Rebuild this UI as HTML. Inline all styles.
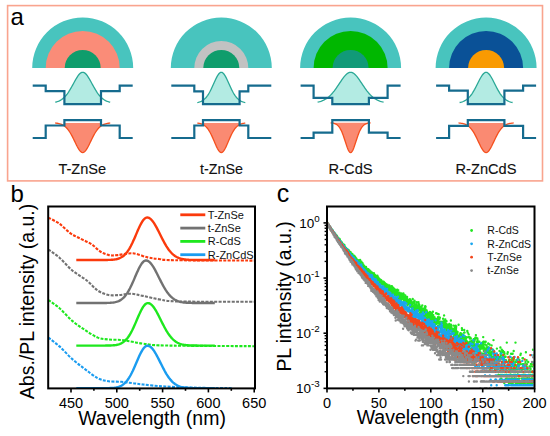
<!DOCTYPE html>
<html><head><meta charset="utf-8"><style>
html,body{margin:0;padding:0;background:#fff;}
svg{display:block;font-family:'Liberation Sans',sans-serif;}
text.s{stroke:#000;stroke-width:0.12px;}
</style></head><body>
<svg width="550" height="436" viewBox="0 0 550 436" style="font-family:'Liberation Sans',sans-serif">
<rect x="7.6" y="5.6" width="534.9" height="175.3" fill="none" stroke="#f9a48e" stroke-width="1.6"/>
<text x="10.5" y="25" font-size="24" fill="#000">a</text>
<path d="M32.20,68.0 A50.5,50.5 0 0 1 133.20,68.0 Z" fill="#48c4be"/>
<path d="M45.70,68.0 A37,37 0 0 1 119.70,68.0 Z" fill="#fa8c78"/>
<path d="M64.70,68.0 A18.0,18.0 0 0 1 100.70,68.0 Z" fill="#0f9d6c"/>
<clipPath id="cw82"><path d="M64.40,60 V104.2 H101.00 V60 Z"/></clipPath>
<path d="M55.20,102.23 L56.12,102.01 L57.03,101.74 L57.95,101.43 L58.87,101.06 L59.78,100.62 L60.70,100.12 L61.62,99.54 L62.53,98.87 L63.45,98.11 L64.37,97.26 L65.28,96.30 L66.20,95.23 L67.12,94.06 L68.03,92.78 L68.95,91.41 L69.87,89.94 L70.78,88.40 L71.70,86.79 L72.62,85.13 L73.53,83.45 L74.45,81.77 L75.37,80.12 L76.28,78.54 L77.20,77.06 L78.12,75.71 L79.03,74.55 L79.95,73.59 L80.87,72.88 L81.78,72.45 L82.70,72.30 L83.62,72.45 L84.53,72.88 L85.45,73.59 L86.37,74.55 L87.28,75.71 L88.20,77.06 L89.12,78.54 L90.03,80.12 L90.95,81.77 L91.87,83.45 L92.78,85.13 L93.70,86.79 L94.62,88.40 L95.53,89.94 L96.45,91.41 L97.37,92.78 L98.28,94.06 L99.20,95.23 L100.12,96.30 L101.03,97.26 L101.95,98.11 L102.87,98.87 L103.78,99.54 L104.70,100.12 L105.62,100.62 L106.53,101.06 L107.45,101.43 L108.37,101.74 L109.28,102.01 L110.20,102.23 L110.20,106.2 L55.20,106.2 Z" fill="#b3ebe3" clip-path="url(#cw82)"/>
<path d="M55.20,102.23 L56.12,102.01 L57.03,101.74 L57.95,101.43 L58.87,101.06 L59.78,100.62 L60.70,100.12 L61.62,99.54 L62.53,98.87 L63.45,98.11 L64.37,97.26 L65.28,96.30 L66.20,95.23 L67.12,94.06 L68.03,92.78 L68.95,91.41 L69.87,89.94 L70.78,88.40 L71.70,86.79 L72.62,85.13 L73.53,83.45 L74.45,81.77 L75.37,80.12 L76.28,78.54 L77.20,77.06 L78.12,75.71 L79.03,74.55 L79.95,73.59 L80.87,72.88 L81.78,72.45 L82.70,72.30 L83.62,72.45 L84.53,72.88 L85.45,73.59 L86.37,74.55 L87.28,75.71 L88.20,77.06 L89.12,78.54 L90.03,80.12 L90.95,81.77 L91.87,83.45 L92.78,85.13 L93.70,86.79 L94.62,88.40 L95.53,89.94 L96.45,91.41 L97.37,92.78 L98.28,94.06 L99.20,95.23 L100.12,96.30 L101.03,97.26 L101.95,98.11 L102.87,98.87 L103.78,99.54 L104.70,100.12 L105.62,100.62 L106.53,101.06 L107.45,101.43 L108.37,101.74 L109.28,102.01 L110.20,102.23" fill="none" stroke="#2aa896" stroke-width="1.3"/>
<path d="M32.70,85.7 H45.70 V91.2 H64.40 V104.2 H101.00 V91.2 H119.70 V85.7 H132.70" fill="none" stroke="#156b8e" stroke-width="2.2"/>
<clipPath id="cv82"><path d="M64.40,121.2 V170 H101.00 V121.2 Z"/></clipPath>
<path d="M55.20,123.02 L56.12,123.12 L57.03,123.25 L57.95,123.41 L58.87,123.60 L59.78,123.83 L60.70,124.12 L61.62,124.47 L62.53,124.89 L63.45,125.39 L64.37,126.00 L65.28,126.71 L66.20,127.55 L67.12,128.51 L68.03,129.61 L68.95,130.85 L69.87,132.23 L70.78,133.75 L71.70,135.40 L72.62,137.15 L73.53,138.99 L74.45,140.88 L75.37,142.80 L76.28,144.68 L77.20,146.49 L78.12,148.17 L79.03,149.66 L79.95,150.89 L80.87,151.82 L81.78,152.40 L82.70,152.60 L83.62,152.40 L84.53,151.82 L85.45,150.89 L86.37,149.66 L87.28,148.17 L88.20,146.49 L89.12,144.68 L90.03,142.80 L90.95,140.88 L91.87,138.99 L92.78,137.15 L93.70,135.40 L94.62,133.75 L95.53,132.23 L96.45,130.85 L97.37,129.61 L98.28,128.51 L99.20,127.55 L100.12,126.71 L101.03,126.00 L101.95,125.39 L102.87,124.89 L103.78,124.47 L104.70,124.12 L105.62,123.83 L106.53,123.60 L107.45,123.41 L108.37,123.25 L109.28,123.12 L110.20,123.02 Z" fill="#fa8a72" clip-path="url(#cv82)"/>
<path d="M55.20,123.02 L56.12,123.12 L57.03,123.25 L57.95,123.41 L58.87,123.60 L59.78,123.83 L60.70,124.12 L61.62,124.47 L62.53,124.89 L63.45,125.39 L64.37,126.00 L65.28,126.71 L66.20,127.55 L67.12,128.51 L68.03,129.61 L68.95,130.85 L69.87,132.23 L70.78,133.75 L71.70,135.40 L72.62,137.15 L73.53,138.99 L74.45,140.88 L75.37,142.80 L76.28,144.68 L77.20,146.49 L78.12,148.17 L79.03,149.66 L79.95,150.89 L80.87,151.82 L81.78,152.40 L82.70,152.60 L83.62,152.40 L84.53,151.82 L85.45,150.89 L86.37,149.66 L87.28,148.17 L88.20,146.49 L89.12,144.68 L90.03,142.80 L90.95,140.88 L91.87,138.99 L92.78,137.15 L93.70,135.40 L94.62,133.75 L95.53,132.23 L96.45,130.85 L97.37,129.61 L98.28,128.51 L99.20,127.55 L100.12,126.71 L101.03,126.00 L101.95,125.39 L102.87,124.89 L103.78,124.47 L104.70,124.12 L105.62,123.83 L106.53,123.60 L107.45,123.41 L108.37,123.25 L109.28,123.12 L110.20,123.02" fill="none" stroke="#f5501e" stroke-width="1.3"/>
<path d="M32.70,138.0 H45.70 V125.5 H64.40 V120.2 H101.00 V125.5 H119.70 V138.0 H132.70" fill="none" stroke="#156b8e" stroke-width="2.2"/>
<text class="s" x="82.30" y="174" font-size="14" text-anchor="middle" fill="#111" textLength="47.7" lengthAdjust="spacingAndGlyphs">T-ZnSe</text>
<path d="M170.80,68.0 A50.5,50.5 0 0 1 271.80,68.0 Z" fill="#48c4be"/>
<path d="M194.30,68.0 A27,27 0 0 1 248.30,68.0 Z" fill="#c2c2c2"/>
<path d="M203.30,68.0 A18.0,18.0 0 0 1 239.30,68.0 Z" fill="#0f9d6c"/>
<clipPath id="cw221"><path d="M203.00,60 V104.2 H239.60 V60 Z"/></clipPath>
<path d="M197.30,102.57 L198.10,102.40 L198.90,102.19 L199.70,101.94 L200.50,101.64 L201.30,101.29 L202.10,100.87 L202.90,100.37 L203.70,99.79 L204.50,99.12 L205.30,98.34 L206.10,97.46 L206.90,96.46 L207.70,95.34 L208.50,94.10 L209.30,92.74 L210.10,91.27 L210.90,89.69 L211.70,88.03 L212.50,86.30 L213.30,84.53 L214.10,82.74 L214.90,80.96 L215.70,79.24 L216.50,77.61 L217.30,76.13 L218.10,74.83 L218.90,73.76 L219.70,72.96 L220.50,72.47 L221.30,72.30 L222.10,72.47 L222.90,72.96 L223.70,73.76 L224.50,74.83 L225.30,76.13 L226.10,77.61 L226.90,79.24 L227.70,80.96 L228.50,82.74 L229.30,84.53 L230.10,86.30 L230.90,88.03 L231.70,89.69 L232.50,91.27 L233.30,92.74 L234.10,94.10 L234.90,95.34 L235.70,96.46 L236.50,97.46 L237.30,98.34 L238.10,99.12 L238.90,99.79 L239.70,100.37 L240.50,100.87 L241.30,101.29 L242.10,101.64 L242.90,101.94 L243.70,102.19 L244.50,102.40 L245.30,102.57 L245.30,106.2 L197.30,106.2 Z" fill="#b3ebe3" clip-path="url(#cw221)"/>
<path d="M197.30,102.57 L198.10,102.40 L198.90,102.19 L199.70,101.94 L200.50,101.64 L201.30,101.29 L202.10,100.87 L202.90,100.37 L203.70,99.79 L204.50,99.12 L205.30,98.34 L206.10,97.46 L206.90,96.46 L207.70,95.34 L208.50,94.10 L209.30,92.74 L210.10,91.27 L210.90,89.69 L211.70,88.03 L212.50,86.30 L213.30,84.53 L214.10,82.74 L214.90,80.96 L215.70,79.24 L216.50,77.61 L217.30,76.13 L218.10,74.83 L218.90,73.76 L219.70,72.96 L220.50,72.47 L221.30,72.30 L222.10,72.47 L222.90,72.96 L223.70,73.76 L224.50,74.83 L225.30,76.13 L226.10,77.61 L226.90,79.24 L227.70,80.96 L228.50,82.74 L229.30,84.53 L230.10,86.30 L230.90,88.03 L231.70,89.69 L232.50,91.27 L233.30,92.74 L234.10,94.10 L234.90,95.34 L235.70,96.46 L236.50,97.46 L237.30,98.34 L238.10,99.12 L238.90,99.79 L239.70,100.37 L240.50,100.87 L241.30,101.29 L242.10,101.64 L242.90,101.94 L243.70,102.19 L244.50,102.40 L245.30,102.57" fill="none" stroke="#2aa896" stroke-width="1.3"/>
<path d="M171.30,85.7 H194.30 V91.3 H203.00 V104.2 H239.60 V91.3 H248.30 V85.7 H271.30" fill="none" stroke="#156b8e" stroke-width="2.2"/>
<clipPath id="cv221"><path d="M203.00,121.2 V170 H239.60 V121.2 Z"/></clipPath>
<path d="M197.30,123.05 L198.10,123.16 L198.90,123.29 L199.70,123.46 L200.50,123.66 L201.30,123.90 L202.10,124.20 L202.90,124.56 L203.70,125.00 L204.50,125.52 L205.30,126.14 L206.10,126.87 L206.90,127.72 L207.70,128.70 L208.50,129.82 L209.30,131.07 L210.10,132.46 L210.90,133.98 L211.70,135.62 L212.50,137.37 L213.30,139.19 L214.10,141.07 L214.90,142.96 L215.70,144.82 L216.50,146.61 L217.30,148.26 L218.10,149.72 L218.90,150.93 L219.70,151.84 L220.50,152.41 L221.30,152.60 L222.10,152.41 L222.90,151.84 L223.70,150.93 L224.50,149.72 L225.30,148.26 L226.10,146.61 L226.90,144.82 L227.70,142.96 L228.50,141.07 L229.30,139.19 L230.10,137.37 L230.90,135.62 L231.70,133.98 L232.50,132.46 L233.30,131.07 L234.10,129.82 L234.90,128.70 L235.70,127.72 L236.50,126.87 L237.30,126.14 L238.10,125.52 L238.90,125.00 L239.70,124.56 L240.50,124.20 L241.30,123.90 L242.10,123.66 L242.90,123.46 L243.70,123.29 L244.50,123.16 L245.30,123.05 Z" fill="#fa8a72" clip-path="url(#cv221)"/>
<path d="M197.30,123.05 L198.10,123.16 L198.90,123.29 L199.70,123.46 L200.50,123.66 L201.30,123.90 L202.10,124.20 L202.90,124.56 L203.70,125.00 L204.50,125.52 L205.30,126.14 L206.10,126.87 L206.90,127.72 L207.70,128.70 L208.50,129.82 L209.30,131.07 L210.10,132.46 L210.90,133.98 L211.70,135.62 L212.50,137.37 L213.30,139.19 L214.10,141.07 L214.90,142.96 L215.70,144.82 L216.50,146.61 L217.30,148.26 L218.10,149.72 L218.90,150.93 L219.70,151.84 L220.50,152.41 L221.30,152.60 L222.10,152.41 L222.90,151.84 L223.70,150.93 L224.50,149.72 L225.30,148.26 L226.10,146.61 L226.90,144.82 L227.70,142.96 L228.50,141.07 L229.30,139.19 L230.10,137.37 L230.90,135.62 L231.70,133.98 L232.50,132.46 L233.30,131.07 L234.10,129.82 L234.90,128.70 L235.70,127.72 L236.50,126.87 L237.30,126.14 L238.10,125.52 L238.90,125.00 L239.70,124.56 L240.50,124.20 L241.30,123.90 L242.10,123.66 L242.90,123.46 L243.70,123.29 L244.50,123.16 L245.30,123.05" fill="none" stroke="#f5501e" stroke-width="1.3"/>
<path d="M171.30,138.0 H194.30 V125.5 H203.00 V120.2 H239.60 V125.5 H248.30 V138.0 H271.30" fill="none" stroke="#156b8e" stroke-width="2.2"/>
<text class="s" x="221.50" y="174" font-size="14" text-anchor="middle" fill="#111" textLength="42.8" lengthAdjust="spacingAndGlyphs">t-ZnSe</text>
<path d="M300.10,68.0 A50.5,50.5 0 0 1 401.10,68.0 Z" fill="#48c4be"/>
<path d="M313.60,68.0 A37,37 0 0 1 387.60,68.0 Z" fill="#00b700"/>
<path d="M332.60,68.0 A18.0,18.0 0 0 1 368.60,68.0 Z" fill="#119a78"/>
<clipPath id="cw350"><path d="M313.60,60 V97.8 H332.30 V104.2 H368.90 V97.8 H387.60 V60 Z"/></clipPath>
<path d="M317.60,102.12 L318.70,101.89 L319.80,101.60 L320.90,101.27 L322.00,100.88 L323.10,100.43 L324.20,99.90 L325.30,99.30 L326.40,98.61 L327.50,97.83 L328.60,96.95 L329.70,95.98 L330.80,94.90 L331.90,93.71 L333.00,92.43 L334.10,91.06 L335.20,89.59 L336.30,88.06 L337.40,86.46 L338.50,84.83 L339.60,83.17 L340.70,81.52 L341.80,79.91 L342.90,78.36 L344.00,76.92 L345.10,75.61 L346.20,74.48 L347.30,73.55 L348.40,72.87 L349.50,72.44 L350.60,72.30 L351.70,72.44 L352.80,72.87 L353.90,73.55 L355.00,74.48 L356.10,75.61 L357.20,76.92 L358.30,78.36 L359.40,79.91 L360.50,81.52 L361.60,83.17 L362.70,84.83 L363.80,86.46 L364.90,88.06 L366.00,89.59 L367.10,91.06 L368.20,92.43 L369.30,93.71 L370.40,94.90 L371.50,95.98 L372.60,96.95 L373.70,97.83 L374.80,98.61 L375.90,99.30 L377.00,99.90 L378.10,100.43 L379.20,100.88 L380.30,101.27 L381.40,101.60 L382.50,101.89 L383.60,102.12 L383.60,106.2 L317.60,106.2 Z" fill="#b3ebe3" clip-path="url(#cw350)"/>
<path d="M317.60,102.12 L318.70,101.89 L319.80,101.60 L320.90,101.27 L322.00,100.88 L323.10,100.43 L324.20,99.90 L325.30,99.30 L326.40,98.61 L327.50,97.83 L328.60,96.95 L329.70,95.98 L330.80,94.90 L331.90,93.71 L333.00,92.43 L334.10,91.06 L335.20,89.59 L336.30,88.06 L337.40,86.46 L338.50,84.83 L339.60,83.17 L340.70,81.52 L341.80,79.91 L342.90,78.36 L344.00,76.92 L345.10,75.61 L346.20,74.48 L347.30,73.55 L348.40,72.87 L349.50,72.44 L350.60,72.30 L351.70,72.44 L352.80,72.87 L353.90,73.55 L355.00,74.48 L356.10,75.61 L357.20,76.92 L358.30,78.36 L359.40,79.91 L360.50,81.52 L361.60,83.17 L362.70,84.83 L363.80,86.46 L364.90,88.06 L366.00,89.59 L367.10,91.06 L368.20,92.43 L369.30,93.71 L370.40,94.90 L371.50,95.98 L372.60,96.95 L373.70,97.83 L374.80,98.61 L375.90,99.30 L377.00,99.90 L378.10,100.43 L379.20,100.88 L380.30,101.27 L381.40,101.60 L382.50,101.89 L383.60,102.12" fill="none" stroke="#2aa896" stroke-width="1.3"/>
<path d="M300.60,85.7 H313.60 V97.8 H332.30 V104.2 H368.90 V97.8 H387.60 V85.7 H400.60" fill="none" stroke="#156b8e" stroke-width="2.2"/>
<clipPath id="cv350"><path d="M332.30,121.2 V170 H368.90 V121.2 Z"/></clipPath>
<path d="M330.60,122.82 L331.27,122.90 L331.93,122.98 L332.60,123.09 L333.27,123.22 L333.93,123.39 L334.60,123.59 L335.27,123.85 L335.93,124.16 L336.60,124.55 L337.27,125.03 L337.93,125.62 L338.60,126.33 L339.27,127.17 L339.93,128.15 L340.60,129.30 L341.27,130.61 L341.93,132.09 L342.60,133.73 L343.27,135.52 L343.93,137.43 L344.60,139.44 L345.27,141.50 L345.93,143.57 L346.60,145.59 L347.27,147.48 L347.93,149.18 L348.60,150.61 L349.27,151.69 L349.93,152.37 L350.60,152.60 L351.27,152.37 L351.93,151.69 L352.60,150.61 L353.27,149.18 L353.93,147.48 L354.60,145.59 L355.27,143.57 L355.93,141.50 L356.60,139.44 L357.27,137.43 L357.93,135.52 L358.60,133.73 L359.27,132.09 L359.93,130.61 L360.60,129.30 L361.27,128.15 L361.93,127.17 L362.60,126.33 L363.27,125.62 L363.93,125.03 L364.60,124.55 L365.27,124.16 L365.93,123.85 L366.60,123.59 L367.27,123.39 L367.93,123.22 L368.60,123.09 L369.27,122.98 L369.93,122.90 L370.60,122.82 Z" fill="#fa8a72" clip-path="url(#cv350)"/>
<path d="M330.60,122.82 L331.27,122.90 L331.93,122.98 L332.60,123.09 L333.27,123.22 L333.93,123.39 L334.60,123.59 L335.27,123.85 L335.93,124.16 L336.60,124.55 L337.27,125.03 L337.93,125.62 L338.60,126.33 L339.27,127.17 L339.93,128.15 L340.60,129.30 L341.27,130.61 L341.93,132.09 L342.60,133.73 L343.27,135.52 L343.93,137.43 L344.60,139.44 L345.27,141.50 L345.93,143.57 L346.60,145.59 L347.27,147.48 L347.93,149.18 L348.60,150.61 L349.27,151.69 L349.93,152.37 L350.60,152.60 L351.27,152.37 L351.93,151.69 L352.60,150.61 L353.27,149.18 L353.93,147.48 L354.60,145.59 L355.27,143.57 L355.93,141.50 L356.60,139.44 L357.27,137.43 L357.93,135.52 L358.60,133.73 L359.27,132.09 L359.93,130.61 L360.60,129.30 L361.27,128.15 L361.93,127.17 L362.60,126.33 L363.27,125.62 L363.93,125.03 L364.60,124.55 L365.27,124.16 L365.93,123.85 L366.60,123.59 L367.27,123.39 L367.93,123.22 L368.60,123.09 L369.27,122.98 L369.93,122.90 L370.60,122.82" fill="none" stroke="#f5501e" stroke-width="1.3"/>
<path d="M300.60,138.0 H313.60 V132.7 H332.30 V120.2 H368.90 V132.7 H387.60 V138.0 H400.60" fill="none" stroke="#156b8e" stroke-width="2.2"/>
<text class="s" x="350.60" y="174" font-size="14" text-anchor="middle" fill="#111" textLength="44.1" lengthAdjust="spacingAndGlyphs">R-CdS</text>
<path d="M435.60,68.0 A50.5,50.5 0 0 1 536.60,68.0 Z" fill="#48c4be"/>
<path d="M449.10,68.0 A37,37 0 0 1 523.10,68.0 Z" fill="#0a5197"/>
<path d="M468.10,68.0 A18.0,18.0 0 0 1 504.10,68.0 Z" fill="#f99a02"/>
<clipPath id="cw486"><path d="M467.80,60 V104.2 H504.40 V60 Z"/></clipPath>
<path d="M459.60,102.49 L460.48,102.31 L461.37,102.08 L462.25,101.82 L463.13,101.50 L464.02,101.13 L464.90,100.69 L465.78,100.17 L466.67,99.57 L467.55,98.87 L468.43,98.07 L469.32,97.17 L470.20,96.15 L471.08,95.01 L471.97,93.76 L472.85,92.40 L473.73,90.93 L474.62,89.36 L475.50,87.71 L476.38,86.00 L477.27,84.25 L478.15,82.48 L479.03,80.74 L479.92,79.05 L480.80,77.47 L481.68,76.02 L482.57,74.75 L483.45,73.71 L484.33,72.94 L485.22,72.46 L486.10,72.30 L486.98,72.46 L487.87,72.94 L488.75,73.71 L489.63,74.75 L490.52,76.02 L491.40,77.47 L492.28,79.05 L493.17,80.74 L494.05,82.48 L494.93,84.25 L495.82,86.00 L496.70,87.71 L497.58,89.36 L498.47,90.93 L499.35,92.40 L500.23,93.76 L501.12,95.01 L502.00,96.15 L502.88,97.17 L503.77,98.07 L504.65,98.87 L505.53,99.57 L506.42,100.17 L507.30,100.69 L508.18,101.13 L509.07,101.50 L509.95,101.82 L510.83,102.08 L511.72,102.31 L512.60,102.49 L512.60,106.2 L459.60,106.2 Z" fill="#b3ebe3" clip-path="url(#cw486)"/>
<path d="M459.60,102.49 L460.48,102.31 L461.37,102.08 L462.25,101.82 L463.13,101.50 L464.02,101.13 L464.90,100.69 L465.78,100.17 L466.67,99.57 L467.55,98.87 L468.43,98.07 L469.32,97.17 L470.20,96.15 L471.08,95.01 L471.97,93.76 L472.85,92.40 L473.73,90.93 L474.62,89.36 L475.50,87.71 L476.38,86.00 L477.27,84.25 L478.15,82.48 L479.03,80.74 L479.92,79.05 L480.80,77.47 L481.68,76.02 L482.57,74.75 L483.45,73.71 L484.33,72.94 L485.22,72.46 L486.10,72.30 L486.98,72.46 L487.87,72.94 L488.75,73.71 L489.63,74.75 L490.52,76.02 L491.40,77.47 L492.28,79.05 L493.17,80.74 L494.05,82.48 L494.93,84.25 L495.82,86.00 L496.70,87.71 L497.58,89.36 L498.47,90.93 L499.35,92.40 L500.23,93.76 L501.12,95.01 L502.00,96.15 L502.88,97.17 L503.77,98.07 L504.65,98.87 L505.53,99.57 L506.42,100.17 L507.30,100.69 L508.18,101.13 L509.07,101.50 L509.95,101.82 L510.83,102.08 L511.72,102.31 L512.60,102.49" fill="none" stroke="#2aa896" stroke-width="1.3"/>
<path d="M436.10,85.7 H449.10 V90.6 H467.80 V104.2 H504.40 V90.6 H523.10 V85.7 H536.10" fill="none" stroke="#156b8e" stroke-width="2.2"/>
<clipPath id="cv486"><path d="M467.80,121.2 V170 H504.40 V121.2 Z"/></clipPath>
<path d="M458.50,122.94 L459.42,123.04 L460.34,123.15 L461.26,123.29 L462.18,123.46 L463.10,123.66 L464.02,123.92 L464.94,124.23 L465.86,124.62 L466.78,125.09 L467.70,125.65 L468.62,126.32 L469.54,127.11 L470.46,128.04 L471.38,129.10 L472.30,130.32 L473.22,131.68 L474.14,133.19 L475.06,134.84 L475.98,136.60 L476.90,138.47 L477.82,140.41 L478.74,142.37 L479.66,144.32 L480.58,146.20 L481.50,147.95 L482.42,149.50 L483.34,150.80 L484.26,151.78 L485.18,152.39 L486.10,152.60 L487.02,152.39 L487.94,151.78 L488.86,150.80 L489.78,149.50 L490.70,147.95 L491.62,146.20 L492.54,144.32 L493.46,142.37 L494.38,140.41 L495.30,138.47 L496.22,136.60 L497.14,134.84 L498.06,133.19 L498.98,131.68 L499.90,130.32 L500.82,129.10 L501.74,128.04 L502.66,127.11 L503.58,126.32 L504.50,125.65 L505.42,125.09 L506.34,124.62 L507.26,124.23 L508.18,123.92 L509.10,123.66 L510.02,123.46 L510.94,123.29 L511.86,123.15 L512.78,123.04 L513.70,122.94 Z" fill="#fa8a72" clip-path="url(#cv486)"/>
<path d="M458.50,122.94 L459.42,123.04 L460.34,123.15 L461.26,123.29 L462.18,123.46 L463.10,123.66 L464.02,123.92 L464.94,124.23 L465.86,124.62 L466.78,125.09 L467.70,125.65 L468.62,126.32 L469.54,127.11 L470.46,128.04 L471.38,129.10 L472.30,130.32 L473.22,131.68 L474.14,133.19 L475.06,134.84 L475.98,136.60 L476.90,138.47 L477.82,140.41 L478.74,142.37 L479.66,144.32 L480.58,146.20 L481.50,147.95 L482.42,149.50 L483.34,150.80 L484.26,151.78 L485.18,152.39 L486.10,152.60 L487.02,152.39 L487.94,151.78 L488.86,150.80 L489.78,149.50 L490.70,147.95 L491.62,146.20 L492.54,144.32 L493.46,142.37 L494.38,140.41 L495.30,138.47 L496.22,136.60 L497.14,134.84 L498.06,133.19 L498.98,131.68 L499.90,130.32 L500.82,129.10 L501.74,128.04 L502.66,127.11 L503.58,126.32 L504.50,125.65 L505.42,125.09 L506.34,124.62 L507.26,124.23 L508.18,123.92 L509.10,123.66 L510.02,123.46 L510.94,123.29 L511.86,123.15 L512.78,123.04 L513.70,122.94" fill="none" stroke="#f5501e" stroke-width="1.3"/>
<path d="M436.10,138.0 H449.10 V125.8 H467.80 V120.2 H504.40 V125.8 H523.10 V138.0 H536.10" fill="none" stroke="#156b8e" stroke-width="2.2"/>
<text class="s" x="486.00" y="174" font-size="14" text-anchor="middle" fill="#111" textLength="60.9" lengthAdjust="spacingAndGlyphs">R-ZnCdS</text>
<text x="10.5" y="202" font-size="24" fill="#000">b</text>
<text x="276.8" y="202.2" font-size="25" fill="#000">c</text>
<clipPath id="pb"><rect x="48.2" y="206.5" width="206.8" height="181.89999999999998"/></clipPath>
<g clip-path="url(#pb)">
<path d="M48.30,217.60 C50.17,218.63 55.80,221.18 59.50,223.80 C63.20,226.42 66.85,230.75 70.50,233.30 C74.15,235.85 77.90,237.28 81.40,239.10 C84.90,240.92 88.35,242.13 91.50,244.20 C94.65,246.27 97.38,249.68 100.30,251.50 C103.22,253.32 106.10,254.50 109.00,255.10 C111.90,255.70 113.72,255.40 117.70,255.10 C121.68,254.80 127.92,252.92 132.90,253.30 C137.88,253.68 143.25,256.45 147.60,257.40 C151.95,258.35 154.43,258.53 159.00,259.00 C163.57,259.47 159.07,259.93 175.00,260.20 C190.93,260.47 241.33,260.53 254.60,260.60" fill="none" stroke="#fb3a0c" stroke-width="2.1" stroke-dasharray="3.0 1.35"/>
<path d="M48.30,249.50 C50.17,250.87 55.50,254.20 59.50,257.70 C63.50,261.20 67.75,266.70 72.30,270.50 C76.85,274.30 82.57,277.17 86.80,280.50 C91.03,283.83 94.07,288.08 97.70,290.50 C101.33,292.92 104.97,294.25 108.60,295.00 C112.23,295.75 115.85,295.22 119.50,295.00 C123.15,294.78 126.58,293.55 130.50,293.70 C134.42,293.85 138.08,294.93 143.00,295.90 C147.92,296.87 153.83,298.57 160.00,299.50 C166.17,300.43 164.23,301.12 180.00,301.50 C195.77,301.88 242.17,301.75 254.60,301.80" fill="none" stroke="#727272" stroke-width="2.1" stroke-dasharray="3.0 1.35"/>
<path d="M48.30,300.00 C50.17,301.37 55.50,304.72 59.50,308.20 C63.50,311.68 68.05,317.27 72.30,320.90 C76.55,324.53 80.77,327.22 85.00,330.00 C89.23,332.78 93.77,336.02 97.70,337.60 C101.63,339.18 104.65,339.10 108.60,339.50 C112.55,339.90 117.45,339.62 121.40,340.00 C125.35,340.38 128.70,341.20 132.30,341.80 C135.90,342.40 137.55,342.98 143.00,343.60 C148.45,344.22 146.40,345.07 165.00,345.50 C183.60,345.93 239.67,346.08 254.60,346.20" fill="none" stroke="#1ee81e" stroke-width="2.1" stroke-dasharray="3.0 1.35"/>
<path d="M48.30,337.60 C50.17,339.07 55.50,342.82 59.50,346.40 C63.50,349.98 68.05,355.32 72.30,359.10 C76.55,362.88 80.77,365.92 85.00,369.10 C89.23,372.28 93.77,376.17 97.70,378.20 C101.63,380.23 104.65,380.70 108.60,381.30 C112.55,381.90 117.45,381.50 121.40,381.80 C125.35,382.10 128.70,382.65 132.30,383.10 C135.90,383.55 137.55,383.93 143.00,384.50 C148.45,385.07 155.50,385.95 165.00,386.50 C174.50,387.05 188.67,387.52 200.00,387.80 C211.33,388.08 227.50,388.13 233.00,388.20" fill="none" stroke="#1a9cf0" stroke-width="2.1" stroke-dasharray="3.0 1.35"/>
<path d="M76.30,260.00 L77.17,260.00 L78.03,260.00 L78.90,260.00 L79.76,260.00 L80.63,260.00 L81.49,260.00 L82.36,260.00 L83.22,260.00 L84.09,260.00 L84.96,260.00 L85.82,260.00 L86.69,260.00 L87.55,260.00 L88.42,260.00 L89.28,260.00 L90.15,260.00 L91.02,260.00 L91.88,260.00 L92.75,260.00 L93.61,260.00 L94.48,260.00 L95.34,260.00 L96.21,260.00 L97.07,260.00 L97.94,260.00 L98.81,260.00 L99.67,260.00 L100.54,259.99 L101.40,259.99 L102.27,259.99 L103.13,259.99 L104.00,259.98 L104.87,259.97 L105.73,259.97 L106.60,259.95 L107.46,259.94 L108.33,259.92 L109.19,259.89 L110.06,259.86 L110.92,259.82 L111.79,259.76 L112.66,259.69 L113.52,259.61 L114.39,259.50 L115.25,259.37 L116.12,259.22 L116.98,259.02 L117.85,258.79 L118.72,258.51 L119.58,258.18 L120.45,257.79 L121.31,257.33 L122.18,256.80 L123.04,256.19 L123.91,255.48 L124.78,254.68 L125.64,253.77 L126.51,252.76 L127.37,251.63 L128.24,250.38 L129.10,249.02 L129.97,247.54 L130.83,245.95 L131.70,244.25 L132.57,242.46 L133.43,240.58 L134.30,238.64 L135.16,236.65 L136.03,234.63 L136.89,232.60 L137.76,230.59 L138.62,228.64 L139.49,226.75 L140.36,224.98 L141.22,223.33 L142.09,221.85 L142.95,220.55 L143.82,219.46 L144.68,218.60 L145.55,217.98 L146.42,217.61 L147.28,217.50 L148.15,217.62 L149.01,217.92 L149.88,218.42 L150.74,219.10 L151.61,219.95 L152.47,220.96 L153.34,222.12 L154.21,223.41 L155.07,224.82 L155.94,226.33 L156.80,227.93 L157.67,229.58 L158.53,231.28 L159.40,233.02 L160.27,234.76 L161.13,236.49 L162.00,238.21 L162.86,239.90 L163.73,241.54 L164.59,243.12 L165.46,244.64 L166.32,246.08 L167.19,247.45 L168.06,248.73 L168.92,249.93 L169.79,251.04 L170.65,252.07 L171.52,253.01 L172.38,253.87 L173.25,254.64 L174.12,255.34 L174.98,255.97 L175.85,256.53 L176.71,257.02 L177.58,257.46 L178.44,257.84 L179.31,258.17 L180.18,258.46 L181.04,258.71 L181.91,258.92 L182.77,259.11 L183.64,259.26 L184.50,259.39 L185.37,259.50 L186.23,259.59 L187.10,259.67 L187.97,259.73 L188.83,259.79 L189.70,259.83 L190.56,259.86 L191.43,259.89 L192.29,259.91 L193.16,259.93 L194.02,259.95 L194.89,259.96 L195.76,259.97 L196.62,259.98 L197.49,259.98 L198.35,259.99 L199.22,259.99 L200.08,259.99 L200.95,259.99 L201.82,260.00 L202.68,260.00 L203.55,260.00 L204.41,260.00 L205.28,260.00 L206.14,260.00 L207.01,260.00 L207.88,260.00 L208.74,260.00 L209.61,260.00 L210.47,260.00 L211.34,260.00 L212.20,260.00 L213.07,260.00 L213.93,260.00 L214.80,260.00" fill="none" stroke="#fb3a0c" stroke-width="2.4"/>
<path d="M76.30,303.00 L77.17,303.00 L78.03,303.00 L78.90,303.00 L79.76,303.00 L80.63,303.00 L81.49,303.00 L82.36,303.00 L83.22,303.00 L84.09,303.00 L84.96,303.00 L85.82,303.00 L86.69,303.00 L87.55,303.00 L88.42,303.00 L89.28,303.00 L90.15,303.00 L91.02,303.00 L91.88,303.00 L92.75,303.00 L93.61,303.00 L94.48,303.00 L95.34,303.00 L96.21,303.00 L97.07,303.00 L97.94,303.00 L98.81,303.00 L99.67,302.99 L100.54,302.99 L101.40,302.99 L102.27,302.98 L103.13,302.98 L104.00,302.97 L104.87,302.96 L105.73,302.95 L106.60,302.93 L107.46,302.91 L108.33,302.88 L109.19,302.84 L110.06,302.80 L110.92,302.74 L111.79,302.66 L112.66,302.57 L113.52,302.46 L114.39,302.32 L115.25,302.15 L116.12,301.94 L116.98,301.69 L117.85,301.39 L118.72,301.04 L119.58,300.62 L120.45,300.14 L121.31,299.58 L122.18,298.93 L123.04,298.18 L123.91,297.34 L124.78,296.39 L125.64,295.33 L126.51,294.16 L127.37,292.87 L128.24,291.46 L129.10,289.94 L129.97,288.30 L130.83,286.57 L131.70,284.74 L132.57,282.84 L133.43,280.87 L134.30,278.87 L135.16,276.84 L136.03,274.82 L136.89,272.83 L137.76,270.90 L138.62,269.05 L139.49,267.33 L140.36,265.74 L141.22,264.33 L142.09,263.11 L142.95,262.10 L143.82,261.33 L144.68,260.80 L145.55,260.54 L146.42,260.52 L147.28,260.71 L148.15,261.09 L149.01,261.66 L149.88,262.41 L150.74,263.32 L151.61,264.39 L152.47,265.60 L153.34,266.94 L154.21,268.40 L155.07,269.94 L155.94,271.56 L156.80,273.23 L157.67,274.95 L158.53,276.69 L159.40,278.43 L160.27,280.16 L161.13,281.87 L162.00,283.54 L162.86,285.15 L163.73,286.71 L164.59,288.20 L165.46,289.62 L166.32,290.95 L167.19,292.20 L168.06,293.37 L168.92,294.45 L169.79,295.44 L170.65,296.35 L171.52,297.17 L172.38,297.92 L173.25,298.59 L174.12,299.19 L174.98,299.73 L175.85,300.20 L176.71,300.61 L177.58,300.97 L178.44,301.29 L179.31,301.56 L180.18,301.80 L181.04,302.00 L181.91,302.17 L182.77,302.31 L183.64,302.44 L184.50,302.54 L185.37,302.62 L186.23,302.70 L187.10,302.75 L187.97,302.80 L188.83,302.84 L189.70,302.87 L190.56,302.90 L191.43,302.92 L192.29,302.94 L193.16,302.95 L194.02,302.96 L194.89,302.97 L195.76,302.98 L196.62,302.98 L197.49,302.99 L198.35,302.99 L199.22,302.99 L200.08,302.99 L200.95,303.00 L201.82,303.00 L202.68,303.00 L203.55,303.00 L204.41,303.00 L205.28,303.00 L206.14,303.00 L207.01,303.00 L207.88,303.00 L208.74,303.00 L209.61,303.00 L210.47,303.00 L211.34,303.00 L212.20,303.00 L213.07,303.00 L213.93,303.00 L214.80,303.00" fill="none" stroke="#727272" stroke-width="2.4"/>
<path d="M76.30,345.60 L77.17,345.60 L78.03,345.60 L78.90,345.60 L79.76,345.60 L80.63,345.60 L81.49,345.60 L82.36,345.60 L83.22,345.60 L84.09,345.60 L84.96,345.60 L85.82,345.60 L86.69,345.60 L87.55,345.60 L88.42,345.60 L89.28,345.60 L90.15,345.60 L91.02,345.60 L91.88,345.60 L92.75,345.60 L93.61,345.60 L94.48,345.60 L95.34,345.60 L96.21,345.60 L97.07,345.60 L97.94,345.60 L98.81,345.60 L99.67,345.60 L100.54,345.60 L101.40,345.59 L102.27,345.59 L103.13,345.59 L104.00,345.59 L104.87,345.58 L105.73,345.57 L106.60,345.56 L107.46,345.55 L108.33,345.53 L109.19,345.51 L110.06,345.49 L110.92,345.45 L111.79,345.41 L112.66,345.35 L113.52,345.28 L114.39,345.19 L115.25,345.08 L116.12,344.95 L116.98,344.78 L117.85,344.58 L118.72,344.34 L119.58,344.05 L120.45,343.71 L121.31,343.31 L122.18,342.84 L123.04,342.29 L123.91,341.66 L124.78,340.94 L125.64,340.11 L126.51,339.19 L127.37,338.15 L128.24,337.00 L129.10,335.73 L129.97,334.34 L130.83,332.84 L131.70,331.23 L132.57,329.52 L133.43,327.71 L134.30,325.82 L135.16,323.86 L136.03,321.86 L136.89,319.84 L137.76,317.81 L138.62,315.81 L139.49,313.87 L140.36,312.01 L141.22,310.25 L142.09,308.64 L142.95,307.19 L143.82,305.93 L144.68,304.88 L145.55,304.06 L146.42,303.49 L147.28,303.17 L148.15,303.11 L149.01,303.26 L149.88,303.60 L150.74,304.14 L151.61,304.85 L152.47,305.73 L153.34,306.77 L154.21,307.96 L155.07,309.27 L155.94,310.70 L156.80,312.23 L157.67,313.84 L158.53,315.50 L159.40,317.21 L160.27,318.95 L161.13,320.69 L162.00,322.43 L162.86,324.14 L163.73,325.81 L164.59,327.44 L165.46,329.01 L166.32,330.52 L167.19,331.95 L168.06,333.30 L168.92,334.57 L169.79,335.75 L170.65,336.85 L171.52,337.85 L172.38,338.78 L173.25,339.62 L174.12,340.38 L174.98,341.07 L175.85,341.68 L176.71,342.23 L177.58,342.71 L178.44,343.13 L179.31,343.51 L180.18,343.83 L181.04,344.11 L181.91,344.35 L182.77,344.56 L183.64,344.74 L184.50,344.89 L185.37,345.01 L186.23,345.12 L187.10,345.21 L187.97,345.28 L188.83,345.34 L189.70,345.39 L190.56,345.44 L191.43,345.47 L192.29,345.50 L193.16,345.52 L194.02,345.54 L194.89,345.55 L195.76,345.56 L196.62,345.57 L197.49,345.58 L198.35,345.58 L199.22,345.59 L200.08,345.59 L200.95,345.59 L201.82,345.59 L202.68,345.60 L203.55,345.60 L204.41,345.60 L205.28,345.60 L206.14,345.60 L207.01,345.60 L207.88,345.60 L208.74,345.60 L209.61,345.60 L210.47,345.60 L211.34,345.60 L212.20,345.60 L213.07,345.60 L213.93,345.60 L214.80,345.60" fill="none" stroke="#1ee81e" stroke-width="2.4"/>
<path d="M76.30,388.20 L77.17,388.20 L78.03,388.20 L78.90,388.20 L79.76,388.20 L80.63,388.20 L81.49,388.20 L82.36,388.20 L83.22,388.20 L84.09,388.20 L84.96,388.20 L85.82,388.20 L86.69,388.20 L87.55,388.20 L88.42,388.20 L89.28,388.20 L90.15,388.20 L91.02,388.20 L91.88,388.20 L92.75,388.20 L93.61,388.20 L94.48,388.20 L95.34,388.20 L96.21,388.20 L97.07,388.20 L97.94,388.20 L98.81,388.20 L99.67,388.20 L100.54,388.20 L101.40,388.19 L102.27,388.19 L103.13,388.19 L104.00,388.18 L104.87,388.18 L105.73,388.17 L106.60,388.16 L107.46,388.14 L108.33,388.13 L109.19,388.10 L110.06,388.07 L110.92,388.03 L111.79,387.98 L112.66,387.92 L113.52,387.84 L114.39,387.74 L115.25,387.62 L116.12,387.47 L116.98,387.29 L117.85,387.08 L118.72,386.81 L119.58,386.50 L120.45,386.13 L121.31,385.70 L122.18,385.20 L123.04,384.61 L123.91,383.94 L124.78,383.17 L125.64,382.30 L126.51,381.32 L127.37,380.23 L128.24,379.03 L129.10,377.70 L129.97,376.26 L130.83,374.71 L131.70,373.05 L132.57,371.29 L133.43,369.44 L134.30,367.52 L135.16,365.54 L136.03,363.53 L136.89,361.50 L137.76,359.48 L138.62,357.51 L139.49,355.60 L140.36,353.78 L141.22,352.09 L142.09,350.55 L142.95,349.18 L143.82,348.01 L144.68,347.07 L145.55,346.36 L146.42,345.91 L147.28,345.71 L148.15,345.75 L149.01,346.00 L149.88,346.43 L150.74,347.04 L151.61,347.83 L152.47,348.79 L153.34,349.90 L154.21,351.15 L155.07,352.52 L155.94,354.00 L156.80,355.57 L157.67,357.20 L158.53,358.89 L159.40,360.61 L160.27,362.35 L161.13,364.09 L162.00,365.82 L162.86,367.52 L163.73,369.17 L164.59,370.78 L165.46,372.32 L166.32,373.79 L167.19,375.18 L168.06,376.50 L168.92,377.72 L169.79,378.87 L170.65,379.92 L171.52,380.89 L172.38,381.78 L173.25,382.58 L174.12,383.31 L174.98,383.96 L175.85,384.54 L176.71,385.06 L177.58,385.51 L178.44,385.91 L179.31,386.26 L180.18,386.57 L181.04,386.83 L181.91,387.05 L182.77,387.25 L183.64,387.41 L184.50,387.55 L185.37,387.67 L186.23,387.76 L187.10,387.85 L187.97,387.91 L188.83,387.97 L189.70,388.01 L190.56,388.05 L191.43,388.08 L192.29,388.11 L193.16,388.13 L194.02,388.14 L194.89,388.16 L195.76,388.17 L196.62,388.17 L197.49,388.18 L198.35,388.18 L199.22,388.19 L200.08,388.19 L200.95,388.19 L201.82,388.19 L202.68,388.20 L203.55,388.20 L204.41,388.20 L205.28,388.20 L206.14,388.20 L207.01,388.20 L207.88,388.20 L208.74,388.20 L209.61,388.20 L210.47,388.20 L211.34,388.20 L212.20,388.20 L213.07,388.20 L213.93,388.20 L214.80,388.20" fill="none" stroke="#1a9cf0" stroke-width="2.4"/>
</g>
<line x1="180.3" y1="214.80" x2="205.3" y2="214.80" stroke="#fb3a0c" stroke-width="2.8"/>
<text x="207.8" y="218.70" font-size="11" fill="#111">T-ZnSe</text>
<line x1="180.3" y1="228.10" x2="205.3" y2="228.10" stroke="#727272" stroke-width="2.8"/>
<text x="207.8" y="232.00" font-size="11" fill="#111">t-ZnSe</text>
<line x1="180.3" y1="241.40" x2="205.3" y2="241.40" stroke="#1ee81e" stroke-width="2.8"/>
<text x="207.8" y="245.30" font-size="11" fill="#111">R-CdS</text>
<line x1="180.3" y1="254.70" x2="205.3" y2="254.70" stroke="#1a9cf0" stroke-width="2.8"/>
<text x="207.8" y="258.60" font-size="11" fill="#111">R-ZnCdS</text>
<rect x="48.2" y="206.5" width="206.8" height="181.89999999999998" fill="none" stroke="#000" stroke-width="2"/>
<line x1="71.00" y1="388.4" x2="71.00" y2="392.4" stroke="#000" stroke-width="1.6"/>
<text x="71.00" y="407.5" font-size="14.5" text-anchor="middle" fill="#000">450</text>
<line x1="93.90" y1="388.4" x2="93.90" y2="390.79999999999995" stroke="#000" stroke-width="1.6"/>
<line x1="116.80" y1="388.4" x2="116.80" y2="392.4" stroke="#000" stroke-width="1.6"/>
<text x="116.80" y="407.5" font-size="14.5" text-anchor="middle" fill="#000">500</text>
<line x1="139.70" y1="388.4" x2="139.70" y2="390.79999999999995" stroke="#000" stroke-width="1.6"/>
<line x1="162.60" y1="388.4" x2="162.60" y2="392.4" stroke="#000" stroke-width="1.6"/>
<text x="162.60" y="407.5" font-size="14.5" text-anchor="middle" fill="#000">550</text>
<line x1="185.50" y1="388.4" x2="185.50" y2="390.79999999999995" stroke="#000" stroke-width="1.6"/>
<line x1="208.40" y1="388.4" x2="208.40" y2="392.4" stroke="#000" stroke-width="1.6"/>
<text x="208.40" y="407.5" font-size="14.5" text-anchor="middle" fill="#000">600</text>
<line x1="231.30" y1="388.4" x2="231.30" y2="390.79999999999995" stroke="#000" stroke-width="1.6"/>
<line x1="254.20" y1="388.4" x2="254.20" y2="392.4" stroke="#000" stroke-width="1.6"/>
<text x="254.20" y="407.5" font-size="14.5" text-anchor="middle" fill="#000">650</text>
<text x="152" y="424.5" font-size="19.5" text-anchor="middle" fill="#000">Wavelength (nm)</text>
<text transform="translate(34.0,301.5) rotate(-90)" font-size="19.5" text-anchor="middle" fill="#000">Abs./PL intensity (a.u.)</text>
<clipPath id="pc"><rect x="328.0" y="207.5" width="205.5" height="180.89999999999998"/></clipPath>
<g clip-path="url(#pc)">
<path d="M327.0 222.9h0M327.1 222.5h0M327.2 222.7h0M327.3 223.6h0M327.4 223.7h0M327.5 224.0h0M327.7 223.7h0M327.8 224.1h0M327.9 223.9h0M328.0 225.2h0M328.1 223.9h0M328.2 224.8h0M328.3 224.6h0M328.4 225.1h0M328.5 225.4h0M328.6 225.2h0M328.7 225.2h0M328.9 225.8h0M329.0 225.9h0M329.1 225.7h0M329.2 226.6h0M329.3 227.0h0M329.4 226.3h0M329.5 227.0h0M329.6 227.7h0M329.7 227.4h0M329.8 227.4h0M330.0 227.9h0M330.1 228.2h0M330.2 227.6h0M330.3 227.4h0M330.4 228.1h0M330.5 228.5h0M330.6 228.1h0M330.7 228.1h0M330.8 228.7h0M330.9 228.5h0M331.0 228.4h0M331.2 229.2h0M331.3 229.6h0M331.4 229.2h0M331.5 229.4h0M331.6 229.2h0M331.7 230.5h0M331.8 230.3h0M331.9 230.6h0M332.0 231.2h0M332.1 230.4h0M332.2 230.4h0M332.4 231.2h0M332.5 230.3h0M332.6 230.7h0M332.7 230.9h0M332.8 231.2h0M332.9 231.1h0M333.0 232.4h0M333.1 231.6h0M333.2 231.7h0M333.3 233.1h0M333.4 232.2h0M333.6 232.6h0M333.7 232.2h0M333.8 233.0h0M333.9 233.0h0M334.0 232.9h0M334.1 233.7h0M334.2 233.1h0M334.3 233.6h0M334.4 233.4h0M334.5 234.1h0M334.7 233.4h0M334.8 233.8h0M334.9 234.4h0M335.0 234.1h0M335.1 233.9h0M335.2 233.8h0M335.3 235.8h0M335.4 234.6h0M335.5 234.9h0M335.6 235.4h0M335.7 236.0h0M335.9 234.9h0M336.0 236.5h0M336.1 235.6h0M336.2 235.3h0M336.3 237.1h0M336.4 236.5h0M336.5 237.3h0M336.6 236.5h0M336.7 235.9h0M336.8 235.8h0M336.9 238.1h0M337.1 237.6h0M337.2 237.0h0M337.3 236.6h0M337.4 237.4h0M337.5 238.2h0M337.6 237.8h0M337.7 238.1h0M337.8 238.4h0M337.9 238.8h0M338.0 238.3h0M338.2 238.5h0M338.3 238.9h0M338.4 239.1h0M338.5 239.9h0M338.6 239.5h0M338.7 238.7h0M338.8 239.6h0M338.9 240.5h0M339.0 239.0h0M339.1 239.6h0M339.2 238.8h0M339.4 240.2h0M339.5 240.7h0M339.6 241.4h0M339.7 239.8h0M339.8 239.2h0M339.9 241.4h0M340.0 241.5h0M340.1 240.8h0M340.2 241.9h0M340.3 241.7h0M340.4 241.8h0M340.6 241.6h0M340.7 241.2h0M340.8 242.0h0M340.9 241.6h0M341.0 242.6h0M341.1 242.2h0M341.2 244.0h0M341.3 243.6h0M341.4 242.3h0M341.5 243.4h0M341.6 242.8h0M341.8 242.9h0M341.9 242.5h0M342.0 243.0h0M342.1 243.0h0M342.2 243.9h0M342.3 244.4h0M342.4 244.5h0M342.5 244.5h0M342.6 245.1h0M342.7 244.8h0M342.9 244.7h0M343.0 244.6h0M343.1 245.1h0M343.2 246.3h0M343.3 245.2h0M343.4 245.1h0M343.5 244.7h0M343.6 245.1h0M343.7 246.1h0M343.8 246.3h0M343.9 244.6h0M344.1 245.5h0M344.2 244.9h0M344.3 244.9h0M344.4 247.0h0M344.5 246.3h0M344.6 246.4h0M344.7 246.5h0M344.8 246.6h0M344.9 247.0h0M345.0 247.1h0M345.1 248.4h0M345.3 247.6h0M345.4 248.2h0M345.5 247.7h0M345.6 248.2h0M345.7 247.6h0M345.8 247.6h0M345.9 248.0h0M346.0 248.2h0M346.1 248.5h0M346.2 249.0h0M346.3 248.9h0M346.5 249.3h0M346.6 248.8h0M346.7 249.1h0M346.8 248.9h0M346.9 250.4h0M347.0 248.9h0M347.1 250.2h0M347.2 250.3h0M347.3 250.1h0M347.4 250.5h0M347.6 249.9h0M347.7 250.7h0M347.8 251.2h0M347.9 251.2h0M348.0 249.7h0M348.1 250.8h0M348.2 251.8h0M348.3 251.0h0M348.4 252.4h0M348.5 249.9h0M348.6 252.6h0M348.8 251.2h0M348.9 251.2h0M349.0 252.9h0M349.1 251.7h0M349.2 251.3h0M349.3 251.8h0M349.4 252.1h0M349.5 251.7h0M349.6 252.4h0M349.7 252.4h0M349.8 252.9h0M350.0 252.4h0M350.1 253.8h0M350.2 252.5h0M350.3 253.6h0M350.4 254.2h0M350.5 253.2h0M350.6 252.2h0M350.7 252.9h0M350.8 254.3h0M350.9 253.4h0M351.1 254.5h0M351.2 254.3h0M351.3 254.3h0M351.4 256.3h0M351.5 254.4h0M351.6 255.5h0M351.7 255.4h0M351.8 256.1h0M351.9 256.3h0M352.0 255.9h0M352.1 254.6h0M352.3 254.0h0M352.4 255.5h0M352.5 254.7h0M352.6 256.0h0M352.7 257.5h0M352.8 255.9h0M352.9 255.7h0M353.0 256.6h0M353.1 256.1h0M353.2 256.0h0M353.3 257.3h0M353.5 257.9h0M353.6 257.0h0M353.7 257.1h0M353.8 257.3h0M353.9 256.3h0M354.0 255.8h0M354.1 257.7h0M354.2 256.9h0M354.3 256.8h0M354.4 257.1h0M354.5 256.9h0M354.7 258.3h0M354.8 257.4h0M354.9 256.4h0M355.0 257.6h0M355.1 258.9h0M355.2 258.0h0M355.3 257.5h0M355.4 258.4h0M355.5 259.4h0M355.6 257.6h0M355.8 260.2h0M355.9 258.7h0M356.0 259.3h0M356.1 260.5h0M356.2 258.4h0M356.3 259.3h0M356.4 260.8h0M356.5 259.3h0M356.6 260.4h0M356.7 261.8h0M356.8 260.8h0M357.0 260.1h0M357.1 259.8h0M357.2 260.4h0M357.3 260.6h0M357.4 260.3h0M357.5 261.1h0M357.6 259.9h0M357.7 260.9h0M357.8 260.9h0M357.9 260.8h0M358.0 262.4h0M358.2 262.2h0M358.3 260.2h0M358.4 261.4h0M358.5 262.1h0M358.6 261.6h0M358.7 262.5h0M358.8 261.9h0M358.9 262.9h0M359.0 262.1h0M359.1 264.0h0M359.2 261.3h0M359.4 263.2h0M359.5 264.4h0M359.6 263.2h0M359.7 263.4h0M359.8 263.0h0M359.9 264.4h0M360.0 263.0h0M360.1 259.9h0M360.2 264.9h0M360.3 263.3h0M360.5 264.1h0M360.6 263.7h0M360.7 265.8h0M360.8 265.3h0M360.9 263.8h0M361.0 264.4h0M361.1 262.8h0M361.2 265.2h0M361.3 264.5h0M361.4 261.8h0M361.5 265.6h0M361.7 265.9h0M361.8 265.1h0M361.9 265.2h0M362.0 264.4h0M362.1 265.2h0M362.2 266.3h0M362.3 265.4h0M362.4 263.0h0M362.5 264.5h0M362.6 268.8h0M362.7 266.2h0M362.9 267.0h0M363.0 265.6h0M363.1 266.5h0M363.2 264.4h0M363.3 265.6h0M363.4 265.7h0M363.5 266.5h0M363.6 266.9h0M363.7 266.6h0M363.8 265.7h0M364.0 266.6h0M364.1 267.6h0M364.2 266.0h0M364.3 267.2h0M364.4 267.6h0M364.5 268.5h0M364.6 268.3h0M364.7 268.5h0M364.8 271.0h0M364.9 266.9h0M365.0 267.6h0M365.2 268.5h0M365.3 267.2h0M365.4 268.0h0M365.5 268.1h0M365.6 271.4h0M365.7 269.0h0M365.8 268.3h0M365.9 267.2h0M366.0 267.0h0M366.1 267.6h0M366.2 270.6h0M366.4 271.8h0M366.5 268.8h0M366.6 269.5h0M366.7 268.6h0M366.8 269.9h0M366.9 269.6h0M367.0 271.6h0M367.1 269.6h0M367.2 270.6h0M367.3 269.9h0M367.4 269.8h0M367.6 270.6h0M367.7 270.2h0M367.8 270.6h0M367.9 269.9h0M368.0 270.2h0M368.1 271.6h0M368.2 271.7h0M368.3 269.1h0M368.4 271.4h0M368.5 270.2h0M368.7 271.0h0M368.8 272.2h0M368.9 272.5h0M369.0 271.6h0M369.1 271.5h0M369.2 271.2h0M369.3 273.5h0M369.4 272.8h0M369.5 272.3h0M369.6 270.4h0M369.7 275.2h0M369.9 272.0h0M370.0 273.2h0M370.1 272.2h0M370.2 273.4h0M370.3 272.4h0M370.4 271.1h0M370.5 272.7h0M370.6 272.7h0M370.7 272.8h0M370.8 274.2h0M370.9 272.8h0M371.1 273.8h0M371.2 274.7h0M371.3 273.8h0M371.4 274.1h0M371.5 273.0h0M371.6 274.1h0M371.7 274.8h0M371.8 272.4h0M371.9 273.1h0M372.0 272.8h0M372.1 273.7h0M372.3 274.7h0M372.4 275.2h0M372.5 275.1h0M372.6 273.7h0M372.7 274.8h0M372.8 276.9h0M372.9 275.2h0M373.0 277.0h0M373.1 275.1h0M373.2 276.9h0M373.4 277.1h0M373.5 275.4h0M373.6 275.8h0M373.7 277.9h0M373.8 274.9h0M373.9 273.2h0M374.0 278.0h0M374.1 273.8h0M374.2 277.2h0M374.3 277.0h0M374.4 276.7h0M374.6 278.4h0M374.7 274.9h0M374.8 276.1h0M374.9 277.8h0M375.0 277.3h0M375.1 279.0h0M375.2 277.5h0M375.3 275.9h0M375.4 279.5h0M375.5 277.9h0M375.6 277.2h0M375.8 276.2h0M375.9 275.8h0M376.0 278.4h0M376.1 278.8h0M376.2 277.3h0M376.3 278.5h0M376.4 278.5h0M376.5 276.7h0M376.6 276.0h0M376.7 278.0h0M376.9 278.7h0M377.0 277.8h0M377.1 281.2h0M377.2 278.7h0M377.3 280.2h0M377.4 275.7h0M377.5 278.0h0M377.6 278.9h0M377.7 279.4h0M377.8 282.7h0M377.9 278.4h0M378.1 277.2h0M378.2 280.5h0M378.3 278.7h0M378.4 278.7h0M378.5 281.9h0M378.6 278.6h0M378.7 278.1h0M378.8 279.7h0M378.9 280.2h0M379.0 279.1h0M379.1 282.4h0M379.3 280.2h0M379.4 279.0h0M379.5 282.3h0M379.6 279.3h0M379.7 281.3h0M379.8 283.8h0M379.9 281.1h0M380.0 282.4h0M380.1 280.6h0M380.2 282.9h0M380.3 279.8h0M380.5 282.4h0M380.6 280.9h0M380.7 282.4h0M380.8 282.1h0M380.9 280.0h0M381.0 281.5h0M381.1 282.4h0M381.2 283.8h0M381.3 280.4h0M381.4 281.1h0M381.6 282.7h0M381.7 281.9h0M381.8 283.9h0M381.9 284.0h0M382.0 283.8h0M382.1 282.2h0M382.2 282.3h0M382.3 283.9h0M382.4 281.8h0M382.5 281.9h0M382.6 282.9h0M382.8 281.7h0M382.9 283.7h0M383.0 283.5h0M383.1 282.7h0M383.2 283.5h0M383.3 282.4h0M383.4 285.6h0M383.5 281.7h0M383.6 285.0h0M383.7 284.2h0M383.8 286.1h0M384.0 283.2h0M384.1 282.3h0M384.2 282.7h0M384.3 283.1h0M384.4 286.9h0M384.5 285.8h0M384.6 285.3h0M384.7 286.2h0M384.8 283.1h0M384.9 284.6h0M385.0 285.0h0M385.2 284.3h0M385.3 286.6h0M385.4 286.6h0M385.5 286.7h0M385.6 284.6h0M385.7 284.9h0M385.8 284.6h0M385.9 283.9h0M386.0 287.8h0M386.1 286.7h0M386.3 285.7h0M386.4 288.1h0M386.5 286.9h0M386.6 284.5h0M386.7 284.5h0M386.8 284.6h0M386.9 286.3h0M387.0 286.9h0M387.1 284.9h0M387.2 287.2h0M387.3 286.2h0M387.5 284.7h0M387.6 287.5h0M387.7 287.9h0M387.8 287.1h0M387.9 286.2h0M388.0 286.4h0M388.1 287.0h0M388.2 286.5h0M388.3 290.1h0M388.4 288.9h0M388.5 287.4h0M388.7 289.2h0M388.8 290.0h0M388.9 289.9h0M389.0 289.5h0M389.1 288.4h0M389.2 289.8h0M389.3 287.8h0M389.4 285.5h0M389.5 288.6h0M389.6 286.3h0M389.8 288.1h0M389.9 290.5h0M390.0 289.1h0M390.1 290.4h0M390.2 287.6h0M390.3 290.9h0M390.4 286.8h0M390.5 288.1h0M390.6 292.6h0M390.7 287.9h0M390.8 286.7h0M391.0 290.8h0M391.1 287.8h0M391.2 292.7h0M391.3 289.2h0M391.4 292.6h0M391.5 289.0h0M391.6 293.0h0M391.7 294.5h0M391.8 289.4h0M391.9 286.3h0M392.0 291.3h0M392.2 288.9h0M392.3 290.2h0M392.4 291.0h0M392.5 289.5h0M392.6 287.8h0M392.7 292.9h0M392.8 289.8h0M392.9 290.3h0M393.0 293.5h0M393.1 288.2h0M393.2 287.7h0M393.4 292.9h0M393.5 288.2h0M393.6 291.3h0M393.7 291.7h0M393.8 288.8h0M393.9 291.2h0M394.0 291.1h0M394.1 289.0h0M394.2 289.5h0M394.3 290.3h0M394.5 294.5h0M394.6 294.9h0M394.7 290.2h0M394.8 293.9h0M394.9 292.0h0M395.0 294.3h0M395.1 292.8h0M395.2 294.9h0M395.3 289.7h0M395.4 294.5h0M395.5 293.0h0M395.7 293.3h0M395.8 290.8h0M395.9 295.6h0M396.0 293.1h0M396.1 293.6h0M396.2 292.3h0M396.3 292.5h0M396.4 294.3h0M396.5 293.0h0M396.6 294.3h0M396.7 292.8h0M396.9 293.9h0M397.0 295.0h0M397.1 293.9h0M397.2 293.3h0M397.3 289.8h0M397.4 295.0h0M397.5 293.6h0M397.6 291.5h0M397.7 298.3h0M397.8 297.7h0M397.9 296.8h0M398.1 294.8h0M398.2 290.1h0M398.3 294.1h0M398.4 292.6h0M398.5 295.4h0M398.6 299.7h0M398.7 299.6h0M398.8 293.1h0M398.9 294.9h0M399.0 297.9h0M399.2 293.3h0M399.3 298.4h0M399.4 293.4h0M399.5 292.8h0M399.6 297.2h0M399.7 297.9h0M399.8 294.2h0M399.9 298.0h0M400.0 294.3h0M400.1 298.4h0M400.2 294.5h0M400.4 296.0h0M400.5 297.2h0M400.6 298.1h0M400.7 296.0h0M400.8 300.3h0M400.9 297.2h0M401.0 297.4h0M401.1 295.4h0M401.2 299.4h0M401.3 293.5h0M401.4 297.6h0M401.6 299.4h0M401.7 294.4h0M401.8 293.9h0M401.9 297.7h0M402.0 299.1h0M402.1 297.4h0M402.2 299.0h0M402.3 298.3h0M402.4 294.5h0M402.5 297.0h0M402.6 297.6h0M402.8 297.2h0M402.9 298.1h0M403.0 296.4h0M403.1 296.4h0M403.2 299.0h0M403.3 298.1h0M403.4 293.5h0M403.5 297.6h0M403.6 299.0h0M403.7 294.4h0M403.9 298.7h0M404.0 301.1h0M404.1 297.4h0M404.2 300.8h0M404.3 300.0h0M404.4 298.4h0M404.5 299.4h0M404.6 300.8h0M404.7 300.4h0M404.8 300.6h0M404.9 297.0h0M405.1 301.1h0M405.2 300.8h0M405.3 295.4h0M405.4 300.9h0M405.5 296.6h0M405.6 297.2h0M405.7 300.3h0M405.8 303.0h0M405.9 299.1h0M406.0 298.8h0M406.1 298.3h0M406.3 300.1h0M406.4 297.9h0M406.5 297.6h0M406.6 302.9h0M406.7 297.6h0M406.8 300.3h0M406.9 302.0h0M407.0 301.5h0M407.1 296.9h0M407.2 299.0h0M407.4 305.0h0M407.5 301.1h0M407.6 301.5h0M407.7 301.7h0M407.8 302.5h0M407.9 304.6h0M408.0 299.7h0M408.1 303.7h0M408.2 302.5h0M408.3 303.2h0M408.4 303.5h0M408.6 300.3h0M408.7 301.2h0M408.8 303.5h0M408.9 304.2h0M409.0 303.4h0M409.1 300.1h0M409.2 302.2h0M409.3 302.0h0M409.4 303.4h0M409.5 303.2h0M409.6 302.2h0M409.8 306.9h0M409.9 299.3h0M410.0 304.8h0M410.1 304.2h0M410.2 300.0h0M410.3 302.7h0M410.4 303.2h0M410.5 304.6h0M410.6 306.9h0M410.7 303.0h0M410.8 300.8h0M411.0 305.7h0M411.1 300.6h0M411.2 306.3h0M411.3 305.5h0M411.4 302.7h0M411.5 304.1h0M411.6 302.5h0M411.7 305.9h0M411.8 306.5h0M411.9 308.5h0M412.1 307.1h0M412.2 306.9h0M412.3 307.9h0M412.4 303.9h0M412.5 306.3h0M412.6 309.4h0M412.7 299.0h0M412.8 306.9h0M412.9 307.9h0M413.0 302.2h0M413.1 302.4h0M413.3 307.9h0M413.4 308.8h0M413.5 307.7h0M413.6 302.7h0M413.7 306.3h0M413.8 307.5h0M413.9 305.7h0M414.0 302.9h0M414.1 309.2h0M414.2 306.7h0M414.3 309.2h0M414.5 300.8h0M414.6 301.7h0M414.7 303.9h0M414.8 306.5h0M414.9 304.8h0M415.0 311.5h0M415.1 305.7h0M415.2 309.9h0M415.3 309.9h0M415.4 308.3h0M415.5 307.5h0M415.7 305.3h0M415.8 305.2h0M415.9 306.3h0M416.0 309.4h0M416.1 305.5h0M416.2 307.5h0M416.3 304.4h0M416.4 309.6h0M416.5 314.3h0M416.6 308.8h0M416.8 302.2h0M416.9 306.5h0M417.0 308.1h0M417.1 305.5h0M417.2 306.7h0M417.3 306.7h0M417.4 309.2h0M417.5 307.9h0M417.6 307.7h0M417.7 309.9h0M417.8 311.0h0M418.0 308.1h0M418.1 305.9h0M418.2 306.9h0M418.3 307.3h0M418.4 307.3h0M418.5 302.2h0M418.6 308.1h0M418.7 306.3h0M418.8 303.9h0M418.9 309.0h0M419.0 308.3h0M419.2 306.5h0M419.3 305.0h0M419.4 308.5h0M419.5 308.5h0M419.6 309.2h0M419.7 312.7h0M419.8 306.7h0M419.9 310.3h0M420.0 314.3h0M420.1 310.3h0M420.3 314.3h0M420.4 312.5h0M420.5 310.1h0M420.6 312.5h0M420.7 307.5h0M420.8 314.0h0M420.9 309.6h0M421.0 309.0h0M421.1 306.7h0M421.2 308.1h0M421.3 310.1h0M421.5 310.5h0M421.6 311.0h0M421.7 307.9h0M421.8 312.7h0M421.9 309.6h0M422.0 311.3h0M422.1 310.5h0M422.2 312.0h0M422.3 305.5h0M422.4 313.3h0M422.5 310.8h0M422.7 310.8h0M422.8 309.9h0M422.9 310.5h0M423.0 310.5h0M423.1 309.2h0M423.2 316.0h0M423.3 312.0h0M423.4 315.4h0M423.5 311.5h0M423.6 315.4h0M423.7 314.9h0M423.9 312.5h0M424.0 308.5h0M424.1 310.8h0M424.2 311.7h0M424.3 308.8h0M424.4 315.1h0M424.5 318.5h0M424.6 314.0h0M424.7 313.8h0M424.8 309.6h0M425.0 307.1h0M425.1 316.9h0M425.2 306.3h0M425.3 309.0h0M425.4 311.0h0M425.5 312.5h0M425.6 306.7h0M425.7 313.3h0M425.8 314.9h0M425.9 313.3h0M426.0 317.5h0M426.2 312.5h0M426.3 314.3h0M426.4 313.0h0M426.5 313.0h0M426.6 317.2h0M426.7 310.5h0M426.8 317.2h0M426.9 311.7h0M427.0 319.1h0M427.1 313.5h0M427.2 316.9h0M427.4 314.6h0M427.5 316.6h0M427.6 321.2h0M427.7 318.1h0M427.8 314.9h0M427.9 313.3h0M428.0 319.5h0M428.1 321.2h0M428.2 317.8h0M428.3 316.0h0M428.4 317.2h0M428.6 317.8h0M428.7 313.0h0M428.8 312.7h0M428.9 313.5h0M429.0 318.5h0M429.1 315.7h0M429.2 316.6h0M429.3 320.1h0M429.4 313.5h0M429.5 315.7h0M429.7 317.5h0M429.8 312.0h0M429.9 314.0h0M430.0 313.8h0M430.1 313.0h0M430.2 314.3h0M430.3 320.5h0M430.4 317.8h0M430.5 313.8h0M430.6 319.1h0M430.7 316.9h0M430.9 315.7h0M431.0 312.7h0M431.1 313.3h0M431.2 314.6h0M431.3 317.8h0M431.4 314.6h0M431.5 315.7h0M431.6 318.1h0M431.7 313.5h0M431.8 316.3h0M431.9 320.1h0M432.1 314.0h0M432.2 318.8h0M432.3 316.0h0M432.4 322.7h0M432.5 318.1h0M432.6 321.2h0M432.7 321.2h0M432.8 324.3h0M432.9 311.7h0M433.0 318.8h0M433.2 317.8h0M433.3 315.1h0M433.4 319.1h0M433.5 317.2h0M433.6 323.1h0M433.7 318.5h0M433.8 320.1h0M433.9 317.5h0M434.0 318.5h0M434.1 323.5h0M434.2 325.1h0M434.4 322.7h0M434.5 317.2h0M434.6 318.1h0M434.7 318.5h0M434.8 326.0h0M434.9 328.3h0M435.0 321.9h0M435.1 320.8h0M435.2 321.9h0M435.3 318.8h0M435.4 320.5h0M435.6 323.9h0M435.7 323.1h0M435.8 319.8h0M435.9 320.1h0M436.0 320.8h0M436.1 313.3h0M436.2 321.6h0M436.3 320.5h0M436.4 323.9h0M436.5 321.9h0M436.6 319.1h0M436.8 319.1h0M436.9 321.6h0M437.0 319.8h0M437.1 321.2h0M437.2 327.4h0M437.3 332.0h0M437.4 313.8h0M437.5 318.8h0M437.6 321.9h0M437.7 327.4h0M437.9 326.0h0M438.0 317.2h0M438.1 331.5h0M438.2 323.1h0M438.3 319.1h0M438.4 321.6h0M438.5 319.8h0M438.6 322.7h0M438.7 314.3h0M438.8 326.0h0M438.9 326.9h0M439.1 321.6h0M439.2 317.8h0M439.3 322.7h0M439.4 319.1h0M439.5 324.7h0M439.6 326.9h0M439.7 318.1h0M439.8 317.8h0M439.9 317.8h0M440.0 324.7h0M440.1 327.4h0M440.3 327.4h0M440.4 324.3h0M440.5 321.6h0M440.6 321.9h0M440.7 328.8h0M440.8 323.1h0M440.9 323.9h0M441.0 323.5h0M441.1 323.9h0M441.2 324.7h0M441.3 321.9h0M441.5 323.9h0M441.6 323.5h0M441.7 326.9h0M441.8 323.1h0M441.9 324.7h0M442.0 332.0h0M442.1 323.1h0M442.2 325.6h0M442.3 321.6h0M442.4 325.6h0M442.6 325.1h0M442.7 324.3h0M442.8 325.1h0M442.9 326.9h0M443.0 331.5h0M443.1 318.8h0M443.2 330.9h0M443.3 326.5h0M443.4 323.1h0M443.5 324.3h0M443.6 323.5h0M443.8 323.1h0M443.9 321.2h0M444.0 324.7h0M444.1 315.4h0M444.2 329.9h0M444.3 325.1h0M444.4 327.4h0M444.5 328.3h0M444.6 325.1h0M444.7 321.2h0M444.8 328.8h0M445.0 329.3h0M445.1 323.9h0M445.2 324.7h0M445.3 319.5h0M445.4 323.1h0M445.5 326.0h0M445.6 328.3h0M445.7 326.5h0M445.8 327.9h0M445.9 332.0h0M446.1 327.4h0M446.2 327.9h0M446.3 328.3h0M446.4 329.3h0M446.5 321.2h0M446.6 325.1h0M446.7 324.3h0M446.8 329.9h0M446.9 331.5h0M447.0 328.8h0M447.1 326.9h0M447.3 329.3h0M447.4 328.8h0M447.5 324.7h0M447.6 327.4h0M447.7 332.0h0M447.8 329.9h0M447.9 330.9h0M448.0 327.9h0M448.1 333.2h0M448.2 329.3h0M448.3 326.0h0M448.5 328.8h0M448.6 332.6h0M448.7 331.5h0M448.8 328.8h0M448.9 327.4h0M449.0 326.0h0M449.1 329.9h0M449.2 334.4h0M449.3 323.9h0M449.4 328.3h0M449.5 327.9h0M449.7 328.3h0M449.8 333.8h0M449.9 330.9h0M450.0 328.8h0M450.1 326.0h0M450.2 329.9h0M450.3 342.6h0M450.4 330.9h0M450.5 328.8h0M450.6 325.1h0M450.8 327.4h0M450.9 320.5h0M451.0 324.7h0M451.1 325.1h0M451.2 326.9h0M451.3 336.4h0M451.4 327.4h0M451.5 328.3h0M451.6 333.2h0M451.7 328.8h0M451.8 329.3h0M452.0 333.2h0M452.1 332.0h0M452.2 332.6h0M452.3 330.4h0M452.4 333.2h0M452.5 329.3h0M452.6 339.3h0M452.7 333.2h0M452.8 338.5h0M452.9 333.8h0M453.0 329.9h0M453.2 332.0h0M453.3 332.6h0M453.4 332.0h0M453.5 325.6h0M453.6 337.1h0M453.7 328.8h0M453.8 338.5h0M453.9 334.4h0M454.0 332.0h0M454.1 336.4h0M454.2 332.0h0M454.4 329.9h0M454.5 337.8h0M454.6 333.2h0M454.7 334.4h0M454.8 341.7h0M454.9 333.8h0M455.0 336.4h0M455.1 327.9h0M455.2 337.1h0M455.3 326.5h0M455.5 335.7h0M455.6 325.6h0M455.7 331.5h0M455.8 332.0h0M455.9 330.4h0M456.0 329.9h0M456.1 327.9h0M456.2 326.5h0M456.3 335.7h0M456.4 340.1h0M456.5 346.5h0M456.7 336.4h0M456.8 331.5h0M456.9 333.2h0M457.0 334.4h0M457.1 336.4h0M457.2 337.8h0M457.3 336.4h0M457.4 333.2h0M457.5 342.6h0M457.6 332.0h0M457.7 341.7h0M457.9 335.7h0M458.0 337.8h0M458.1 337.1h0M458.2 340.1h0M458.3 340.9h0M458.4 336.4h0M458.5 340.9h0M458.6 324.7h0M458.7 337.8h0M458.8 338.5h0M459.0 338.5h0M459.1 340.9h0M459.2 347.5h0M459.3 337.1h0M459.4 335.1h0M459.5 343.5h0M459.6 336.4h0M459.7 341.7h0M459.8 337.1h0M459.9 335.1h0M460.0 334.4h0M460.2 335.1h0M460.3 340.1h0M460.4 333.2h0M460.5 339.3h0M460.6 335.7h0M460.7 333.8h0M460.8 338.5h0M460.9 343.5h0M461.0 334.4h0M461.1 342.6h0M461.2 341.7h0M461.4 342.6h0M461.5 333.8h0M461.6 338.5h0M461.7 348.6h0M461.8 334.4h0M461.9 328.3h0M462.0 329.9h0M462.1 340.9h0M462.2 337.8h0M462.3 335.7h0M462.4 334.4h0M462.6 338.5h0M462.7 343.5h0M462.8 335.1h0M462.9 335.7h0M463.0 345.4h0M463.1 340.9h0M463.2 337.8h0M463.3 339.3h0M463.4 336.4h0M463.5 335.1h0M463.7 336.4h0M463.8 340.1h0M463.9 345.4h0M464.0 336.4h0M464.1 332.6h0M464.2 329.9h0M464.3 340.1h0M464.4 340.1h0M464.5 332.6h0M464.6 332.6h0M464.7 338.5h0M464.9 336.4h0M465.0 343.5h0M465.1 337.1h0M465.2 344.5h0M465.3 340.9h0M465.4 340.9h0M465.5 342.6h0M465.6 351.0h0M465.7 344.5h0M465.8 339.3h0M465.9 340.9h0M466.1 342.6h0M466.2 338.5h0M466.3 337.8h0M466.4 337.1h0M466.5 345.4h0M466.6 340.9h0M466.7 342.6h0M466.8 345.4h0M466.9 348.6h0M467.0 341.7h0M467.1 346.5h0M467.3 330.9h0M467.4 342.6h0M467.5 342.6h0M467.6 343.5h0M467.7 332.6h0M467.8 346.5h0M467.9 342.6h0M468.0 346.5h0M468.1 342.6h0M468.2 342.6h0M468.4 337.1h0M468.5 349.8h0M468.6 342.6h0M468.7 334.4h0M468.8 345.4h0M468.9 343.5h0M469.0 347.5h0M469.1 356.7h0M469.2 343.5h0M469.3 337.1h0M469.4 345.4h0M469.6 352.3h0M469.7 341.7h0M469.8 342.6h0M469.9 338.5h0M470.0 338.5h0M470.1 345.4h0M470.2 341.7h0M470.3 353.7h0M470.4 337.8h0M470.5 342.6h0M470.6 338.5h0M470.8 338.5h0M470.9 345.4h0M471.0 345.4h0M471.1 348.6h0M471.2 355.1h0M471.3 345.4h0M471.4 343.5h0M471.5 349.8h0M471.6 340.9h0M471.7 344.5h0M471.8 342.6h0M472.0 348.6h0M472.1 355.1h0M472.2 340.9h0M472.3 341.7h0M472.4 345.4h0M472.5 347.5h0M472.6 346.5h0M472.7 346.5h0M472.8 348.6h0M472.9 356.7h0M473.1 340.9h0M473.2 353.7h0M473.3 347.5h0M473.4 347.5h0M473.5 344.5h0M473.6 355.1h0M473.7 339.3h0M473.8 342.6h0M473.9 341.7h0M474.0 339.3h0M474.1 351.0h0M474.3 364.1h0M474.4 344.5h0M474.5 339.3h0M474.6 340.1h0M474.7 349.8h0M474.8 347.5h0M474.9 345.4h0M475.0 356.7h0M475.1 351.0h0M475.2 351.0h0M475.3 337.8h0M475.5 351.0h0M475.6 338.5h0M475.7 347.5h0M475.8 356.7h0M475.9 335.1h0M476.0 353.7h0M476.1 344.5h0M476.2 337.8h0M476.3 351.0h0M476.4 355.1h0M476.6 341.7h0M476.7 347.5h0M476.8 355.1h0M476.9 353.7h0M477.0 349.8h0M477.1 342.6h0M477.2 349.8h0M477.3 344.5h0M477.4 338.5h0M477.5 340.9h0M477.6 340.1h0M477.8 341.7h0M477.9 358.3h0M478.0 341.7h0M478.1 346.5h0M478.2 349.8h0M478.3 355.1h0M478.4 358.3h0M478.5 355.1h0M478.6 349.8h0M478.7 356.7h0M478.8 353.7h0M479.0 353.7h0M479.1 345.4h0M479.2 351.0h0M479.3 351.0h0M479.4 341.7h0M479.5 352.3h0M479.6 346.5h0M479.7 356.7h0M479.8 347.5h0M479.9 349.8h0M480.0 348.6h0M480.2 353.7h0M480.3 356.7h0M480.4 352.3h0M480.5 353.7h0M480.6 344.5h0M480.7 345.4h0M480.8 358.3h0M480.9 346.5h0M481.0 353.7h0M481.1 347.5h0M481.3 353.7h0M481.4 360.1h0M481.5 344.5h0M481.6 348.6h0M481.7 358.3h0M481.8 362.0h0M481.9 355.1h0M482.0 358.3h0M482.1 353.7h0M482.2 347.5h0M482.3 342.6h0M482.5 353.7h0M482.6 343.5h0M482.7 344.5h0M482.8 355.1h0M482.9 362.0h0M483.0 346.5h0M483.1 348.6h0M483.2 337.1h0M483.3 343.5h0M483.4 347.5h0M483.5 341.7h0M483.7 358.3h0M483.8 351.0h0M483.9 353.7h0M484.0 341.7h0M484.1 348.6h0M484.2 371.7h0M484.3 344.5h0M484.4 358.3h0M484.5 347.5h0M484.6 356.7h0M484.7 351.0h0M484.9 348.6h0M485.0 352.3h0M485.1 360.1h0M485.2 344.5h0M485.3 351.0h0M485.4 353.7h0M485.5 348.6h0M485.6 356.7h0M485.7 341.7h0M485.8 352.3h0M486.0 351.0h0M486.1 351.0h0M486.2 360.1h0M486.3 362.0h0M486.4 352.3h0M486.5 352.3h0M486.6 345.4h0M486.7 351.0h0M486.8 362.0h0M486.9 351.0h0M487.0 348.6h0M487.2 347.5h0M487.3 352.3h0M487.4 362.0h0M487.5 347.5h0M487.6 360.1h0M487.7 351.0h0M487.8 366.4h0M487.9 349.8h0M488.0 360.1h0M488.1 347.5h0M488.2 343.5h0M488.4 347.5h0M488.5 364.1h0M488.6 362.0h0M488.7 362.0h0M488.8 351.0h0M488.9 353.7h0M489.0 355.1h0M489.1 353.7h0M489.2 352.3h0M489.3 351.0h0M489.5 344.5h0M489.6 356.7h0M489.7 355.1h0M489.8 368.9h0M489.9 366.4h0M490.0 362.0h0M490.1 364.1h0M490.2 355.1h0M490.3 349.8h0M490.4 360.1h0M490.5 360.1h0M490.7 360.1h0M490.8 356.7h0M490.9 360.1h0M491.0 353.7h0M491.1 355.1h0M491.2 355.1h0M491.3 352.3h0M491.4 356.7h0M491.5 356.7h0M491.6 345.4h0M491.7 358.3h0M491.9 352.3h0M492.0 356.7h0M492.1 362.0h0M492.2 362.0h0M492.3 364.1h0M492.4 358.3h0M492.5 362.0h0M492.6 362.0h0M492.7 349.8h0M492.8 360.1h0M492.9 349.8h0M493.1 356.7h0M493.2 352.3h0M493.3 362.0h0M493.4 358.3h0M493.5 340.1h0M493.6 352.3h0M493.7 351.0h0M493.8 356.7h0M493.9 352.3h0M494.0 366.4h0M494.2 366.4h0M494.3 356.7h0M494.4 353.7h0M494.5 362.0h0M494.6 360.1h0M494.7 362.0h0M494.8 360.1h0M494.9 368.9h0M495.0 368.9h0M495.1 360.1h0M495.2 371.7h0M495.4 366.4h0M495.5 364.1h0M495.6 368.9h0M495.7 358.3h0M495.8 364.1h0M495.9 360.1h0M496.0 368.9h0M496.1 366.4h0M496.2 356.7h0M496.3 358.3h0M496.4 364.1h0M496.6 358.3h0M496.7 360.1h0M496.8 360.1h0M496.9 348.6h0M497.0 364.1h0M497.1 358.3h0M497.2 358.3h0M497.3 364.1h0M497.4 368.9h0M497.5 356.7h0M497.6 360.1h0M497.8 362.0h0M497.9 362.0h0M498.0 362.0h0M498.1 368.9h0M498.2 360.1h0M498.3 374.9h0M498.4 362.0h0M498.5 374.9h0M498.6 364.1h0M498.7 356.7h0M498.9 364.1h0M499.0 366.4h0M499.1 358.3h0M499.2 364.1h0M499.3 366.4h0M499.4 366.4h0M499.5 351.0h0M499.6 358.3h0M499.7 358.3h0M499.8 371.7h0M499.9 358.3h0M500.1 371.7h0M500.2 360.1h0M500.3 371.7h0M500.4 347.5h0M500.5 374.9h0M500.6 353.7h0M500.7 356.7h0M500.8 378.6h0M500.9 366.4h0M501.0 352.3h0M501.1 355.1h0M501.3 378.6h0M501.4 368.9h0M501.5 374.9h0M501.6 371.7h0M501.7 368.9h0M501.8 349.8h0M501.9 364.1h0M502.0 366.4h0M502.1 366.4h0M502.2 358.3h0M502.4 358.3h0M502.5 371.7h0M502.6 352.3h0M502.7 374.9h0M502.8 366.4h0M502.9 362.0h0M503.0 351.0h0M503.1 368.9h0M503.2 362.0h0M503.3 355.1h0M503.4 360.1h0M503.6 356.7h0M503.7 356.7h0M503.8 364.1h0M503.9 360.1h0M504.0 358.3h0M504.1 366.4h0M504.2 352.3h0M504.3 383.0h0M504.4 374.9h0M504.5 353.7h0M504.6 362.0h0M504.8 371.7h0M504.9 362.0h0M505.0 356.7h0M505.1 371.7h0M505.2 360.1h0M505.3 366.4h0M505.4 366.4h0M505.5 366.4h0M505.6 356.7h0M505.7 374.9h0M505.8 368.9h0M506.0 360.1h0M506.1 378.6h0M506.2 378.6h0M506.3 362.0h0M506.4 366.4h0M506.5 368.9h0M506.6 366.4h0M506.7 374.9h0M506.8 342.6h0M506.9 374.9h0M507.1 371.7h0M507.2 378.6h0M507.3 371.7h0M507.4 353.7h0M507.5 366.4h0M507.6 362.0h0M507.7 371.7h0M507.8 352.3h0M507.9 366.4h0M508.0 378.6h0M508.1 362.0h0M508.3 371.7h0M508.4 362.0h0M508.5 366.4h0M508.6 366.4h0M508.7 366.4h0M508.8 374.9h0M508.9 383.0h0M509.0 360.1h0M509.1 368.9h0M509.2 366.4h0M509.3 371.7h0M509.5 388.4h0M509.6 378.6h0M509.7 356.7h0M509.8 374.9h0M509.9 371.7h0M510.0 383.0h0M510.1 374.9h0M510.2 371.7h0M510.3 371.7h0M510.4 368.9h0M510.5 374.9h0M510.7 374.9h0M510.8 368.9h0M510.9 366.4h0M511.0 371.7h0M511.1 353.7h0M511.2 368.9h0M511.3 368.9h0M511.4 374.9h0M511.5 360.1h0M511.6 378.6h0M511.8 383.0h0M511.9 378.6h0M512.0 364.1h0M512.1 378.6h0M512.2 358.3h0M512.3 371.7h0M512.4 383.0h0M512.5 371.7h0M512.6 353.7h0M512.7 378.6h0M512.8 383.0h0M513.0 366.4h0M513.1 358.3h0M513.2 362.0h0M513.3 374.9h0M513.4 368.9h0M513.5 368.9h0M513.6 360.1h0M513.7 351.0h0M513.8 371.7h0M513.9 358.3h0M514.0 374.9h0M514.2 366.4h0M514.3 378.6h0M514.4 378.6h0M514.5 366.4h0M514.6 378.6h0M514.7 364.1h0M514.8 374.9h0M514.9 371.7h0M515.0 371.7h0M515.1 374.9h0M515.3 371.7h0M515.4 362.0h0M515.5 342.6h0M515.6 383.0h0M515.7 368.9h0M515.8 374.9h0M515.9 378.6h0M516.0 368.9h0M516.1 378.6h0M516.2 371.7h0M516.3 360.1h0M516.5 388.4h0M516.6 368.9h0M516.7 368.9h0M516.8 383.0h0M516.9 366.4h0M517.0 368.9h0M517.1 374.9h0M517.2 362.0h0M517.3 383.0h0M517.4 366.4h0M517.5 374.9h0M517.7 383.0h0M517.8 374.9h0M517.9 374.9h0M518.0 364.1h0M518.1 388.4h0M518.2 374.9h0M518.3 378.6h0M518.4 358.3h0M518.5 383.0h0M518.6 364.1h0M518.7 388.4h0M518.9 368.9h0M519.0 374.9h0M519.1 368.9h0M519.2 378.6h0M519.4 388.4h0M519.5 360.1h0M519.6 371.7h0M519.7 383.0h0M519.8 364.1h0M520.0 383.0h0M520.1 383.0h0M520.2 388.4h0M520.3 362.0h0M520.4 355.1h0M520.5 383.0h0M520.6 371.7h0M520.7 364.1h0M520.8 353.7h0M521.0 371.7h0M521.2 368.9h0M521.3 388.4h0M521.4 371.7h0M521.5 371.7h0M521.6 368.9h0M521.7 378.6h0M521.8 371.7h0M521.9 383.0h0M522.0 368.9h0M522.1 374.9h0M522.2 378.6h0M522.4 388.4h0M522.5 358.3h0M522.6 364.1h0M522.7 366.4h0M522.8 383.0h0M522.9 378.6h0M523.0 358.3h0M523.1 368.9h0M523.2 383.0h0M523.3 374.9h0M523.4 374.9h0M523.6 378.6h0M523.7 383.0h0M523.8 364.1h0M523.9 368.9h0M524.0 378.6h0M524.2 383.0h0M524.3 374.9h0M524.4 366.4h0M524.5 378.6h0M524.7 364.1h0M524.8 374.9h0M524.9 383.0h0M525.1 388.4h0M525.2 388.4h0M525.3 378.6h0M525.4 371.7h0M525.5 362.0h0M525.6 374.9h0M525.7 388.4h0M525.9 352.3h0M526.0 371.7h0M526.1 378.6h0M526.2 378.6h0M526.3 388.4h0M526.4 368.9h0M526.5 371.7h0M526.6 360.1h0M526.7 366.4h0M526.8 368.9h0M526.9 364.1h0M527.1 378.6h0M527.2 383.0h0M527.3 378.6h0M527.4 388.4h0M527.5 378.6h0M527.6 378.6h0M527.7 368.9h0M527.8 378.6h0M528.0 378.6h0M528.2 362.0h0M528.4 383.0h0M528.5 378.6h0M528.6 388.4h0M528.7 383.0h0M528.8 374.9h0M528.9 388.4h0M529.0 374.9h0M529.1 371.7h0M529.2 388.4h0M529.4 378.6h0M529.5 366.4h0M529.6 378.6h0M529.7 371.7h0M529.8 371.7h0M529.9 378.6h0M530.0 366.4h0M530.1 374.9h0M530.2 388.4h0M530.3 371.7h0M530.4 368.9h0M530.6 368.9h0M530.7 383.0h0M530.8 371.7h0M530.9 364.1h0M531.0 374.9h0M531.1 364.1h0M531.2 364.1h0M531.3 378.6h0M531.4 371.7h0M531.5 383.0h0M531.6 366.4h0M531.8 378.6h0M531.9 383.0h0M532.0 378.6h0M532.1 378.6h0M532.2 374.9h0M532.3 371.7h0M532.4 388.4h0M532.5 383.0h0M532.6 374.9h0M532.7 371.7h0M532.9 378.6h0M533.0 349.8h0M533.1 366.4h0M533.2 378.6h0M533.3 371.7h0M533.4 364.1h0M533.5 374.9h0M533.7 378.6h0M533.8 378.6h0M533.9 355.1h0M534.2 362.0h0M534.3 378.6h0M534.4 368.9h0M534.5 383.0h0M534.6 374.9h0" stroke="#22e622" stroke-width="2.4" stroke-linecap="round" fill="none"/>
<path d="M327.0 222.5h0M327.1 223.1h0M327.2 222.9h0M327.4 223.5h0M327.5 223.8h0M327.6 223.9h0M327.7 224.2h0M327.9 224.3h0M328.0 223.9h0M328.1 225.0h0M328.2 225.4h0M328.3 225.0h0M328.5 224.5h0M328.6 225.0h0M328.7 225.0h0M328.8 225.2h0M329.0 226.2h0M329.1 226.1h0M329.2 227.3h0M329.3 226.7h0M329.4 226.4h0M329.6 227.4h0M329.7 227.8h0M329.8 227.7h0M329.9 227.3h0M330.1 227.1h0M330.2 226.7h0M330.3 227.4h0M330.4 228.7h0M330.5 229.2h0M330.7 228.4h0M330.8 228.2h0M330.9 229.5h0M331.0 229.2h0M331.2 229.4h0M331.3 229.4h0M331.4 229.7h0M331.5 229.5h0M331.6 229.5h0M331.8 230.1h0M331.9 230.0h0M332.0 229.6h0M332.1 231.1h0M332.3 231.3h0M332.4 230.8h0M332.5 230.4h0M332.6 231.3h0M332.7 231.1h0M332.9 231.9h0M333.0 231.5h0M333.1 232.3h0M333.2 232.0h0M333.4 232.3h0M333.5 232.4h0M333.6 232.2h0M333.7 232.5h0M333.8 233.4h0M334.0 232.9h0M334.1 234.3h0M334.2 233.2h0M334.3 232.6h0M334.5 233.8h0M334.6 234.0h0M334.7 234.3h0M334.8 234.2h0M334.9 234.9h0M335.1 234.6h0M335.2 235.2h0M335.3 235.4h0M335.4 235.3h0M335.6 235.6h0M335.7 236.6h0M335.8 234.9h0M335.9 236.0h0M336.0 237.1h0M336.2 235.9h0M336.3 236.6h0M336.4 236.7h0M336.5 236.6h0M336.7 237.5h0M336.8 238.7h0M336.9 237.5h0M337.0 237.5h0M337.1 237.3h0M337.3 238.3h0M337.4 238.3h0M337.5 238.1h0M337.6 238.6h0M337.8 238.8h0M337.9 238.7h0M338.0 239.5h0M338.1 238.4h0M338.2 239.8h0M338.4 239.5h0M338.5 239.8h0M338.6 240.2h0M338.7 239.7h0M338.9 239.6h0M339.0 239.6h0M339.1 240.2h0M339.2 240.9h0M339.3 240.4h0M339.5 241.7h0M339.6 241.1h0M339.7 241.1h0M339.8 241.2h0M340.0 242.3h0M340.1 242.6h0M340.2 241.1h0M340.3 242.4h0M340.4 243.2h0M340.6 243.1h0M340.7 242.6h0M340.8 242.2h0M340.9 243.0h0M341.1 242.5h0M341.2 243.2h0M341.3 243.2h0M341.4 243.1h0M341.5 244.0h0M341.7 243.8h0M341.8 244.3h0M341.9 244.6h0M342.0 244.1h0M342.2 245.1h0M342.3 244.7h0M342.4 245.4h0M342.5 245.1h0M342.6 245.6h0M342.8 244.8h0M342.9 245.5h0M343.0 245.7h0M343.1 244.9h0M343.3 247.7h0M343.4 246.9h0M343.5 248.0h0M343.6 246.5h0M343.7 246.5h0M343.9 246.5h0M344.0 246.9h0M344.1 247.7h0M344.2 246.3h0M344.4 247.3h0M344.5 247.8h0M344.6 248.5h0M344.7 247.7h0M344.8 248.4h0M345.0 248.6h0M345.1 248.3h0M345.2 248.5h0M345.3 249.3h0M345.5 248.2h0M345.6 249.7h0M345.7 249.9h0M345.8 249.2h0M345.9 249.5h0M346.1 249.7h0M346.2 250.1h0M346.3 250.0h0M346.4 250.5h0M346.6 251.4h0M346.7 250.0h0M346.8 251.3h0M346.9 250.9h0M347.0 250.5h0M347.2 251.1h0M347.3 249.5h0M347.4 252.3h0M347.5 252.0h0M347.7 251.6h0M347.8 251.0h0M347.9 252.2h0M348.0 253.1h0M348.1 251.6h0M348.3 253.1h0M348.4 252.8h0M348.5 252.2h0M348.6 253.4h0M348.7 253.4h0M348.9 252.9h0M349.0 253.5h0M349.1 253.3h0M349.2 254.3h0M349.4 253.9h0M349.5 254.7h0M349.6 255.2h0M349.7 253.1h0M349.8 254.1h0M350.0 253.9h0M350.1 255.4h0M350.2 254.9h0M350.3 255.2h0M350.5 256.2h0M350.6 254.9h0M350.7 256.0h0M350.8 255.8h0M350.9 256.8h0M351.1 255.2h0M351.2 255.5h0M351.3 255.9h0M351.4 257.0h0M351.6 256.9h0M351.7 255.8h0M351.8 257.0h0M351.9 256.7h0M352.0 257.0h0M352.2 258.0h0M352.3 256.2h0M352.4 259.0h0M352.5 257.5h0M352.7 257.9h0M352.8 259.1h0M352.9 257.8h0M353.0 257.9h0M353.1 258.3h0M353.3 259.1h0M353.4 258.3h0M353.5 258.0h0M353.6 258.8h0M353.8 257.8h0M353.9 258.6h0M354.0 258.8h0M354.1 258.5h0M354.2 260.2h0M354.4 260.2h0M354.5 259.5h0M354.6 259.7h0M354.7 259.1h0M354.9 259.5h0M355.0 260.4h0M355.1 260.5h0M355.2 261.0h0M355.3 261.2h0M355.5 261.4h0M355.6 260.5h0M355.7 261.7h0M355.8 261.8h0M356.0 261.5h0M356.1 262.2h0M356.2 262.1h0M356.3 263.8h0M356.4 261.9h0M356.6 262.6h0M356.7 262.3h0M356.8 262.3h0M356.9 264.3h0M357.1 260.9h0M357.2 262.9h0M357.3 263.0h0M357.4 264.7h0M357.5 262.9h0M357.7 263.2h0M357.8 264.0h0M357.9 263.6h0M358.0 262.9h0M358.2 264.3h0M358.3 264.9h0M358.4 263.2h0M358.5 264.2h0M358.6 264.7h0M358.8 262.7h0M358.9 264.7h0M359.0 265.1h0M359.1 264.9h0M359.3 265.6h0M359.4 265.2h0M359.5 265.4h0M359.6 266.2h0M359.7 266.0h0M359.9 265.7h0M360.0 265.7h0M360.1 265.7h0M360.2 265.6h0M360.4 266.2h0M360.5 266.2h0M360.6 267.1h0M360.7 267.1h0M360.8 266.1h0M361.0 268.9h0M361.1 267.0h0M361.2 264.5h0M361.3 269.2h0M361.5 266.3h0M361.6 269.4h0M361.7 267.6h0M361.8 266.6h0M361.9 266.9h0M362.1 269.2h0M362.2 269.7h0M362.3 270.0h0M362.4 268.1h0M362.6 269.3h0M362.7 269.0h0M362.8 268.9h0M362.9 268.9h0M363.0 268.9h0M363.2 269.5h0M363.3 271.2h0M363.4 268.5h0M363.5 272.6h0M363.7 268.9h0M363.8 270.8h0M363.9 270.5h0M364.0 271.0h0M364.1 271.0h0M364.3 270.8h0M364.4 271.1h0M364.5 272.1h0M364.6 270.3h0M364.8 271.9h0M364.9 270.1h0M365.0 271.7h0M365.1 272.4h0M365.2 271.3h0M365.4 271.0h0M365.5 273.0h0M365.6 272.5h0M365.7 270.9h0M365.9 273.5h0M366.0 273.4h0M366.1 272.5h0M366.2 274.0h0M366.3 275.5h0M366.5 274.8h0M366.6 272.8h0M366.7 272.6h0M366.8 272.8h0M367.0 273.2h0M367.1 275.0h0M367.2 273.1h0M367.3 272.7h0M367.4 274.8h0M367.6 273.2h0M367.7 274.7h0M367.8 274.3h0M367.9 274.2h0M368.1 276.3h0M368.2 273.3h0M368.3 275.8h0M368.4 275.2h0M368.5 275.7h0M368.7 274.9h0M368.8 275.0h0M368.9 275.5h0M369.0 274.1h0M369.2 275.5h0M369.3 276.4h0M369.4 279.2h0M369.5 276.5h0M369.6 276.7h0M369.8 277.4h0M369.9 277.5h0M370.0 276.0h0M370.1 275.6h0M370.3 274.9h0M370.4 275.8h0M370.5 278.0h0M370.6 277.0h0M370.7 279.0h0M370.9 276.7h0M371.0 277.2h0M371.1 278.5h0M371.2 278.0h0M371.4 278.3h0M371.5 278.9h0M371.6 276.8h0M371.7 274.9h0M371.8 277.6h0M372.0 277.4h0M372.1 278.5h0M372.2 279.2h0M372.3 276.5h0M372.5 279.5h0M372.6 278.7h0M372.7 279.5h0M372.8 278.7h0M372.9 279.6h0M373.1 279.0h0M373.2 281.3h0M373.3 280.0h0M373.4 278.5h0M373.6 281.4h0M373.7 281.1h0M373.8 278.8h0M373.9 280.0h0M374.0 279.4h0M374.2 283.5h0M374.3 280.7h0M374.4 282.6h0M374.5 282.8h0M374.7 280.7h0M374.8 279.9h0M374.9 283.3h0M375.0 283.0h0M375.1 282.4h0M375.3 282.0h0M375.4 283.6h0M375.5 279.3h0M375.6 281.4h0M375.8 282.7h0M375.9 283.1h0M376.0 279.7h0M376.1 279.8h0M376.2 283.4h0M376.4 282.5h0M376.5 281.4h0M376.6 284.6h0M376.7 284.0h0M376.9 281.7h0M377.0 284.4h0M377.1 284.1h0M377.2 285.4h0M377.3 284.8h0M377.5 283.1h0M377.6 285.1h0M377.7 285.8h0M377.8 285.1h0M378.0 282.1h0M378.1 284.3h0M378.2 285.4h0M378.3 284.5h0M378.4 284.3h0M378.6 284.8h0M378.7 287.5h0M378.8 284.8h0M378.9 285.6h0M379.1 284.4h0M379.2 287.4h0M379.3 284.3h0M379.4 286.4h0M379.5 288.2h0M379.7 284.3h0M379.8 286.8h0M379.9 285.7h0M380.0 286.6h0M380.2 285.0h0M380.3 285.1h0M380.4 285.2h0M380.5 285.8h0M380.6 289.2h0M380.8 289.3h0M380.9 286.9h0M381.0 288.5h0M381.1 286.7h0M381.3 287.3h0M381.4 289.5h0M381.5 289.2h0M381.6 289.4h0M381.7 289.2h0M381.9 288.3h0M382.0 287.2h0M382.1 286.4h0M382.2 289.7h0M382.4 289.3h0M382.5 286.4h0M382.6 287.4h0M382.7 288.5h0M382.8 292.3h0M383.0 290.5h0M383.1 289.0h0M383.2 290.1h0M383.3 286.5h0M383.5 289.4h0M383.6 289.2h0M383.7 291.3h0M383.8 291.3h0M383.9 290.9h0M384.1 291.0h0M384.2 290.5h0M384.3 289.7h0M384.4 289.9h0M384.6 289.0h0M384.7 292.6h0M384.8 290.4h0M384.9 290.4h0M385.0 288.5h0M385.2 291.3h0M385.3 290.6h0M385.4 292.4h0M385.5 290.6h0M385.7 290.9h0M385.8 292.4h0M385.9 292.3h0M386.0 291.8h0M386.1 291.0h0M386.3 293.7h0M386.4 290.7h0M386.5 292.7h0M386.6 289.4h0M386.8 290.2h0M386.9 293.2h0M387.0 293.6h0M387.1 289.0h0M387.2 291.8h0M387.4 292.1h0M387.5 293.7h0M387.6 293.3h0M387.7 291.9h0M387.9 292.4h0M388.0 294.8h0M388.1 291.6h0M388.2 293.2h0M388.3 295.3h0M388.5 292.3h0M388.6 294.2h0M388.7 292.8h0M388.8 295.1h0M389.0 293.7h0M389.1 296.9h0M389.2 294.0h0M389.3 297.1h0M389.4 294.5h0M389.6 299.0h0M389.7 295.1h0M389.8 293.8h0M389.9 294.4h0M390.0 293.3h0M390.2 297.1h0M390.3 292.9h0M390.4 292.9h0M390.5 297.7h0M390.7 297.1h0M390.8 296.8h0M390.9 296.1h0M391.0 295.8h0M391.1 300.3h0M391.3 295.3h0M391.4 296.8h0M391.5 298.2h0M391.6 295.1h0M391.8 297.3h0M391.9 294.9h0M392.0 296.1h0M392.1 297.6h0M392.2 295.1h0M392.4 295.9h0M392.5 298.2h0M392.6 300.2h0M392.7 298.5h0M392.9 296.5h0M393.0 298.2h0M393.1 294.8h0M393.2 297.6h0M393.3 297.7h0M393.5 297.4h0M393.6 299.8h0M393.7 298.5h0M393.8 299.7h0M394.0 302.7h0M394.1 301.8h0M394.2 297.4h0M394.3 299.7h0M394.4 299.2h0M394.6 301.6h0M394.7 300.2h0M394.8 297.9h0M394.9 299.2h0M395.1 300.3h0M395.2 296.8h0M395.3 299.8h0M395.4 300.3h0M395.5 297.9h0M395.7 303.1h0M395.8 299.0h0M395.9 302.1h0M396.0 301.8h0M396.2 301.6h0M396.3 300.2h0M396.4 300.3h0M396.5 300.2h0M396.6 300.3h0M396.8 298.3h0M396.9 297.9h0M397.0 299.8h0M397.1 299.8h0M397.3 302.0h0M397.4 303.5h0M397.5 300.3h0M397.6 301.4h0M397.7 300.0h0M397.9 305.1h0M398.0 296.8h0M398.1 304.3h0M398.2 302.0h0M398.4 300.3h0M398.5 304.9h0M398.6 303.5h0M398.7 306.2h0M398.8 305.3h0M399.0 306.2h0M399.1 302.5h0M399.2 302.3h0M399.3 303.5h0M399.5 300.7h0M399.6 300.5h0M399.7 303.3h0M399.8 303.7h0M399.9 303.9h0M400.1 304.3h0M400.2 301.0h0M400.3 303.3h0M400.4 304.5h0M400.6 304.3h0M400.7 302.9h0M400.8 304.9h0M400.9 303.5h0M401.0 304.3h0M401.2 301.8h0M401.3 302.1h0M401.4 307.3h0M401.5 304.9h0M401.7 303.3h0M401.8 305.8h0M401.9 303.3h0M402.0 304.3h0M402.1 303.9h0M402.3 305.3h0M402.4 304.7h0M402.5 304.3h0M402.6 308.5h0M402.8 307.6h0M402.9 307.8h0M403.0 302.3h0M403.1 305.3h0M403.2 305.3h0M403.4 305.8h0M403.5 307.3h0M403.6 307.8h0M403.7 304.7h0M403.9 307.3h0M404.0 303.3h0M404.1 306.2h0M404.2 306.7h0M404.3 307.3h0M404.5 307.1h0M404.6 306.9h0M404.7 304.1h0M404.8 302.3h0M405.0 309.8h0M405.1 306.9h0M405.2 306.0h0M405.3 309.5h0M405.4 309.0h0M405.6 308.8h0M405.7 313.1h0M405.8 306.7h0M405.9 308.3h0M406.1 308.3h0M406.2 308.1h0M406.3 307.8h0M406.4 303.5h0M406.5 308.3h0M406.7 306.9h0M406.8 309.8h0M406.9 308.1h0M407.0 309.5h0M407.2 309.3h0M407.3 311.1h0M407.4 311.1h0M407.5 308.3h0M407.6 307.8h0M407.8 308.5h0M407.9 311.1h0M408.0 309.0h0M408.1 315.3h0M408.3 307.8h0M408.4 310.1h0M408.5 309.5h0M408.6 307.6h0M408.7 311.1h0M408.9 308.3h0M409.0 311.4h0M409.1 309.3h0M409.2 311.4h0M409.4 310.1h0M409.5 307.6h0M409.6 312.2h0M409.7 312.2h0M409.8 311.7h0M410.0 310.6h0M410.1 304.9h0M410.2 312.5h0M410.3 315.9h0M410.5 313.1h0M410.6 315.3h0M410.7 313.1h0M410.8 311.7h0M410.9 314.0h0M411.1 313.4h0M411.2 316.3h0M411.3 311.7h0M411.4 314.0h0M411.6 309.8h0M411.7 310.1h0M411.8 314.6h0M411.9 313.4h0M412.0 312.5h0M412.2 311.1h0M412.3 316.9h0M412.4 313.1h0M412.5 308.5h0M412.7 313.4h0M412.8 312.8h0M412.9 313.4h0M413.0 316.3h0M413.1 311.1h0M413.3 312.8h0M413.4 313.4h0M413.5 311.9h0M413.6 311.9h0M413.8 318.4h0M413.9 312.8h0M414.0 315.6h0M414.1 313.7h0M414.2 315.9h0M414.4 316.6h0M414.5 312.2h0M414.6 314.6h0M414.7 315.3h0M414.9 315.3h0M415.0 314.6h0M415.1 314.9h0M415.2 320.7h0M415.3 317.3h0M415.5 315.6h0M415.6 313.4h0M415.7 311.9h0M415.8 317.6h0M416.0 310.6h0M416.1 315.3h0M416.2 314.3h0M416.3 316.9h0M416.4 317.3h0M416.6 312.2h0M416.7 316.6h0M416.8 316.3h0M416.9 313.4h0M417.1 311.9h0M417.2 320.3h0M417.3 316.9h0M417.4 316.6h0M417.5 311.9h0M417.7 310.3h0M417.8 316.9h0M417.9 315.9h0M418.0 314.6h0M418.2 314.0h0M418.3 318.0h0M418.4 314.9h0M418.5 319.1h0M418.6 324.2h0M418.8 321.1h0M418.9 316.9h0M419.0 315.6h0M419.1 323.7h0M419.3 322.4h0M419.4 318.0h0M419.5 326.7h0M419.6 316.6h0M419.7 315.3h0M419.9 326.1h0M420.0 316.3h0M420.1 318.7h0M420.2 314.6h0M420.4 317.6h0M420.5 319.1h0M420.6 318.4h0M420.7 316.3h0M420.8 318.4h0M421.0 318.7h0M421.1 322.8h0M421.2 317.6h0M421.3 319.1h0M421.5 314.3h0M421.6 319.5h0M421.7 319.5h0M421.8 321.1h0M421.9 317.6h0M422.1 320.3h0M422.2 321.5h0M422.3 315.6h0M422.4 314.9h0M422.6 321.1h0M422.7 322.8h0M422.8 316.9h0M422.9 322.4h0M423.0 312.5h0M423.2 320.7h0M423.3 318.0h0M423.4 324.2h0M423.5 320.7h0M423.7 317.6h0M423.8 319.5h0M423.9 322.4h0M424.0 314.0h0M424.1 319.1h0M424.3 321.9h0M424.4 322.8h0M424.5 321.9h0M424.6 317.6h0M424.8 323.7h0M424.9 321.5h0M425.0 324.2h0M425.1 318.4h0M425.2 322.4h0M425.4 319.5h0M425.5 320.3h0M425.6 323.7h0M425.7 320.3h0M425.9 319.5h0M426.0 325.6h0M426.1 320.3h0M426.2 312.2h0M426.3 323.3h0M426.5 320.7h0M426.6 326.7h0M426.7 321.5h0M426.8 324.7h0M427.0 320.7h0M427.1 323.3h0M427.2 326.7h0M427.3 319.9h0M427.4 324.2h0M427.6 326.7h0M427.7 323.3h0M427.8 326.7h0M427.9 322.4h0M428.1 324.2h0M428.2 325.1h0M428.3 321.9h0M428.4 327.7h0M428.5 321.1h0M428.7 330.0h0M428.8 319.5h0M428.9 323.7h0M429.0 325.1h0M429.2 326.7h0M429.3 322.8h0M429.4 325.1h0M429.5 325.1h0M429.6 321.9h0M429.8 326.1h0M429.9 325.6h0M430.0 323.7h0M430.1 321.9h0M430.3 325.6h0M430.4 324.7h0M430.5 325.1h0M430.6 323.3h0M430.7 321.1h0M430.9 328.8h0M431.0 326.1h0M431.1 326.1h0M431.2 324.2h0M431.3 321.5h0M431.5 326.1h0M431.6 325.6h0M431.7 322.8h0M431.8 330.6h0M432.0 328.8h0M432.1 327.7h0M432.2 326.7h0M432.3 326.1h0M432.4 328.3h0M432.6 321.1h0M432.7 329.4h0M432.8 327.7h0M432.9 323.7h0M433.1 324.7h0M433.2 327.2h0M433.3 326.1h0M433.4 324.7h0M433.5 327.7h0M433.7 325.6h0M433.8 330.6h0M433.9 327.7h0M434.0 333.2h0M434.2 330.6h0M434.3 331.9h0M434.4 324.2h0M434.5 330.0h0M434.6 327.2h0M434.8 331.2h0M434.9 329.4h0M435.0 329.4h0M435.1 331.2h0M435.3 326.1h0M435.4 334.6h0M435.5 326.7h0M435.6 320.3h0M435.7 331.9h0M435.9 328.8h0M436.0 334.6h0M436.1 329.4h0M436.2 335.3h0M436.4 327.2h0M436.5 331.2h0M436.6 336.1h0M436.7 333.9h0M436.8 335.3h0M437.0 331.2h0M437.1 327.2h0M437.2 331.9h0M437.3 334.6h0M437.5 333.2h0M437.6 330.0h0M437.7 339.4h0M437.8 328.8h0M437.9 329.4h0M438.1 339.4h0M438.2 326.7h0M438.3 336.9h0M438.4 331.9h0M438.6 327.2h0M438.7 336.9h0M438.8 337.7h0M438.9 335.3h0M439.0 335.3h0M439.2 331.9h0M439.3 333.9h0M439.4 333.9h0M439.5 333.9h0M439.7 332.5h0M439.8 335.3h0M439.9 331.2h0M440.0 332.5h0M440.1 336.1h0M440.3 325.6h0M440.4 336.9h0M440.5 330.0h0M440.6 335.3h0M440.8 331.2h0M440.9 331.2h0M441.0 330.0h0M441.1 327.7h0M441.2 336.1h0M441.4 322.8h0M441.5 331.9h0M441.6 336.1h0M441.7 338.5h0M441.9 324.7h0M442.0 327.2h0M442.1 333.9h0M442.2 330.6h0M442.3 328.8h0M442.5 333.2h0M442.6 335.3h0M442.7 333.9h0M442.8 330.6h0M443.0 333.9h0M443.1 338.5h0M443.2 331.2h0M443.3 341.3h0M443.4 336.9h0M443.6 330.0h0M443.7 333.9h0M443.8 333.9h0M443.9 334.6h0M444.1 330.6h0M444.2 335.3h0M444.3 342.2h0M444.4 333.9h0M444.5 346.6h0M444.7 343.3h0M444.8 329.4h0M444.9 331.2h0M445.0 336.9h0M445.2 336.1h0M445.3 335.3h0M445.4 331.9h0M445.5 338.5h0M445.6 339.4h0M445.8 338.5h0M445.9 335.3h0M446.0 335.3h0M446.1 337.7h0M446.3 333.2h0M446.4 340.3h0M446.5 336.9h0M446.6 339.4h0M446.7 340.3h0M446.9 331.9h0M447.0 337.7h0M447.1 340.3h0M447.2 336.9h0M447.4 341.3h0M447.5 334.6h0M447.6 333.9h0M447.7 333.2h0M447.8 341.3h0M448.0 337.7h0M448.1 330.0h0M448.2 338.5h0M448.3 332.5h0M448.5 331.2h0M448.6 343.3h0M448.7 333.2h0M448.8 334.6h0M448.9 334.6h0M449.1 331.2h0M449.2 336.1h0M449.3 337.7h0M449.4 336.1h0M449.6 339.4h0M449.7 336.1h0M449.8 346.6h0M449.9 331.2h0M450.0 341.3h0M450.2 336.9h0M450.3 337.7h0M450.4 338.5h0M450.5 338.5h0M450.7 338.5h0M450.8 345.4h0M450.9 341.3h0M451.0 334.6h0M451.1 343.3h0M451.3 344.3h0M451.4 330.6h0M451.5 334.6h0M451.6 333.2h0M451.8 339.4h0M451.9 338.5h0M452.0 336.9h0M452.1 337.7h0M452.2 340.3h0M452.4 346.6h0M452.5 343.3h0M452.6 346.6h0M452.7 333.9h0M452.9 342.2h0M453.0 341.3h0M453.1 339.4h0M453.2 340.3h0M453.3 338.5h0M453.5 343.3h0M453.6 347.8h0M453.7 333.2h0M453.8 344.3h0M454.0 343.3h0M454.1 344.3h0M454.2 344.3h0M454.3 341.3h0M454.4 338.5h0M454.6 346.6h0M454.7 340.3h0M454.8 344.3h0M454.9 336.9h0M455.1 347.8h0M455.2 341.3h0M455.3 339.4h0M455.4 347.8h0M455.5 342.2h0M455.7 342.2h0M455.8 346.6h0M455.9 343.3h0M456.0 338.5h0M456.2 341.3h0M456.3 344.3h0M456.4 344.3h0M456.5 341.3h0M456.6 337.7h0M456.8 339.4h0M456.9 340.3h0M457.0 336.1h0M457.1 350.5h0M457.3 350.5h0M457.4 353.5h0M457.5 340.3h0M457.6 353.5h0M457.7 344.3h0M457.9 340.3h0M458.0 350.5h0M458.1 346.6h0M458.2 345.4h0M458.4 341.3h0M458.5 350.5h0M458.6 343.3h0M458.7 341.3h0M458.8 344.3h0M459.0 344.3h0M459.1 338.5h0M459.2 343.3h0M459.3 345.4h0M459.5 346.6h0M459.6 342.2h0M459.7 346.6h0M459.8 342.2h0M459.9 344.3h0M460.1 340.3h0M460.2 349.1h0M460.3 345.4h0M460.4 344.3h0M460.6 343.3h0M460.7 340.3h0M460.8 344.3h0M460.9 341.3h0M461.0 336.9h0M461.2 342.2h0M461.3 350.5h0M461.4 353.5h0M461.5 343.3h0M461.7 347.8h0M461.8 345.4h0M461.9 347.8h0M462.0 340.3h0M462.1 341.3h0M462.3 351.9h0M462.4 345.4h0M462.5 347.8h0M462.6 353.5h0M462.8 344.3h0M462.9 347.8h0M463.0 345.4h0M463.1 335.3h0M463.2 341.3h0M463.4 342.2h0M463.5 349.1h0M463.6 353.5h0M463.7 341.3h0M463.9 349.1h0M464.0 347.8h0M464.1 349.1h0M464.2 347.8h0M464.3 336.1h0M464.5 349.1h0M464.6 349.1h0M464.7 347.8h0M464.8 346.6h0M465.0 353.5h0M465.1 356.9h0M465.2 351.9h0M465.3 349.1h0M465.4 351.9h0M465.6 353.5h0M465.7 353.5h0M465.8 350.5h0M465.9 349.1h0M466.1 356.9h0M466.2 351.9h0M466.3 347.8h0M466.4 350.5h0M466.5 356.9h0M466.7 351.9h0M466.8 349.1h0M466.9 345.4h0M467.0 358.8h0M467.2 346.6h0M467.3 351.9h0M467.4 349.1h0M467.5 346.6h0M467.6 355.1h0M467.8 355.1h0M467.9 350.5h0M468.0 346.6h0M468.1 353.5h0M468.3 356.9h0M468.4 353.5h0M468.5 349.1h0M468.6 345.4h0M468.7 353.5h0M468.9 351.9h0M469.0 351.9h0M469.1 351.9h0M469.2 356.9h0M469.4 353.5h0M469.5 350.5h0M469.6 350.5h0M469.7 351.9h0M469.8 356.9h0M470.0 355.1h0M470.1 355.1h0M470.2 346.6h0M470.3 344.3h0M470.5 350.5h0M470.6 343.3h0M470.7 353.5h0M470.8 353.5h0M470.9 358.8h0M471.1 350.5h0M471.2 355.1h0M471.3 351.9h0M471.4 350.5h0M471.6 353.5h0M471.7 358.8h0M471.8 353.5h0M471.9 353.5h0M472.0 353.5h0M472.2 349.1h0M472.3 353.5h0M472.4 355.1h0M472.5 344.3h0M472.6 347.8h0M472.8 353.5h0M472.9 358.8h0M473.0 355.1h0M473.1 351.9h0M473.3 349.1h0M473.4 340.3h0M473.5 355.1h0M473.6 353.5h0M473.7 355.1h0M473.9 353.5h0M474.0 356.9h0M474.1 360.9h0M474.2 349.1h0M474.4 353.5h0M474.5 347.8h0M474.6 356.9h0M474.7 353.5h0M474.8 350.5h0M475.0 365.7h0M475.1 360.9h0M475.2 350.5h0M475.3 353.5h0M475.5 365.7h0M475.6 358.8h0M475.7 360.9h0M475.8 356.9h0M475.9 346.6h0M476.1 358.8h0M476.2 344.3h0M476.3 356.9h0M476.4 358.8h0M476.6 346.6h0M476.7 350.5h0M476.8 347.8h0M476.9 344.3h0M477.0 349.1h0M477.2 349.1h0M477.3 365.7h0M477.4 360.9h0M477.5 353.5h0M477.7 355.1h0M477.8 351.9h0M477.9 358.8h0M478.0 349.1h0M478.1 344.3h0M478.3 353.5h0M478.4 351.9h0M478.5 353.5h0M478.6 350.5h0M478.8 355.1h0M478.9 358.8h0M479.0 355.1h0M479.1 356.9h0M479.2 365.7h0M479.4 355.1h0M479.5 356.9h0M479.6 355.1h0M479.7 360.9h0M479.9 353.5h0M480.0 353.5h0M480.1 360.9h0M480.2 355.1h0M480.3 353.5h0M480.5 353.5h0M480.6 363.2h0M480.7 363.2h0M480.8 356.9h0M481.0 363.2h0M481.1 343.3h0M481.2 363.2h0M481.3 363.2h0M481.4 355.1h0M481.6 360.9h0M481.7 371.7h0M481.8 358.8h0M481.9 365.7h0M482.1 360.9h0M482.2 368.5h0M482.3 363.2h0M482.4 360.9h0M482.5 358.8h0M482.7 365.7h0M482.8 363.2h0M482.9 365.7h0M483.0 358.8h0M483.2 360.9h0M483.3 368.5h0M483.4 355.1h0M483.5 363.2h0M483.6 356.9h0M483.8 365.7h0M483.9 358.8h0M484.0 360.9h0M484.1 360.9h0M484.3 356.9h0M484.4 356.9h0M484.5 358.8h0M484.6 358.8h0M484.7 368.5h0M484.9 360.9h0M485.0 375.4h0M485.1 375.4h0M485.2 363.2h0M485.4 363.2h0M485.5 351.9h0M485.6 356.9h0M485.7 353.5h0M485.8 363.2h0M486.0 358.8h0M486.1 353.5h0M486.2 358.8h0M486.3 358.8h0M486.5 360.9h0M486.6 368.5h0M486.7 368.5h0M486.8 371.7h0M486.9 358.8h0M487.1 363.2h0M487.2 365.7h0M487.3 358.8h0M487.4 365.7h0M487.6 355.1h0M487.7 350.5h0M487.8 358.8h0M487.9 365.7h0M488.0 371.7h0M488.2 349.1h0M488.3 358.8h0M488.4 371.7h0M488.5 355.1h0M488.7 371.7h0M488.8 365.7h0M488.9 363.2h0M489.0 365.7h0M489.1 371.7h0M489.3 347.8h0M489.4 365.7h0M489.5 360.9h0M489.6 363.2h0M489.8 375.4h0M489.9 365.7h0M490.0 360.9h0M490.1 356.9h0M490.2 365.7h0M490.4 360.9h0M490.5 365.7h0M490.6 358.8h0M490.7 379.8h0M490.9 358.8h0M491.0 368.5h0M491.1 368.5h0M491.2 385.2h0M491.3 371.7h0M491.5 360.9h0M491.6 349.1h0M491.7 368.5h0M491.8 368.5h0M492.0 360.9h0M492.1 363.2h0M492.2 368.5h0M492.3 365.7h0M492.4 368.5h0M492.6 360.9h0M492.7 358.8h0M492.8 353.5h0M492.9 358.8h0M493.1 360.9h0M493.2 363.2h0M493.3 358.8h0M493.4 371.7h0M493.5 350.5h0M493.7 363.2h0M493.8 355.1h0M493.9 371.7h0M494.0 358.8h0M494.2 363.2h0M494.3 365.7h0M494.4 371.7h0M494.5 371.7h0M494.6 353.5h0M494.8 356.9h0M494.9 365.7h0M495.0 365.7h0M495.1 371.7h0M495.3 379.8h0M495.4 379.8h0M495.5 371.7h0M495.6 368.5h0M495.7 375.4h0M495.9 360.9h0M496.0 363.2h0M496.1 365.7h0M496.2 379.8h0M496.4 368.5h0M496.5 365.7h0M496.6 375.4h0M496.7 385.2h0M496.8 353.5h0M497.0 363.2h0M497.1 368.5h0M497.2 355.1h0M497.3 358.8h0M497.5 363.2h0M497.6 365.7h0M497.7 360.9h0M497.8 356.9h0M497.9 368.5h0M498.1 368.5h0M498.2 363.2h0M498.4 368.5h0M498.6 371.7h0M498.7 368.5h0M498.8 368.5h0M498.9 365.7h0M499.0 368.5h0M499.2 368.5h0M499.3 368.5h0M499.4 365.7h0M499.5 371.7h0M499.7 360.9h0M499.8 379.8h0M499.9 368.5h0M500.0 365.7h0M500.1 379.8h0M500.3 371.7h0M500.4 358.8h0M500.5 368.5h0M500.6 375.4h0M500.9 365.7h0M501.0 368.5h0M501.1 365.7h0M501.2 353.5h0M501.4 368.5h0M501.5 368.5h0M501.6 375.4h0M501.7 371.7h0M501.9 368.5h0M502.0 363.2h0M502.1 365.7h0M502.2 375.4h0M502.3 375.4h0M502.5 358.8h0M502.6 379.8h0M502.7 363.2h0M502.8 356.9h0M503.0 365.7h0M503.1 368.5h0M503.2 358.8h0M503.3 368.5h0M503.4 371.7h0M503.6 371.7h0M503.7 360.9h0M503.8 365.7h0M503.9 358.8h0M504.1 375.4h0M504.2 371.7h0M504.3 375.4h0M504.4 368.5h0M504.5 375.4h0M504.7 363.2h0M504.8 368.5h0M504.9 379.8h0M505.2 385.2h0M505.3 360.9h0M505.4 371.7h0M505.5 371.7h0M505.6 375.4h0M505.8 368.5h0M505.9 385.2h0M506.0 385.2h0M506.1 385.2h0M506.3 371.7h0M506.4 365.7h0M506.5 368.5h0M506.6 371.7h0M506.7 385.2h0M506.9 365.7h0M507.0 375.4h0M507.1 371.7h0M507.2 371.7h0M507.4 375.4h0M507.5 379.8h0M507.6 379.8h0M507.7 385.2h0M507.8 371.7h0M508.0 375.4h0M508.1 365.7h0M508.2 385.2h0M508.3 363.2h0M508.5 375.4h0M508.6 375.4h0M508.7 379.8h0M508.8 379.8h0M508.9 385.2h0M509.1 365.7h0M509.2 375.4h0M509.3 368.5h0M509.4 365.7h0M509.6 379.8h0M509.7 375.4h0M509.8 375.4h0M509.9 365.7h0M510.0 371.7h0M510.2 371.7h0M510.3 368.5h0M510.4 375.4h0M510.5 356.9h0M510.7 379.8h0M510.8 363.2h0M510.9 363.2h0M511.0 385.2h0M511.1 368.5h0M511.3 371.7h0M511.4 368.5h0M511.5 385.2h0M511.6 371.7h0M511.8 385.2h0M511.9 379.8h0M512.0 363.2h0M512.1 375.4h0M512.4 385.2h0M512.5 385.2h0M512.6 365.7h0M512.7 379.8h0M513.0 365.7h0M513.1 371.7h0M513.2 371.7h0M513.3 385.2h0M513.5 363.2h0M513.6 375.4h0M513.8 385.2h0M513.9 385.2h0M514.1 375.4h0M514.2 368.5h0M514.3 385.2h0M514.4 379.8h0M514.6 356.9h0M514.7 375.4h0M514.8 379.8h0M514.9 375.4h0M515.0 385.2h0M515.2 371.7h0M515.3 368.5h0M515.4 379.8h0M515.5 368.5h0M515.7 379.8h0M515.8 375.4h0M515.9 385.2h0M516.0 385.2h0M516.3 375.4h0M516.4 379.8h0M516.5 379.8h0M516.6 385.2h0M516.8 385.2h0M516.9 385.2h0M517.0 371.7h0M517.1 375.4h0M517.2 385.2h0M517.4 375.4h0M517.5 360.9h0M517.6 375.4h0M517.7 358.8h0M517.9 375.4h0M518.0 365.7h0M518.1 385.2h0M518.2 368.5h0M518.5 375.4h0M518.6 379.8h0M519.0 368.5h0M519.1 375.4h0M519.2 365.7h0M519.3 375.4h0M519.6 375.4h0M519.7 385.2h0M519.8 385.2h0M519.9 385.2h0M520.1 385.2h0M520.2 385.2h0M520.3 368.5h0M520.4 375.4h0M520.5 385.2h0M520.7 385.2h0M520.8 368.5h0M520.9 375.4h0M521.0 375.4h0M521.3 385.2h0M521.6 371.7h0M521.8 385.2h0M521.9 385.2h0M522.1 371.7h0M522.3 360.9h0M522.4 375.4h0M522.5 371.7h0M522.7 379.8h0M522.9 379.8h0M523.0 365.7h0M523.1 379.8h0M523.4 379.8h0M523.5 385.2h0M523.6 365.7h0M523.7 375.4h0M523.8 375.4h0M524.0 379.8h0M524.1 371.7h0M524.2 385.2h0M524.6 368.5h0M524.7 375.4h0M524.8 375.4h0M524.9 379.8h0M525.1 365.7h0M525.3 368.5h0M525.6 385.2h0M525.8 379.8h0M525.9 385.2h0M526.0 375.4h0M526.2 385.2h0M526.4 375.4h0M526.5 368.5h0M526.7 375.4h0M526.8 385.2h0M526.9 379.8h0M527.1 385.2h0M527.3 371.7h0M527.4 379.8h0M527.6 375.4h0M527.8 385.2h0M527.9 375.4h0M528.1 385.2h0M528.2 379.8h0M528.4 379.8h0M528.5 375.4h0M528.6 385.2h0M528.7 385.2h0M528.9 379.8h0M529.0 375.4h0M529.2 385.2h0M529.3 385.2h0M529.5 379.8h0M529.6 371.7h0M529.8 379.8h0M530.3 385.2h0M530.7 385.2h0M530.8 385.2h0M531.2 385.2h0M531.3 379.8h0M531.4 375.4h0M531.5 355.1h0M531.7 385.2h0M531.9 379.8h0M532.0 375.4h0M532.2 385.2h0M532.4 385.2h0M532.5 385.2h0M532.9 371.7h0M533.1 385.2h0M533.3 385.2h0M533.4 371.7h0M533.5 379.8h0M533.7 371.7h0M534.0 363.2h0M534.1 368.5h0M534.2 385.2h0M534.4 375.4h0M534.5 385.2h0" stroke="#1aa6ee" stroke-width="2.4" stroke-linecap="round" fill="none"/>
<path d="M327.0 222.6h0M327.1 223.0h0M327.2 223.0h0M327.3 223.1h0M327.4 223.2h0M327.5 223.5h0M327.7 224.0h0M327.8 224.1h0M327.9 224.2h0M328.0 224.5h0M328.1 224.8h0M328.2 224.3h0M328.3 224.9h0M328.4 224.6h0M328.5 225.6h0M328.6 225.6h0M328.7 225.9h0M328.9 226.0h0M329.0 226.2h0M329.1 226.3h0M329.2 226.6h0M329.3 226.0h0M329.4 226.5h0M329.5 227.2h0M329.6 227.3h0M329.7 227.0h0M329.8 227.3h0M330.0 227.8h0M330.1 227.5h0M330.2 228.5h0M330.3 228.3h0M330.4 227.7h0M330.5 229.4h0M330.6 228.7h0M330.7 228.5h0M330.8 229.1h0M330.9 229.5h0M331.0 229.7h0M331.2 230.3h0M331.3 230.2h0M331.4 229.8h0M331.5 230.2h0M331.6 230.2h0M331.7 230.4h0M331.8 230.4h0M331.9 231.3h0M332.0 231.0h0M332.1 231.2h0M332.2 231.3h0M332.4 231.7h0M332.5 232.4h0M332.6 231.5h0M332.7 231.6h0M332.8 231.2h0M332.9 232.0h0M333.0 231.8h0M333.1 232.3h0M333.2 232.9h0M333.3 232.7h0M333.4 233.5h0M333.6 233.2h0M333.7 233.5h0M333.8 234.0h0M333.9 233.3h0M334.0 233.5h0M334.1 233.9h0M334.2 233.9h0M334.3 233.8h0M334.4 234.6h0M334.5 235.3h0M334.7 235.3h0M334.8 234.8h0M334.9 235.1h0M335.0 236.0h0M335.1 235.0h0M335.2 235.6h0M335.3 235.3h0M335.4 235.6h0M335.5 236.4h0M335.6 236.3h0M335.7 236.8h0M335.9 237.1h0M336.0 237.0h0M336.1 236.8h0M336.2 236.6h0M336.3 237.7h0M336.4 237.2h0M336.5 237.7h0M336.6 237.9h0M336.7 237.5h0M336.8 238.3h0M336.9 237.8h0M337.1 238.6h0M337.2 239.1h0M337.3 238.5h0M337.4 239.6h0M337.5 239.7h0M337.6 239.4h0M337.7 239.5h0M337.8 239.7h0M337.9 240.6h0M338.0 240.5h0M338.2 239.9h0M338.3 240.0h0M338.4 240.9h0M338.5 240.5h0M338.6 240.7h0M338.7 240.4h0M338.8 241.4h0M338.9 240.6h0M339.0 241.5h0M339.1 240.9h0M339.2 241.3h0M339.4 242.3h0M339.5 242.2h0M339.6 242.0h0M339.7 241.9h0M339.8 243.1h0M339.9 242.9h0M340.0 242.5h0M340.1 242.7h0M340.2 243.6h0M340.3 243.7h0M340.4 243.2h0M340.6 244.1h0M340.7 243.6h0M340.8 243.5h0M340.9 244.1h0M341.0 245.5h0M341.1 243.8h0M341.2 244.0h0M341.3 244.0h0M341.4 244.4h0M341.5 245.8h0M341.6 244.5h0M341.8 245.1h0M341.9 245.0h0M342.0 245.7h0M342.1 245.9h0M342.2 246.1h0M342.3 245.3h0M342.4 246.1h0M342.5 246.5h0M342.6 247.2h0M342.7 246.5h0M342.9 246.8h0M343.0 246.9h0M343.1 246.6h0M343.2 246.9h0M343.3 247.5h0M343.4 247.5h0M343.5 247.7h0M343.6 247.5h0M343.7 247.7h0M343.8 248.2h0M343.9 248.8h0M344.1 248.1h0M344.2 248.2h0M344.3 249.4h0M344.4 248.8h0M344.5 249.3h0M344.6 250.5h0M344.7 249.5h0M344.8 249.1h0M344.9 250.1h0M345.0 250.3h0M345.1 249.5h0M345.3 250.8h0M345.4 250.8h0M345.5 250.7h0M345.6 250.3h0M345.7 250.4h0M345.8 251.2h0M345.9 251.3h0M346.0 251.2h0M346.1 251.6h0M346.2 252.0h0M346.3 252.3h0M346.5 251.4h0M346.6 252.1h0M346.7 250.5h0M346.8 251.9h0M346.9 252.9h0M347.0 252.6h0M347.1 252.5h0M347.2 252.7h0M347.3 252.8h0M347.4 252.9h0M347.6 253.4h0M347.7 253.1h0M347.8 252.3h0M347.9 254.0h0M348.0 254.1h0M348.1 253.6h0M348.2 253.5h0M348.3 253.8h0M348.4 253.8h0M348.5 254.7h0M348.6 254.9h0M348.8 254.5h0M348.9 254.7h0M349.0 254.2h0M349.1 254.4h0M349.2 256.6h0M349.3 255.2h0M349.4 256.2h0M349.5 257.2h0M349.6 255.8h0M349.7 256.3h0M349.8 256.6h0M350.0 257.3h0M350.1 257.3h0M350.2 256.9h0M350.3 257.9h0M350.4 257.2h0M350.5 257.2h0M350.6 257.5h0M350.7 257.3h0M350.8 257.7h0M350.9 258.6h0M351.1 258.6h0M351.2 258.0h0M351.3 257.6h0M351.4 258.3h0M351.5 258.9h0M351.6 258.6h0M351.7 260.0h0M351.8 259.6h0M351.9 259.3h0M352.0 259.3h0M352.1 259.6h0M352.3 259.7h0M352.4 260.5h0M352.5 260.2h0M352.6 259.8h0M352.7 261.3h0M352.8 261.1h0M352.9 260.6h0M353.0 259.5h0M353.1 260.2h0M353.2 259.7h0M353.3 260.0h0M353.5 261.4h0M353.6 261.2h0M353.7 262.2h0M353.8 260.7h0M353.9 261.1h0M354.0 261.4h0M354.1 261.4h0M354.2 261.7h0M354.3 262.1h0M354.4 262.1h0M354.5 261.6h0M354.7 263.1h0M354.8 263.5h0M354.9 262.9h0M355.0 262.2h0M355.1 263.0h0M355.2 263.4h0M355.3 262.8h0M355.4 263.5h0M355.5 265.1h0M355.6 264.6h0M355.8 265.5h0M355.9 264.3h0M356.0 264.6h0M356.1 264.1h0M356.2 263.0h0M356.3 265.1h0M356.4 264.8h0M356.5 265.2h0M356.6 267.1h0M356.7 265.8h0M356.8 265.9h0M357.0 265.2h0M357.1 266.3h0M357.2 266.7h0M357.3 265.4h0M357.4 266.1h0M357.5 266.8h0M357.6 266.8h0M357.7 266.6h0M357.8 265.9h0M357.9 265.6h0M358.0 267.8h0M358.2 266.1h0M358.3 267.0h0M358.4 266.9h0M358.5 266.6h0M358.6 268.2h0M358.7 266.9h0M358.8 268.8h0M358.9 268.2h0M359.0 268.7h0M359.1 266.8h0M359.2 267.0h0M359.4 267.8h0M359.5 268.1h0M359.6 269.1h0M359.7 267.4h0M359.8 267.8h0M359.9 268.3h0M360.0 269.3h0M360.1 269.6h0M360.2 269.5h0M360.3 268.5h0M360.5 270.5h0M360.6 269.8h0M360.7 268.7h0M360.8 269.4h0M360.9 268.8h0M361.0 270.0h0M361.1 270.2h0M361.2 269.5h0M361.3 270.2h0M361.4 270.6h0M361.5 271.5h0M361.7 272.4h0M361.8 270.0h0M361.9 271.8h0M362.0 272.1h0M362.1 270.9h0M362.2 272.6h0M362.3 273.1h0M362.4 272.5h0M362.5 272.2h0M362.6 272.1h0M362.7 272.0h0M362.9 271.7h0M363.0 272.8h0M363.1 272.5h0M363.2 273.0h0M363.3 273.6h0M363.4 272.8h0M363.5 273.0h0M363.6 271.8h0M363.7 273.0h0M363.8 274.3h0M364.0 273.3h0M364.1 274.2h0M364.2 272.7h0M364.3 275.8h0M364.4 274.9h0M364.5 275.1h0M364.6 274.5h0M364.7 274.8h0M364.8 276.3h0M364.9 276.7h0M365.0 274.9h0M365.2 273.9h0M365.3 274.0h0M365.4 275.8h0M365.5 275.2h0M365.6 276.5h0M365.7 277.2h0M365.8 274.8h0M365.9 275.5h0M366.0 276.5h0M366.1 276.7h0M366.2 275.6h0M366.4 276.3h0M366.5 277.0h0M366.6 276.6h0M366.7 277.0h0M366.8 277.5h0M366.9 277.9h0M367.0 276.4h0M367.1 277.9h0M367.2 278.7h0M367.3 276.0h0M367.4 276.7h0M367.6 277.4h0M367.7 278.1h0M367.8 278.1h0M367.9 279.7h0M368.0 278.5h0M368.1 278.3h0M368.2 278.9h0M368.3 278.4h0M368.4 279.7h0M368.5 278.9h0M368.7 280.8h0M368.8 279.4h0M368.9 280.0h0M369.0 280.8h0M369.1 280.0h0M369.2 279.8h0M369.3 280.5h0M369.4 279.1h0M369.5 280.8h0M369.6 279.4h0M369.7 279.7h0M369.9 281.1h0M370.0 279.2h0M370.1 282.1h0M370.2 280.4h0M370.3 280.9h0M370.4 280.4h0M370.5 282.9h0M370.6 282.6h0M370.7 282.3h0M370.8 281.6h0M370.9 281.7h0M371.1 281.8h0M371.2 282.2h0M371.3 282.9h0M371.4 283.7h0M371.5 282.8h0M371.6 281.9h0M371.7 281.6h0M371.8 283.3h0M371.9 281.7h0M372.0 284.4h0M372.1 282.2h0M372.3 284.3h0M372.4 283.1h0M372.5 284.4h0M372.6 284.6h0M372.7 284.3h0M372.8 282.2h0M372.9 284.6h0M373.0 283.4h0M373.1 284.0h0M373.2 283.9h0M373.4 284.0h0M373.5 283.8h0M373.6 285.9h0M373.7 284.7h0M373.8 284.4h0M373.9 285.6h0M374.0 284.7h0M374.1 286.4h0M374.2 284.5h0M374.3 286.3h0M374.4 285.8h0M374.6 284.7h0M374.7 284.5h0M374.8 286.6h0M374.9 286.7h0M375.0 285.0h0M375.1 289.5h0M375.2 284.8h0M375.3 285.0h0M375.4 287.8h0M375.5 285.4h0M375.6 286.4h0M375.8 286.4h0M375.9 289.8h0M376.0 287.8h0M376.1 287.5h0M376.2 287.9h0M376.3 288.0h0M376.4 288.0h0M376.5 291.1h0M376.6 288.1h0M376.7 288.7h0M376.9 288.2h0M377.0 288.7h0M377.1 288.4h0M377.2 288.1h0M377.3 286.5h0M377.4 289.6h0M377.5 286.7h0M377.6 289.1h0M377.7 290.0h0M377.8 290.8h0M377.9 288.2h0M378.1 291.2h0M378.2 288.4h0M378.3 289.1h0M378.4 290.4h0M378.5 290.6h0M378.6 289.4h0M378.7 289.9h0M378.8 289.2h0M378.9 290.3h0M379.0 291.0h0M379.1 289.8h0M379.3 292.1h0M379.4 289.6h0M379.5 290.7h0M379.6 292.4h0M379.7 292.4h0M379.8 291.5h0M379.9 293.6h0M380.0 289.6h0M380.1 290.3h0M380.2 293.0h0M380.3 291.8h0M380.5 289.6h0M380.6 291.4h0M380.7 293.4h0M380.8 295.0h0M380.9 294.3h0M381.0 290.8h0M381.1 292.1h0M381.2 294.3h0M381.3 291.8h0M381.4 293.3h0M381.6 293.7h0M381.7 293.7h0M381.8 293.7h0M381.9 291.1h0M382.0 294.7h0M382.1 294.0h0M382.2 291.8h0M382.3 291.7h0M382.4 295.1h0M382.5 291.1h0M382.6 292.5h0M382.8 296.1h0M382.9 291.8h0M383.0 296.3h0M383.1 293.6h0M383.2 296.1h0M383.3 297.2h0M383.4 293.6h0M383.5 294.3h0M383.6 295.1h0M383.7 294.8h0M383.8 295.3h0M384.0 295.6h0M384.1 296.8h0M384.2 294.7h0M384.3 295.6h0M384.4 296.1h0M384.5 296.6h0M384.6 296.3h0M384.7 298.3h0M384.8 296.6h0M384.9 297.7h0M385.0 294.5h0M385.2 297.9h0M385.3 297.2h0M385.4 296.6h0M385.5 295.6h0M385.6 296.3h0M385.7 297.0h0M385.8 294.0h0M385.9 297.2h0M386.0 296.8h0M386.1 293.4h0M386.3 298.8h0M386.4 296.3h0M386.5 297.2h0M386.6 299.8h0M386.7 298.8h0M386.8 296.8h0M386.9 300.4h0M387.0 298.6h0M387.1 297.0h0M387.2 298.8h0M387.3 298.3h0M387.5 299.6h0M387.6 299.8h0M387.7 299.8h0M387.8 299.6h0M387.9 298.1h0M388.0 299.0h0M388.1 296.3h0M388.2 298.6h0M388.3 299.0h0M388.4 296.1h0M388.5 300.0h0M388.7 301.0h0M388.8 299.8h0M388.9 301.6h0M389.0 299.4h0M389.1 298.1h0M389.2 299.4h0M389.3 301.0h0M389.4 300.8h0M389.5 300.0h0M389.6 299.0h0M389.8 301.4h0M389.9 301.6h0M390.0 299.4h0M390.1 300.8h0M390.2 300.8h0M390.3 300.6h0M390.4 302.7h0M390.5 301.9h0M390.6 300.0h0M390.7 302.1h0M390.8 302.3h0M391.0 301.4h0M391.1 301.4h0M391.2 298.1h0M391.3 303.7h0M391.4 302.1h0M391.5 299.2h0M391.6 302.5h0M391.7 302.1h0M391.8 305.1h0M391.9 301.2h0M392.0 301.6h0M392.2 301.9h0M392.3 303.4h0M392.4 302.7h0M392.5 303.4h0M392.6 302.1h0M392.7 303.7h0M392.8 302.3h0M392.9 306.1h0M393.0 304.4h0M393.1 308.8h0M393.2 304.4h0M393.4 303.0h0M393.5 304.8h0M393.6 300.4h0M393.7 306.1h0M393.8 305.1h0M393.9 306.4h0M394.0 305.6h0M394.1 305.6h0M394.2 307.4h0M394.3 306.9h0M394.5 301.6h0M394.6 305.8h0M394.7 303.9h0M394.8 307.7h0M394.9 305.8h0M395.0 304.8h0M395.1 306.1h0M395.2 306.9h0M395.3 306.4h0M395.4 306.1h0M395.5 304.8h0M395.7 304.1h0M395.8 308.8h0M395.9 310.0h0M396.0 306.9h0M396.1 306.6h0M396.2 305.6h0M396.3 305.1h0M396.4 308.3h0M396.5 303.4h0M396.6 306.6h0M396.7 310.3h0M396.9 305.6h0M397.0 306.9h0M397.1 307.2h0M397.2 310.6h0M397.3 308.3h0M397.4 307.7h0M397.5 308.3h0M397.6 306.9h0M397.7 305.8h0M397.8 305.3h0M397.9 306.1h0M398.1 308.8h0M398.2 305.3h0M398.3 308.3h0M398.4 307.2h0M398.5 309.4h0M398.6 311.6h0M398.7 313.3h0M398.8 308.8h0M398.9 310.3h0M399.0 309.4h0M399.2 307.7h0M399.3 312.2h0M399.4 312.9h0M399.5 309.1h0M399.6 309.1h0M399.7 310.3h0M399.8 310.9h0M399.9 312.9h0M400.0 310.3h0M400.1 311.6h0M400.2 309.4h0M400.4 308.5h0M400.5 311.6h0M400.6 309.7h0M400.7 310.3h0M400.8 309.4h0M400.9 308.0h0M401.0 309.7h0M401.1 309.7h0M401.2 309.7h0M401.3 312.2h0M401.4 311.3h0M401.6 310.9h0M401.7 309.1h0M401.8 309.1h0M401.9 307.4h0M402.0 314.0h0M402.1 311.9h0M402.2 315.4h0M402.3 313.3h0M402.4 315.4h0M402.5 310.0h0M402.6 310.9h0M402.8 314.7h0M402.9 311.9h0M403.0 311.3h0M403.1 309.4h0M403.2 311.3h0M403.3 312.6h0M403.4 313.3h0M403.5 311.9h0M403.6 312.6h0M403.7 314.3h0M403.9 315.8h0M404.0 311.3h0M404.1 315.1h0M404.2 314.3h0M404.3 312.2h0M404.4 314.0h0M404.5 311.6h0M404.6 316.2h0M404.7 312.6h0M404.8 317.0h0M404.9 317.4h0M405.1 316.6h0M405.2 314.3h0M405.3 316.2h0M405.4 317.4h0M405.5 312.2h0M405.6 317.0h0M405.7 315.1h0M405.8 314.7h0M405.9 316.2h0M406.0 314.3h0M406.1 314.0h0M406.3 315.8h0M406.4 313.3h0M406.5 317.0h0M406.6 317.8h0M406.7 315.4h0M406.8 317.8h0M406.9 315.1h0M407.0 316.2h0M407.1 317.0h0M407.2 315.1h0M407.4 315.1h0M407.5 323.0h0M407.6 317.4h0M407.7 316.2h0M407.8 315.8h0M407.9 317.8h0M408.0 319.6h0M408.1 316.6h0M408.2 315.4h0M408.3 321.4h0M408.4 320.5h0M408.6 318.7h0M408.7 323.0h0M408.8 318.7h0M408.9 315.8h0M409.0 320.0h0M409.1 317.4h0M409.2 320.0h0M409.3 317.0h0M409.4 316.6h0M409.5 315.1h0M409.6 318.3h0M409.8 315.8h0M409.9 317.4h0M410.0 319.6h0M410.1 315.1h0M410.2 320.0h0M410.3 318.3h0M410.4 313.3h0M410.5 317.0h0M410.6 321.0h0M410.7 318.3h0M410.8 320.5h0M411.0 319.6h0M411.1 323.0h0M411.2 319.1h0M411.3 323.0h0M411.4 318.7h0M411.5 318.7h0M411.6 317.8h0M411.7 314.7h0M411.8 324.0h0M411.9 323.0h0M412.1 322.4h0M412.2 321.4h0M412.3 318.3h0M412.4 321.4h0M412.5 321.9h0M412.6 323.5h0M412.7 321.9h0M412.8 321.9h0M412.9 321.0h0M413.0 324.6h0M413.1 321.4h0M413.3 319.6h0M413.4 320.5h0M413.5 324.0h0M413.6 319.6h0M413.7 319.6h0M413.8 321.0h0M413.9 324.6h0M414.0 325.1h0M414.1 321.9h0M414.2 324.6h0M414.3 325.1h0M414.5 320.0h0M414.6 320.0h0M414.7 320.5h0M414.8 319.1h0M414.9 320.0h0M415.0 325.1h0M415.1 319.6h0M415.2 322.4h0M415.3 321.4h0M415.4 319.1h0M415.5 321.9h0M415.7 319.1h0M415.8 323.0h0M415.9 324.0h0M416.0 325.1h0M416.1 323.5h0M416.2 327.5h0M416.3 323.5h0M416.4 324.0h0M416.5 325.1h0M416.6 329.5h0M416.8 329.5h0M416.9 321.9h0M417.0 326.3h0M417.1 320.5h0M417.2 325.7h0M417.3 323.5h0M417.4 328.2h0M417.5 326.3h0M417.6 325.1h0M417.7 323.0h0M417.8 320.5h0M418.0 322.4h0M418.1 328.8h0M418.2 325.1h0M418.3 325.7h0M418.4 326.9h0M418.5 323.5h0M418.6 321.0h0M418.7 326.3h0M418.8 322.4h0M418.9 321.9h0M419.0 328.2h0M419.2 321.0h0M419.3 321.4h0M419.4 325.1h0M419.5 321.4h0M419.6 325.1h0M419.7 323.0h0M419.8 324.6h0M419.9 328.8h0M420.0 325.7h0M420.1 326.9h0M420.3 327.5h0M420.4 329.5h0M420.5 328.8h0M420.6 330.2h0M420.7 323.5h0M420.8 332.4h0M420.9 326.9h0M421.0 328.8h0M421.1 330.9h0M421.2 325.1h0M421.3 329.5h0M421.5 324.0h0M421.6 328.2h0M421.7 326.9h0M421.8 328.2h0M421.9 325.7h0M422.0 325.1h0M422.1 328.8h0M422.2 328.2h0M422.3 323.0h0M422.4 329.5h0M422.5 323.0h0M422.7 329.5h0M422.8 330.2h0M422.9 333.2h0M423.0 330.9h0M423.1 333.2h0M423.2 330.2h0M423.3 326.9h0M423.4 328.8h0M423.5 330.9h0M423.6 331.7h0M423.7 330.9h0M423.9 333.2h0M424.0 333.2h0M424.1 324.0h0M424.2 328.8h0M424.3 332.4h0M424.4 327.5h0M424.5 325.1h0M424.6 331.7h0M424.7 330.2h0M424.8 333.2h0M425.0 334.9h0M425.1 326.3h0M425.2 320.0h0M425.3 332.4h0M425.4 334.9h0M425.5 326.3h0M425.6 327.5h0M425.7 328.8h0M425.8 326.3h0M425.9 331.7h0M426.0 330.2h0M426.2 328.8h0M426.3 331.7h0M426.4 329.5h0M426.5 331.7h0M426.6 329.5h0M426.7 330.9h0M426.8 337.6h0M426.9 330.9h0M427.0 335.7h0M427.1 334.0h0M427.2 336.6h0M427.4 329.5h0M427.5 332.4h0M427.6 333.2h0M427.7 328.2h0M427.8 330.2h0M427.9 332.4h0M428.0 338.5h0M428.1 330.2h0M428.2 333.2h0M428.3 333.2h0M428.4 330.2h0M428.6 334.9h0M428.7 333.2h0M428.8 330.2h0M428.9 330.9h0M429.0 334.9h0M429.1 328.8h0M429.2 329.5h0M429.3 327.5h0M429.4 333.2h0M429.5 332.4h0M429.7 330.2h0M429.8 332.4h0M429.9 333.2h0M430.0 334.0h0M430.1 334.9h0M430.2 335.7h0M430.3 335.7h0M430.4 332.4h0M430.5 334.9h0M430.6 338.5h0M430.7 334.0h0M430.9 328.8h0M431.0 330.2h0M431.1 340.6h0M431.2 337.6h0M431.3 332.4h0M431.4 334.0h0M431.5 334.9h0M431.6 334.9h0M431.7 334.9h0M431.8 338.5h0M431.9 330.9h0M432.1 338.5h0M432.2 335.7h0M432.3 330.2h0M432.4 331.7h0M432.5 335.7h0M432.6 335.7h0M432.7 337.6h0M432.8 337.6h0M432.9 336.6h0M433.0 331.7h0M433.2 337.6h0M433.3 334.0h0M433.4 334.9h0M433.5 334.9h0M433.6 336.6h0M433.7 334.0h0M433.8 335.7h0M433.9 335.7h0M434.0 337.6h0M434.1 344.1h0M434.2 334.0h0M434.4 334.0h0M434.5 338.5h0M434.6 337.6h0M434.7 335.7h0M434.8 340.6h0M434.9 334.9h0M435.0 334.9h0M435.1 334.0h0M435.2 334.0h0M435.3 344.1h0M435.4 335.7h0M435.6 338.5h0M435.7 334.0h0M435.8 334.0h0M435.9 334.9h0M436.0 337.6h0M436.1 328.2h0M436.2 337.6h0M436.3 341.7h0M436.4 334.9h0M436.5 342.9h0M436.6 331.7h0M436.8 334.9h0M436.9 334.0h0M437.0 334.9h0M437.1 336.6h0M437.2 342.9h0M437.3 340.6h0M437.4 336.6h0M437.5 339.6h0M437.6 337.6h0M437.7 340.6h0M437.9 341.7h0M438.0 337.6h0M438.1 336.6h0M438.2 339.6h0M438.3 342.9h0M438.4 345.4h0M438.5 332.4h0M438.6 342.9h0M438.7 342.9h0M438.8 341.7h0M438.9 336.6h0M439.1 342.9h0M439.2 337.6h0M439.3 338.5h0M439.4 344.1h0M439.5 339.6h0M439.6 344.1h0M439.7 340.6h0M439.8 337.6h0M439.9 340.6h0M440.0 344.1h0M440.1 341.7h0M440.3 341.7h0M440.4 339.6h0M440.5 348.3h0M440.6 346.8h0M440.7 339.6h0M440.8 341.7h0M440.9 340.6h0M441.0 340.6h0M441.1 341.7h0M441.2 342.9h0M441.3 340.6h0M441.5 338.5h0M441.6 340.6h0M441.7 341.7h0M441.8 345.4h0M441.9 340.6h0M442.0 345.4h0M442.1 344.1h0M442.2 341.7h0M442.3 341.7h0M442.4 338.5h0M442.6 338.5h0M442.7 340.6h0M442.8 342.9h0M442.9 342.9h0M443.0 342.9h0M443.1 335.7h0M443.2 340.6h0M443.3 345.4h0M443.4 345.4h0M443.5 338.5h0M443.6 346.8h0M443.8 341.7h0M443.9 342.9h0M444.0 339.6h0M444.1 346.8h0M444.2 341.7h0M444.3 342.9h0M444.4 340.6h0M444.5 338.5h0M444.6 342.9h0M444.7 344.1h0M444.8 340.6h0M445.0 349.8h0M445.1 342.9h0M445.2 348.3h0M445.3 348.3h0M445.4 349.8h0M445.5 349.8h0M445.6 340.6h0M445.7 340.6h0M445.8 344.1h0M445.9 340.6h0M446.1 344.1h0M446.2 346.8h0M446.3 348.3h0M446.4 341.7h0M446.5 341.7h0M446.6 339.6h0M446.7 348.3h0M446.8 345.4h0M446.9 349.8h0M447.0 340.6h0M447.1 341.7h0M447.3 342.9h0M447.4 345.4h0M447.5 345.4h0M447.6 346.8h0M447.7 340.6h0M447.8 348.3h0M447.9 341.7h0M448.0 344.1h0M448.1 349.8h0M448.2 351.5h0M448.3 348.3h0M448.5 345.4h0M448.6 351.5h0M448.7 342.9h0M448.8 341.7h0M448.9 344.1h0M449.0 353.2h0M449.1 355.1h0M449.2 342.9h0M449.3 340.6h0M449.4 348.3h0M449.5 344.1h0M449.7 348.3h0M449.8 349.8h0M449.9 342.9h0M450.0 349.8h0M450.1 342.9h0M450.2 339.6h0M450.3 348.3h0M450.4 339.6h0M450.5 353.2h0M450.6 342.9h0M450.8 346.8h0M450.9 336.6h0M451.0 346.8h0M451.1 351.5h0M451.2 340.6h0M451.3 353.2h0M451.4 345.4h0M451.5 351.5h0M451.6 341.7h0M451.7 348.3h0M451.8 344.1h0M452.0 348.3h0M452.1 353.2h0M452.2 357.2h0M452.3 340.6h0M452.4 346.8h0M452.5 353.2h0M452.6 349.8h0M452.7 344.1h0M452.8 355.1h0M452.9 338.5h0M453.0 349.8h0M453.2 349.8h0M453.3 342.9h0M453.4 348.3h0M453.5 353.2h0M453.6 345.4h0M453.7 346.8h0M453.8 344.1h0M453.9 353.2h0M454.0 355.1h0M454.1 346.8h0M454.2 351.5h0M454.4 359.5h0M454.5 351.5h0M454.6 346.8h0M454.7 353.2h0M454.8 344.1h0M454.9 351.5h0M455.0 349.8h0M455.1 357.2h0M455.2 353.2h0M455.3 351.5h0M455.5 348.3h0M455.6 349.8h0M455.7 345.4h0M455.8 359.5h0M455.9 349.8h0M456.0 351.5h0M456.1 355.1h0M456.2 351.5h0M456.3 353.2h0M456.4 348.3h0M456.5 353.2h0M456.7 348.3h0M456.8 355.1h0M456.9 345.4h0M457.0 349.8h0M457.1 342.9h0M457.2 351.5h0M457.3 353.2h0M457.4 351.5h0M457.5 353.2h0M457.6 357.2h0M457.7 351.5h0M457.9 351.5h0M458.0 355.1h0M458.1 353.2h0M458.2 357.2h0M458.3 351.5h0M458.4 357.2h0M458.5 344.1h0M458.6 351.5h0M458.7 348.3h0M458.8 357.2h0M459.0 351.5h0M459.1 353.2h0M459.2 348.3h0M459.3 348.3h0M459.4 359.5h0M459.5 346.8h0M459.6 359.5h0M459.7 346.8h0M459.8 353.2h0M459.9 359.5h0M460.0 349.8h0M460.2 353.2h0M460.3 357.2h0M460.4 357.2h0M460.5 351.5h0M460.6 359.5h0M460.7 357.2h0M460.8 344.1h0M460.9 357.2h0M461.0 351.5h0M461.1 351.5h0M461.2 349.8h0M461.4 349.8h0M461.5 364.9h0M461.6 357.2h0M461.7 348.3h0M461.8 357.2h0M461.9 345.4h0M462.0 353.2h0M462.1 359.5h0M462.2 351.5h0M462.3 345.4h0M462.4 357.2h0M462.6 351.5h0M462.7 359.5h0M462.8 357.2h0M462.9 353.2h0M463.0 351.5h0M463.1 353.2h0M463.2 353.2h0M463.3 342.9h0M463.4 359.5h0M463.5 364.9h0M463.7 353.2h0M463.8 355.1h0M463.9 362.0h0M464.0 346.8h0M464.1 359.5h0M464.2 362.0h0M464.3 353.2h0M464.4 353.2h0M464.5 344.1h0M464.6 362.0h0M464.7 362.0h0M464.9 357.2h0M465.0 357.2h0M465.1 357.2h0M465.2 359.5h0M465.3 364.9h0M465.4 359.5h0M465.5 353.2h0M465.6 351.5h0M465.7 359.5h0M465.8 353.2h0M465.9 355.1h0M466.1 359.5h0M466.2 357.2h0M466.3 357.2h0M466.4 342.9h0M466.5 355.1h0M466.6 362.0h0M466.7 357.2h0M466.8 359.5h0M466.9 351.5h0M467.0 368.1h0M467.1 362.0h0M467.3 353.2h0M467.4 355.1h0M467.5 357.2h0M467.6 353.2h0M467.7 364.9h0M467.8 355.1h0M467.9 364.9h0M468.0 364.9h0M468.1 355.1h0M468.2 362.0h0M468.4 359.5h0M468.5 355.1h0M468.6 362.0h0M468.7 355.1h0M468.8 346.8h0M468.9 359.5h0M469.0 353.2h0M469.1 353.2h0M469.2 364.9h0M469.3 364.9h0M469.4 359.5h0M469.6 368.1h0M469.7 357.2h0M469.8 357.2h0M469.9 355.1h0M470.0 357.2h0M470.1 351.5h0M470.2 359.5h0M470.3 351.5h0M470.4 355.1h0M470.5 355.1h0M470.6 359.5h0M470.8 353.2h0M470.9 362.0h0M471.0 355.1h0M471.1 353.2h0M471.2 362.0h0M471.3 364.9h0M471.4 364.9h0M471.5 359.5h0M471.6 357.2h0M471.7 355.1h0M471.8 349.8h0M472.0 351.5h0M472.1 357.2h0M472.2 362.0h0M472.3 368.1h0M472.4 355.1h0M472.5 357.2h0M472.6 362.0h0M472.7 362.0h0M472.8 362.0h0M472.9 376.1h0M473.1 359.5h0M473.2 359.5h0M473.3 362.0h0M473.4 368.1h0M473.5 359.5h0M473.6 357.2h0M473.7 351.5h0M473.8 355.1h0M473.9 357.2h0M474.0 362.0h0M474.1 368.1h0M474.3 364.9h0M474.4 368.1h0M474.5 362.0h0M474.6 355.1h0M474.7 355.1h0M474.8 357.2h0M474.9 362.0h0M475.0 355.1h0M475.1 362.0h0M475.2 371.7h0M475.3 362.0h0M475.5 362.0h0M475.6 371.7h0M475.7 364.9h0M475.8 376.1h0M475.9 364.9h0M476.0 355.1h0M476.1 364.9h0M476.2 355.1h0M476.3 362.0h0M476.4 368.1h0M476.6 371.7h0M476.7 357.2h0M476.8 359.5h0M476.9 371.7h0M477.0 364.9h0M477.1 355.1h0M477.2 368.1h0M477.3 359.5h0M477.4 376.1h0M477.5 368.1h0M477.6 359.5h0M477.8 368.1h0M477.9 371.7h0M478.0 371.7h0M478.1 364.9h0M478.2 371.7h0M478.3 364.9h0M478.4 359.5h0M478.5 355.1h0M478.6 364.9h0M478.7 353.2h0M478.8 359.5h0M479.0 364.9h0M479.1 359.5h0M479.2 355.1h0M479.3 355.1h0M479.4 359.5h0M479.5 364.9h0M479.6 359.5h0M479.7 362.0h0M479.8 362.0h0M479.9 362.0h0M480.0 353.2h0M480.2 371.7h0M480.3 364.9h0M480.4 371.7h0M480.5 359.5h0M480.6 357.2h0M480.7 357.2h0M480.8 368.1h0M480.9 364.9h0M481.0 359.5h0M481.1 364.9h0M481.3 362.0h0M481.4 364.9h0M481.5 362.0h0M481.6 364.9h0M481.7 362.0h0M481.8 376.1h0M481.9 368.1h0M482.0 371.7h0M482.1 364.9h0M482.2 368.1h0M482.3 362.0h0M482.5 357.2h0M482.6 371.7h0M482.7 371.7h0M482.8 364.9h0M482.9 357.2h0M483.0 362.0h0M483.1 362.0h0M483.2 364.9h0M483.3 368.1h0M483.4 364.9h0M483.5 362.0h0M483.7 364.9h0M483.8 368.1h0M483.9 376.1h0M484.0 371.7h0M484.1 368.1h0M484.2 371.7h0M484.3 364.9h0M484.4 376.1h0M484.5 368.1h0M484.6 364.9h0M484.7 362.0h0M484.9 364.9h0M485.0 359.5h0M485.1 371.7h0M485.2 371.7h0M485.3 359.5h0M485.4 371.7h0M485.5 368.1h0M485.6 376.1h0M485.7 359.5h0M485.8 362.0h0M486.0 371.7h0M486.1 376.1h0M486.2 364.9h0M486.3 364.9h0M486.4 359.5h0M486.5 355.1h0M486.6 364.9h0M486.7 368.1h0M486.8 368.1h0M486.9 368.1h0M487.0 376.1h0M487.2 371.7h0M487.3 368.1h0M487.4 376.1h0M487.5 376.1h0M487.6 359.5h0M487.7 371.7h0M487.8 362.0h0M487.9 362.0h0M488.0 368.1h0M488.1 362.0h0M488.2 368.1h0M488.4 376.1h0M488.5 368.1h0M488.6 368.1h0M488.7 368.1h0M488.8 368.1h0M488.9 371.7h0M489.0 362.0h0M489.1 371.7h0M489.2 371.7h0M489.3 362.0h0M489.5 376.1h0M489.6 368.1h0M489.7 359.5h0M489.8 368.1h0M489.9 359.5h0M490.0 371.7h0M490.1 371.7h0M490.2 371.7h0M490.3 371.7h0M490.4 371.7h0M490.5 371.7h0M490.7 364.9h0M490.8 368.1h0M490.9 371.7h0M491.0 376.1h0M491.1 348.3h0M491.2 371.7h0M491.3 359.5h0M491.4 376.1h0M491.5 376.1h0M491.6 362.0h0M491.7 376.1h0M491.9 376.1h0M492.0 371.7h0M492.1 376.1h0M492.2 371.7h0M492.3 368.1h0M492.4 364.9h0M492.5 368.1h0M492.6 368.1h0M492.7 362.0h0M492.8 362.0h0M492.9 371.7h0M493.1 381.5h0M493.2 376.1h0M493.3 364.9h0M493.4 376.1h0M493.5 376.1h0M493.6 376.1h0M493.7 359.5h0M493.8 371.7h0M493.9 371.7h0M494.0 376.1h0M494.2 381.5h0M494.3 351.5h0M494.4 371.7h0M494.5 371.7h0M494.6 371.7h0M494.7 364.9h0M494.8 376.1h0M494.9 388.4h0M495.0 376.1h0M495.1 368.1h0M495.2 355.1h0M495.4 371.7h0M495.5 376.1h0M495.6 371.7h0M495.7 376.1h0M495.8 376.1h0M495.9 371.7h0M496.0 371.7h0M496.1 376.1h0M496.2 364.9h0M496.3 371.7h0M496.4 371.7h0M496.6 376.1h0M496.7 368.1h0M496.8 368.1h0M496.9 368.1h0M497.0 376.1h0M497.1 368.1h0M497.2 376.1h0M497.3 371.7h0M497.4 368.1h0M497.5 362.0h0M497.6 376.1h0M497.8 381.5h0M497.9 371.7h0M498.0 364.9h0M498.1 376.1h0M498.2 355.1h0M498.3 388.4h0M498.4 362.0h0M498.5 364.9h0M498.6 364.9h0M498.7 381.5h0M498.9 364.9h0M499.0 364.9h0M499.1 364.9h0M499.2 376.1h0M499.3 376.1h0M499.4 364.9h0M499.5 371.7h0M499.6 376.1h0M499.7 381.5h0M499.8 371.7h0M499.9 381.5h0M500.1 368.1h0M500.2 371.7h0M500.3 388.4h0M500.4 371.7h0M500.5 364.9h0M500.6 371.7h0M500.7 381.5h0M500.8 381.5h0M500.9 368.1h0M501.0 381.5h0M501.1 376.1h0M501.3 364.9h0M501.4 376.1h0M501.5 381.5h0M501.6 368.1h0M501.7 362.0h0M501.8 371.7h0M501.9 388.4h0M502.0 388.4h0M502.1 376.1h0M502.2 388.4h0M502.4 376.1h0M502.5 368.1h0M502.7 376.1h0M502.8 371.7h0M502.9 381.5h0M503.0 371.7h0M503.1 371.7h0M503.2 368.1h0M503.3 355.1h0M503.4 371.7h0M503.6 381.5h0M503.7 381.5h0M503.8 388.4h0M503.9 371.7h0M504.0 371.7h0M504.1 371.7h0M504.2 376.1h0M504.3 364.9h0M504.4 368.1h0M504.5 368.1h0M504.6 381.5h0M504.8 376.1h0M504.9 388.4h0M505.0 381.5h0M505.1 376.1h0M505.2 388.4h0M505.3 381.5h0M505.4 362.0h0M505.5 376.1h0M505.6 388.4h0M505.7 388.4h0M505.8 376.1h0M506.0 371.7h0M506.1 376.1h0M506.2 371.7h0M506.3 376.1h0M506.4 388.4h0M506.5 368.1h0M506.6 381.5h0M506.7 362.0h0M506.8 381.5h0M506.9 376.1h0M507.1 381.5h0M507.2 381.5h0M507.3 371.7h0M507.4 381.5h0M507.5 368.1h0M507.6 376.1h0M507.7 364.9h0M507.8 376.1h0M507.9 368.1h0M508.0 368.1h0M508.1 381.5h0M508.3 357.2h0M508.4 364.9h0M508.5 371.7h0M508.6 381.5h0M508.7 376.1h0M508.8 381.5h0M508.9 376.1h0M509.0 388.4h0M509.1 376.1h0M509.2 381.5h0M509.3 364.9h0M509.5 371.7h0M509.6 364.9h0M509.7 359.5h0M509.8 376.1h0M509.9 362.0h0M510.0 376.1h0M510.1 371.7h0M510.2 388.4h0M510.3 376.1h0M510.4 368.1h0M510.5 376.1h0M510.7 381.5h0M510.8 376.1h0M510.9 381.5h0M511.0 381.5h0M511.1 388.4h0M511.2 368.1h0M511.3 371.7h0M511.4 381.5h0M511.5 388.4h0M511.6 381.5h0M511.8 362.0h0M511.9 388.4h0M512.0 381.5h0M512.1 381.5h0M512.2 371.7h0M512.3 388.4h0M512.4 376.1h0M512.5 388.4h0M512.6 381.5h0M512.7 388.4h0M512.8 376.1h0M513.0 381.5h0M513.1 381.5h0M513.2 371.7h0M513.3 376.1h0M513.4 359.5h0M513.5 376.1h0M513.6 381.5h0M513.7 381.5h0M513.8 357.2h0M513.9 368.1h0M514.0 381.5h0M514.2 376.1h0M514.3 381.5h0M514.4 376.1h0M514.5 381.5h0M514.6 388.4h0M514.7 376.1h0M514.8 368.1h0M514.9 371.7h0M515.0 376.1h0M515.1 381.5h0M515.4 381.5h0M515.5 381.5h0M515.6 376.1h0M515.7 364.9h0M515.8 376.1h0M516.0 381.5h0M516.1 381.5h0M516.2 376.1h0M516.3 381.5h0M516.6 388.4h0M516.7 381.5h0M516.9 381.5h0M517.0 381.5h0M517.1 371.7h0M517.2 381.5h0M517.3 388.4h0M517.4 381.5h0M517.5 381.5h0M517.7 371.7h0M517.8 388.4h0M518.0 357.2h0M518.1 376.1h0M518.2 381.5h0M518.3 362.0h0M518.4 388.4h0M518.5 388.4h0M518.6 388.4h0M518.7 376.1h0M518.9 388.4h0M519.0 376.1h0M519.1 388.4h0M519.2 371.7h0M519.3 376.1h0M519.5 381.5h0M519.6 388.4h0M519.7 381.5h0M519.8 381.5h0M520.0 362.0h0M520.1 388.4h0M520.3 381.5h0M520.5 368.1h0M520.6 376.1h0M520.7 368.1h0M520.8 388.4h0M520.9 388.4h0M521.0 381.5h0M521.3 388.4h0M521.4 388.4h0M521.5 388.4h0M521.8 371.7h0M521.9 388.4h0M522.0 388.4h0M522.1 376.1h0M522.2 381.5h0M522.4 388.4h0M522.5 388.4h0M522.6 368.1h0M522.7 371.7h0M522.8 376.1h0M522.9 368.1h0M523.1 381.5h0M523.2 388.4h0M523.4 381.5h0M523.6 376.1h0M523.7 381.5h0M523.9 388.4h0M524.0 381.5h0M524.1 388.4h0M524.2 381.5h0M524.3 381.5h0M524.4 371.7h0M524.5 381.5h0M524.7 359.5h0M524.8 381.5h0M524.9 381.5h0M525.0 376.1h0M525.1 388.4h0M525.2 388.4h0M525.3 371.7h0M525.6 364.9h0M525.7 376.1h0M525.9 381.5h0M526.0 381.5h0M526.1 381.5h0M526.3 388.4h0M526.5 376.1h0M526.6 381.5h0M526.7 381.5h0M526.8 381.5h0M526.9 388.4h0M527.2 368.1h0M527.3 381.5h0M527.4 388.4h0M527.5 381.5h0M527.6 371.7h0M527.7 376.1h0M527.8 381.5h0M527.9 376.1h0M528.0 388.4h0M528.2 371.7h0M528.3 376.1h0M528.4 376.1h0M528.6 381.5h0M528.7 381.5h0M528.8 376.1h0M529.1 381.5h0M529.4 381.5h0M529.5 388.4h0M529.6 376.1h0M529.7 388.4h0M529.9 381.5h0M530.0 388.4h0M530.3 355.1h0M530.4 388.4h0M530.6 388.4h0M530.9 388.4h0M531.0 381.5h0M531.1 381.5h0M531.3 381.5h0M531.4 376.1h0M531.5 388.4h0M531.6 388.4h0M532.1 381.5h0M532.2 388.4h0M532.3 371.7h0M532.4 388.4h0M532.5 381.5h0M532.6 381.5h0M532.7 388.4h0M533.0 371.7h0M533.1 388.4h0M533.5 376.1h0M533.6 376.1h0M533.7 371.7h0M533.8 364.9h0M534.3 381.5h0M534.6 381.5h0" stroke="#f2461c" stroke-width="2.4" stroke-linecap="round" fill="none"/>
<path d="M327.0 223.2h0M327.1 223.1h0M327.2 223.6h0M327.3 222.9h0M327.4 223.0h0M327.5 224.2h0M327.7 224.3h0M327.8 224.2h0M327.9 224.2h0M328.0 224.4h0M328.1 224.5h0M328.2 224.6h0M328.3 224.7h0M328.4 224.7h0M328.5 225.4h0M328.6 225.8h0M328.7 225.9h0M328.9 225.3h0M329.0 225.9h0M329.1 226.2h0M329.2 226.1h0M329.3 226.4h0M329.4 226.1h0M329.5 227.4h0M329.6 227.3h0M329.7 227.3h0M329.8 227.4h0M330.0 228.0h0M330.1 228.7h0M330.2 228.4h0M330.3 228.7h0M330.4 228.7h0M330.5 228.4h0M330.6 228.7h0M330.7 229.6h0M330.8 229.6h0M330.9 229.5h0M331.0 229.3h0M331.2 230.0h0M331.3 230.0h0M331.4 230.9h0M331.5 230.7h0M331.6 231.0h0M331.7 230.8h0M331.8 231.1h0M331.9 231.5h0M332.0 231.8h0M332.1 231.5h0M332.2 232.0h0M332.4 231.5h0M332.5 232.1h0M332.6 232.4h0M332.7 232.1h0M332.8 233.1h0M332.9 232.5h0M333.0 233.3h0M333.1 232.9h0M333.2 233.7h0M333.3 234.0h0M333.4 234.5h0M333.6 233.9h0M333.7 233.9h0M333.8 234.9h0M333.9 233.8h0M334.0 234.7h0M334.1 235.3h0M334.2 234.2h0M334.3 235.4h0M334.4 234.8h0M334.5 236.7h0M334.7 234.8h0M334.8 235.8h0M334.9 236.1h0M335.0 236.1h0M335.1 236.9h0M335.2 236.2h0M335.3 236.6h0M335.4 236.8h0M335.5 237.4h0M335.6 237.9h0M335.7 237.4h0M335.9 237.3h0M336.0 237.8h0M336.1 238.1h0M336.2 238.5h0M336.3 238.1h0M336.4 237.9h0M336.5 238.8h0M336.6 239.3h0M336.7 238.0h0M336.8 240.0h0M336.9 239.3h0M337.1 239.7h0M337.2 239.2h0M337.3 240.1h0M337.4 240.9h0M337.5 240.8h0M337.6 240.5h0M337.7 240.7h0M337.8 241.2h0M337.9 241.3h0M338.0 241.9h0M338.2 242.1h0M338.3 241.8h0M338.4 242.0h0M338.5 242.0h0M338.6 242.6h0M338.7 241.5h0M338.8 243.3h0M338.9 242.2h0M339.0 242.5h0M339.1 242.2h0M339.2 242.4h0M339.4 243.9h0M339.5 243.3h0M339.6 243.2h0M339.7 243.3h0M339.8 243.7h0M339.9 244.4h0M340.0 243.7h0M340.1 244.5h0M340.2 244.9h0M340.3 244.7h0M340.4 245.2h0M340.6 245.5h0M340.7 245.2h0M340.8 244.1h0M340.9 245.5h0M341.0 245.8h0M341.1 246.2h0M341.2 246.0h0M341.3 247.0h0M341.4 246.2h0M341.5 246.5h0M341.6 246.8h0M341.8 246.8h0M341.9 247.3h0M342.0 247.0h0M342.1 247.2h0M342.2 247.4h0M342.3 247.8h0M342.4 247.5h0M342.5 248.3h0M342.6 247.7h0M342.7 248.6h0M342.9 248.0h0M343.0 248.7h0M343.1 249.0h0M343.2 249.7h0M343.3 249.0h0M343.4 249.3h0M343.5 249.6h0M343.6 249.6h0M343.7 249.9h0M343.8 250.7h0M343.9 251.0h0M344.1 250.2h0M344.2 250.6h0M344.3 250.0h0M344.4 249.9h0M344.5 250.7h0M344.6 251.0h0M344.7 251.2h0M344.8 251.6h0M344.9 252.2h0M345.0 253.5h0M345.1 251.7h0M345.3 252.0h0M345.4 252.5h0M345.5 252.6h0M345.6 252.2h0M345.7 252.4h0M345.8 253.0h0M345.9 253.4h0M346.0 253.1h0M346.1 253.2h0M346.2 252.5h0M346.3 254.5h0M346.5 253.8h0M346.6 254.8h0M346.7 254.7h0M346.8 253.2h0M346.9 255.0h0M347.0 255.0h0M347.1 255.4h0M347.2 254.7h0M347.3 255.7h0M347.4 256.6h0M347.6 255.7h0M347.7 255.4h0M347.8 256.1h0M347.9 256.1h0M348.0 256.8h0M348.1 257.1h0M348.2 256.7h0M348.3 257.6h0M348.4 257.3h0M348.5 257.8h0M348.6 257.5h0M348.8 257.0h0M348.9 257.7h0M349.0 257.1h0M349.1 257.8h0M349.2 258.2h0M349.3 258.9h0M349.4 258.4h0M349.5 259.4h0M349.6 258.3h0M349.7 259.9h0M349.8 260.1h0M350.0 259.8h0M350.1 260.5h0M350.2 259.5h0M350.3 260.3h0M350.4 260.2h0M350.5 259.6h0M350.6 261.7h0M350.7 260.5h0M350.8 260.3h0M350.9 260.0h0M351.1 260.7h0M351.2 261.5h0M351.3 260.5h0M351.4 260.7h0M351.5 259.9h0M351.6 260.1h0M351.7 261.9h0M351.8 260.9h0M351.9 261.9h0M352.0 263.0h0M352.1 261.9h0M352.3 261.6h0M352.4 264.4h0M352.5 261.9h0M352.6 263.6h0M352.7 262.0h0M352.8 263.1h0M352.9 263.4h0M353.0 262.6h0M353.1 264.1h0M353.2 262.4h0M353.3 264.8h0M353.5 264.7h0M353.6 265.2h0M353.7 264.1h0M353.8 264.8h0M353.9 264.2h0M354.0 264.2h0M354.1 264.6h0M354.2 264.5h0M354.3 264.6h0M354.4 265.7h0M354.5 266.3h0M354.7 266.7h0M354.8 265.5h0M354.9 266.7h0M355.0 267.2h0M355.1 267.2h0M355.2 266.9h0M355.3 266.7h0M355.4 267.2h0M355.5 268.0h0M355.6 266.9h0M355.8 269.3h0M355.9 267.9h0M356.0 266.9h0M356.1 267.7h0M356.2 267.1h0M356.3 268.2h0M356.4 267.9h0M356.5 268.5h0M356.6 269.0h0M356.7 268.6h0M356.8 268.2h0M357.0 270.8h0M357.1 270.0h0M357.2 271.2h0M357.3 270.4h0M357.4 270.9h0M357.5 270.3h0M357.6 270.3h0M357.7 269.4h0M357.8 269.3h0M357.9 271.2h0M358.0 271.1h0M358.2 270.3h0M358.3 271.5h0M358.4 271.5h0M358.5 272.9h0M358.6 270.8h0M358.7 271.3h0M358.8 272.6h0M358.9 273.0h0M359.0 273.0h0M359.1 271.8h0M359.2 272.7h0M359.4 273.6h0M359.5 272.9h0M359.6 272.0h0M359.7 271.8h0M359.8 271.8h0M359.9 273.0h0M360.0 273.1h0M360.1 273.2h0M360.2 273.0h0M360.3 273.2h0M360.5 274.8h0M360.6 274.7h0M360.7 274.5h0M360.8 273.7h0M360.9 274.9h0M361.0 275.3h0M361.1 273.8h0M361.2 273.5h0M361.3 275.8h0M361.4 275.3h0M361.5 274.2h0M361.7 275.8h0M361.8 274.7h0M361.9 277.1h0M362.0 276.1h0M362.1 275.4h0M362.2 274.7h0M362.3 275.4h0M362.4 278.1h0M362.5 278.1h0M362.6 277.6h0M362.7 276.1h0M362.9 276.3h0M363.0 276.1h0M363.1 276.7h0M363.2 278.1h0M363.3 278.0h0M363.4 278.6h0M363.5 277.0h0M363.6 279.3h0M363.7 278.1h0M363.8 278.1h0M364.0 277.2h0M364.1 279.4h0M364.2 278.3h0M364.3 279.9h0M364.4 278.0h0M364.5 279.5h0M364.6 279.6h0M364.7 280.4h0M364.8 280.2h0M364.9 280.4h0M365.0 280.5h0M365.2 278.8h0M365.3 281.1h0M365.4 280.0h0M365.5 279.5h0M365.6 281.8h0M365.7 282.9h0M365.8 280.3h0M365.9 282.7h0M366.0 281.9h0M366.1 281.3h0M366.2 281.1h0M366.4 281.8h0M366.5 282.4h0M366.6 280.8h0M366.7 281.7h0M366.8 280.0h0M366.9 283.2h0M367.0 282.4h0M367.1 282.5h0M367.2 282.0h0M367.3 282.5h0M367.4 282.8h0M367.6 280.8h0M367.7 283.3h0M367.8 282.8h0M367.9 283.2h0M368.0 284.2h0M368.1 282.9h0M368.2 285.9h0M368.3 282.7h0M368.4 285.8h0M368.5 284.6h0M368.7 284.2h0M368.8 285.0h0M368.9 285.3h0M369.0 283.4h0M369.1 282.1h0M369.2 283.8h0M369.3 284.9h0M369.4 286.0h0M369.5 286.4h0M369.6 284.2h0M369.7 284.6h0M369.9 284.3h0M370.0 284.8h0M370.1 284.5h0M370.2 286.9h0M370.3 287.3h0M370.4 287.8h0M370.5 286.7h0M370.6 287.1h0M370.7 286.8h0M370.8 288.5h0M370.9 286.9h0M371.1 286.4h0M371.2 287.4h0M371.3 290.8h0M371.4 287.8h0M371.5 288.2h0M371.6 286.8h0M371.7 288.2h0M371.8 287.5h0M371.9 288.9h0M372.0 288.1h0M372.1 287.4h0M372.3 289.1h0M372.4 288.5h0M372.5 288.9h0M372.6 288.4h0M372.7 289.5h0M372.8 288.9h0M372.9 291.8h0M373.0 290.0h0M373.1 288.7h0M373.2 289.1h0M373.4 291.2h0M373.5 291.2h0M373.6 289.9h0M373.7 290.0h0M373.8 290.0h0M373.9 290.7h0M374.0 290.7h0M374.1 289.6h0M374.2 292.4h0M374.3 293.0h0M374.4 290.0h0M374.6 292.5h0M374.7 290.7h0M374.8 292.7h0M374.9 293.3h0M375.0 290.0h0M375.1 292.2h0M375.2 294.2h0M375.3 292.7h0M375.4 292.8h0M375.5 293.0h0M375.6 292.5h0M375.8 294.5h0M375.9 293.4h0M376.0 292.5h0M376.1 292.5h0M376.2 293.3h0M376.3 294.7h0M376.4 296.3h0M376.5 291.8h0M376.6 295.5h0M376.7 294.7h0M376.9 294.2h0M377.0 293.7h0M377.1 294.5h0M377.2 295.6h0M377.3 294.8h0M377.4 291.9h0M377.5 291.4h0M377.6 295.3h0M377.7 294.3h0M377.8 297.7h0M377.9 295.1h0M378.1 294.5h0M378.2 296.1h0M378.3 293.3h0M378.4 294.7h0M378.5 295.1h0M378.6 300.0h0M378.7 297.2h0M378.8 295.5h0M378.9 297.2h0M379.0 299.2h0M379.1 297.5h0M379.3 294.7h0M379.4 296.0h0M379.5 295.8h0M379.6 297.0h0M379.7 295.0h0M379.8 301.6h0M379.9 299.4h0M380.0 295.0h0M380.1 296.3h0M380.2 297.7h0M380.3 298.6h0M380.5 301.0h0M380.6 299.0h0M380.7 298.6h0M380.8 300.0h0M380.9 296.6h0M381.0 297.4h0M381.1 299.4h0M381.2 297.7h0M381.3 299.2h0M381.4 298.8h0M381.6 300.2h0M381.7 295.8h0M381.8 302.1h0M381.9 300.0h0M382.0 298.3h0M382.1 298.5h0M382.2 302.7h0M382.3 301.9h0M382.4 300.6h0M382.5 301.9h0M382.6 301.6h0M382.8 301.2h0M382.9 301.2h0M383.0 299.2h0M383.1 303.9h0M383.2 299.6h0M383.3 301.6h0M383.4 300.6h0M383.5 302.1h0M383.6 297.9h0M383.7 304.6h0M383.8 300.0h0M384.0 302.7h0M384.1 302.5h0M384.2 300.0h0M384.3 302.7h0M384.4 301.0h0M384.5 300.2h0M384.6 303.7h0M384.7 299.6h0M384.8 300.8h0M384.9 303.4h0M385.0 302.7h0M385.2 304.6h0M385.3 303.0h0M385.4 302.1h0M385.5 302.1h0M385.6 303.4h0M385.7 304.8h0M385.8 305.1h0M385.9 305.8h0M386.0 304.6h0M386.1 303.4h0M386.3 305.6h0M386.4 305.8h0M386.5 306.6h0M386.6 303.9h0M386.7 305.3h0M386.8 308.0h0M386.9 303.2h0M387.0 303.4h0M387.1 305.3h0M387.2 306.1h0M387.3 305.6h0M387.5 307.4h0M387.6 304.1h0M387.7 303.7h0M387.8 304.4h0M387.9 305.8h0M388.0 305.8h0M388.1 305.6h0M388.2 303.4h0M388.3 308.0h0M388.4 306.9h0M388.5 308.0h0M388.7 309.1h0M388.8 306.6h0M388.9 305.1h0M389.0 309.1h0M389.1 305.6h0M389.2 306.4h0M389.3 306.9h0M389.4 305.3h0M389.5 309.1h0M389.6 305.1h0M389.8 308.8h0M389.9 307.2h0M390.0 311.3h0M390.1 306.6h0M390.2 308.5h0M390.3 309.7h0M390.4 310.6h0M390.5 308.5h0M390.6 306.6h0M390.7 308.3h0M390.8 310.0h0M391.0 310.9h0M391.1 311.6h0M391.2 310.3h0M391.3 312.6h0M391.4 310.6h0M391.5 307.7h0M391.6 310.0h0M391.7 310.3h0M391.8 311.3h0M391.9 309.1h0M392.0 309.1h0M392.2 307.7h0M392.3 311.9h0M392.4 312.9h0M392.5 312.2h0M392.6 313.3h0M392.7 311.3h0M392.8 312.2h0M392.9 312.9h0M393.0 311.6h0M393.1 309.7h0M393.2 310.3h0M393.4 312.9h0M393.5 311.9h0M393.6 311.3h0M393.7 310.9h0M393.8 312.9h0M393.9 315.1h0M394.0 311.9h0M394.1 314.7h0M394.2 313.3h0M394.3 313.3h0M394.5 310.9h0M394.6 314.0h0M394.7 312.9h0M394.8 313.6h0M394.9 314.3h0M395.0 311.6h0M395.1 314.3h0M395.2 312.6h0M395.3 313.3h0M395.4 317.8h0M395.5 317.4h0M395.7 320.5h0M395.8 313.6h0M395.9 313.6h0M396.0 315.4h0M396.1 315.4h0M396.2 315.4h0M396.3 315.8h0M396.4 315.1h0M396.5 315.1h0M396.6 317.0h0M396.7 312.2h0M396.9 312.9h0M397.0 316.2h0M397.1 310.9h0M397.2 310.3h0M397.3 312.9h0M397.4 313.3h0M397.5 317.0h0M397.6 316.6h0M397.7 319.6h0M397.8 317.0h0M397.9 314.0h0M398.1 317.4h0M398.2 320.0h0M398.3 312.9h0M398.4 312.2h0M398.5 313.6h0M398.6 320.0h0M398.7 315.1h0M398.8 318.7h0M398.9 317.4h0M399.0 315.8h0M399.2 314.0h0M399.3 318.7h0M399.4 318.3h0M399.5 320.5h0M399.6 317.8h0M399.7 320.0h0M399.8 319.1h0M399.9 316.2h0M400.0 318.3h0M400.1 317.8h0M400.2 317.8h0M400.4 316.6h0M400.5 315.4h0M400.6 321.4h0M400.7 322.4h0M400.8 317.8h0M400.9 317.4h0M401.0 315.8h0M401.1 317.4h0M401.2 315.4h0M401.3 318.3h0M401.4 321.0h0M401.6 317.4h0M401.7 321.9h0M401.8 321.4h0M401.9 319.1h0M402.0 320.5h0M402.1 317.8h0M402.2 321.0h0M402.3 315.8h0M402.4 323.0h0M402.5 318.7h0M402.6 321.4h0M402.8 317.4h0M402.9 321.9h0M403.0 319.1h0M403.1 328.8h0M403.2 323.0h0M403.3 317.0h0M403.4 321.0h0M403.5 321.0h0M403.6 319.1h0M403.7 315.8h0M403.9 324.0h0M404.0 321.9h0M404.1 323.0h0M404.2 320.0h0M404.3 323.5h0M404.4 325.7h0M404.5 325.7h0M404.6 320.5h0M404.7 321.9h0M404.8 320.5h0M404.9 326.3h0M405.1 325.1h0M405.2 324.0h0M405.3 321.0h0M405.4 321.9h0M405.5 323.5h0M405.6 325.7h0M405.7 323.0h0M405.8 324.6h0M405.9 321.0h0M406.0 319.1h0M406.1 323.5h0M406.3 326.3h0M406.4 317.8h0M406.5 322.4h0M406.6 322.4h0M406.7 324.0h0M406.8 323.5h0M406.9 324.0h0M407.0 323.5h0M407.1 328.2h0M407.2 326.3h0M407.4 325.1h0M407.5 324.6h0M407.6 324.6h0M407.7 324.0h0M407.8 329.5h0M407.9 327.5h0M408.0 326.9h0M408.1 325.1h0M408.2 325.7h0M408.3 320.5h0M408.4 326.3h0M408.6 326.3h0M408.7 330.2h0M408.8 321.0h0M408.9 325.7h0M409.0 326.3h0M409.1 328.2h0M409.2 325.7h0M409.3 327.5h0M409.4 323.0h0M409.5 328.8h0M409.6 327.5h0M409.8 328.2h0M409.9 325.1h0M410.0 325.7h0M410.1 324.0h0M410.2 325.7h0M410.3 325.7h0M410.4 326.9h0M410.5 324.6h0M410.6 326.3h0M410.7 326.3h0M410.8 332.4h0M411.0 328.8h0M411.1 329.5h0M411.2 333.2h0M411.3 324.6h0M411.4 324.0h0M411.5 325.1h0M411.6 326.9h0M411.7 324.0h0M411.8 333.2h0M411.9 325.1h0M412.1 334.0h0M412.2 328.2h0M412.3 328.2h0M412.4 327.5h0M412.5 326.9h0M412.6 326.9h0M412.7 330.9h0M412.8 330.9h0M412.9 331.7h0M413.0 328.8h0M413.1 330.2h0M413.3 334.0h0M413.4 326.9h0M413.5 333.2h0M413.6 331.7h0M413.7 332.4h0M413.8 332.4h0M413.9 328.2h0M414.0 332.4h0M414.1 334.9h0M414.2 332.4h0M414.3 333.2h0M414.5 334.9h0M414.6 328.2h0M414.7 327.5h0M414.8 334.9h0M414.9 326.3h0M415.0 325.7h0M415.1 334.9h0M415.2 330.2h0M415.3 332.4h0M415.4 328.8h0M415.5 340.6h0M415.7 329.5h0M415.8 332.4h0M415.9 330.2h0M416.0 329.5h0M416.1 339.6h0M416.2 332.4h0M416.3 332.4h0M416.4 330.2h0M416.5 328.8h0M416.6 330.2h0M416.8 334.9h0M416.9 330.2h0M417.0 334.9h0M417.1 330.2h0M417.2 333.2h0M417.3 333.2h0M417.4 332.4h0M417.5 337.6h0M417.6 334.0h0M417.7 336.6h0M417.8 330.2h0M418.0 329.5h0M418.1 337.6h0M418.2 340.6h0M418.3 333.2h0M418.4 335.7h0M418.5 336.6h0M418.6 326.9h0M418.7 335.7h0M418.8 337.6h0M418.9 334.9h0M419.0 333.2h0M419.2 329.5h0M419.3 333.2h0M419.4 338.5h0M419.5 335.7h0M419.6 328.8h0M419.7 340.6h0M419.8 334.9h0M419.9 330.9h0M420.0 334.0h0M420.1 335.7h0M420.3 337.6h0M420.4 334.9h0M420.5 334.0h0M420.6 334.9h0M420.7 332.4h0M420.8 334.9h0M420.9 331.7h0M421.0 334.9h0M421.1 333.2h0M421.2 336.6h0M421.3 330.2h0M421.5 331.7h0M421.6 334.0h0M421.7 339.6h0M421.8 335.7h0M421.9 345.4h0M422.0 337.6h0M422.1 335.7h0M422.2 339.6h0M422.3 335.7h0M422.4 334.9h0M422.5 330.9h0M422.7 336.6h0M422.8 341.7h0M422.9 345.4h0M423.0 337.6h0M423.1 334.0h0M423.2 333.2h0M423.3 336.6h0M423.4 339.6h0M423.5 339.6h0M423.6 338.5h0M423.7 337.6h0M423.9 335.7h0M424.0 337.6h0M424.1 330.9h0M424.2 337.6h0M424.3 336.6h0M424.4 334.9h0M424.5 334.9h0M424.6 340.6h0M424.7 344.1h0M424.8 342.9h0M425.0 337.6h0M425.1 336.6h0M425.2 337.6h0M425.3 335.7h0M425.4 334.0h0M425.5 341.7h0M425.6 330.2h0M425.7 329.5h0M425.8 336.6h0M425.9 339.6h0M426.0 338.5h0M426.2 344.1h0M426.3 339.6h0M426.4 342.9h0M426.5 339.6h0M426.6 340.6h0M426.7 332.4h0M426.8 342.9h0M426.9 338.5h0M427.0 341.7h0M427.1 334.0h0M427.2 336.6h0M427.4 345.4h0M427.5 344.1h0M427.6 339.6h0M427.7 342.9h0M427.8 338.5h0M427.9 340.6h0M428.0 344.1h0M428.1 341.7h0M428.2 339.6h0M428.3 341.7h0M428.4 340.6h0M428.6 339.6h0M428.7 341.7h0M428.8 336.6h0M428.9 345.4h0M429.0 339.6h0M429.1 342.9h0M429.2 339.6h0M429.3 338.5h0M429.4 339.6h0M429.5 339.6h0M429.7 338.5h0M429.8 339.6h0M429.9 342.9h0M430.0 339.6h0M430.1 338.5h0M430.2 338.5h0M430.3 341.7h0M430.4 341.7h0M430.5 349.8h0M430.6 345.4h0M430.7 342.9h0M430.9 338.5h0M431.0 338.5h0M431.1 341.7h0M431.2 346.8h0M431.3 340.6h0M431.4 339.6h0M431.5 340.6h0M431.6 345.4h0M431.7 346.8h0M431.8 346.8h0M431.9 348.3h0M432.1 339.6h0M432.2 342.9h0M432.3 335.7h0M432.4 337.6h0M432.5 339.6h0M432.6 346.8h0M432.7 341.7h0M432.8 341.7h0M432.9 349.8h0M433.0 349.8h0M433.2 346.8h0M433.3 339.6h0M433.4 345.4h0M433.5 349.8h0M433.6 344.1h0M433.7 341.7h0M433.8 349.8h0M433.9 337.6h0M434.0 348.3h0M434.1 340.6h0M434.2 341.7h0M434.4 348.3h0M434.5 345.4h0M434.6 345.4h0M434.7 346.8h0M434.8 342.9h0M434.9 345.4h0M435.0 353.2h0M435.1 345.4h0M435.2 349.8h0M435.3 346.8h0M435.4 345.4h0M435.6 346.8h0M435.7 341.7h0M435.8 346.8h0M435.9 348.3h0M436.0 339.6h0M436.1 342.9h0M436.2 346.8h0M436.3 346.8h0M436.4 348.3h0M436.5 346.8h0M436.6 351.5h0M436.8 339.6h0M436.9 341.7h0M437.0 355.1h0M437.1 351.5h0M437.2 346.8h0M437.3 349.8h0M437.4 355.1h0M437.5 344.1h0M437.6 351.5h0M437.7 344.1h0M437.9 345.4h0M438.0 340.6h0M438.1 351.5h0M438.2 339.6h0M438.3 353.2h0M438.4 341.7h0M438.5 342.9h0M438.6 345.4h0M438.7 353.2h0M438.8 341.7h0M438.9 344.1h0M439.1 355.1h0M439.2 359.5h0M439.3 351.5h0M439.4 351.5h0M439.5 345.4h0M439.6 348.3h0M439.7 346.8h0M439.8 351.5h0M439.9 344.1h0M440.0 351.5h0M440.1 355.1h0M440.3 359.5h0M440.4 346.8h0M440.5 351.5h0M440.6 357.2h0M440.7 353.2h0M440.8 351.5h0M440.9 346.8h0M441.0 359.5h0M441.1 351.5h0M441.2 346.8h0M441.3 348.3h0M441.5 345.4h0M441.6 340.6h0M441.7 353.2h0M441.8 353.2h0M441.9 345.4h0M442.0 342.9h0M442.1 348.3h0M442.2 351.5h0M442.3 355.1h0M442.4 346.8h0M442.6 348.3h0M442.7 355.1h0M442.8 353.2h0M442.9 355.1h0M443.0 348.3h0M443.1 351.5h0M443.2 345.4h0M443.3 344.1h0M443.4 349.8h0M443.5 345.4h0M443.6 345.4h0M443.8 344.1h0M443.9 353.2h0M444.0 348.3h0M444.1 342.9h0M444.2 348.3h0M444.3 353.2h0M444.4 349.8h0M444.5 340.6h0M444.6 353.2h0M444.7 355.1h0M444.8 346.8h0M445.0 353.2h0M445.1 359.5h0M445.2 359.5h0M445.3 351.5h0M445.4 355.1h0M445.5 345.4h0M445.6 355.1h0M445.7 359.5h0M445.8 355.1h0M445.9 357.2h0M446.1 346.8h0M446.2 355.1h0M446.3 345.4h0M446.4 349.8h0M446.5 342.9h0M446.6 353.2h0M446.7 348.3h0M446.8 362.0h0M446.9 355.1h0M447.0 357.2h0M447.1 346.8h0M447.3 353.2h0M447.4 349.8h0M447.5 357.2h0M447.6 359.5h0M447.7 353.2h0M447.8 346.8h0M447.9 353.2h0M448.0 345.4h0M448.1 355.1h0M448.2 355.1h0M448.3 355.1h0M448.5 355.1h0M448.6 357.2h0M448.7 355.1h0M448.8 357.2h0M448.9 359.5h0M449.0 346.8h0M449.1 349.8h0M449.2 355.1h0M449.3 357.2h0M449.4 362.0h0M449.5 351.5h0M449.7 357.2h0M449.8 344.1h0M449.9 362.0h0M450.0 353.2h0M450.1 348.3h0M450.2 357.2h0M450.3 344.1h0M450.4 349.8h0M450.5 349.8h0M450.6 359.5h0M450.8 349.8h0M450.9 349.8h0M451.0 353.2h0M451.1 345.4h0M451.2 353.2h0M451.3 364.9h0M451.4 353.2h0M451.5 346.8h0M451.6 357.2h0M451.7 351.5h0M451.8 359.5h0M452.0 355.1h0M452.1 368.1h0M452.2 364.9h0M452.3 357.2h0M452.4 359.5h0M452.5 364.9h0M452.6 351.5h0M452.7 353.2h0M452.8 359.5h0M452.9 368.1h0M453.0 353.2h0M453.2 359.5h0M453.3 353.2h0M453.4 349.8h0M453.5 357.2h0M453.6 357.2h0M453.7 353.2h0M453.8 357.2h0M453.9 368.1h0M454.0 353.2h0M454.1 355.1h0M454.2 359.5h0M454.4 355.1h0M454.5 359.5h0M454.6 359.5h0M454.7 353.2h0M454.8 364.9h0M454.9 364.9h0M455.0 357.2h0M455.1 364.9h0M455.2 353.2h0M455.3 362.0h0M455.5 368.1h0M455.6 359.5h0M455.7 368.1h0M455.8 351.5h0M455.9 357.2h0M456.0 355.1h0M456.1 355.1h0M456.2 357.2h0M456.3 364.9h0M456.4 353.2h0M456.5 359.5h0M456.7 362.0h0M456.8 368.1h0M456.9 351.5h0M457.0 359.5h0M457.1 362.0h0M457.2 368.1h0M457.3 353.2h0M457.4 359.5h0M457.5 353.2h0M457.6 359.5h0M457.7 364.9h0M457.9 355.1h0M458.0 368.1h0M458.1 368.1h0M458.2 359.5h0M458.3 355.1h0M458.4 353.2h0M458.5 359.5h0M458.6 359.5h0M458.7 359.5h0M458.8 362.0h0M459.0 362.0h0M459.1 357.2h0M459.2 362.0h0M459.3 362.0h0M459.4 353.2h0M459.5 359.5h0M459.6 362.0h0M459.7 357.2h0M459.8 362.0h0M459.9 357.2h0M460.0 364.9h0M460.2 364.9h0M460.3 368.1h0M460.4 355.1h0M460.5 353.2h0M460.6 353.2h0M460.7 359.5h0M460.8 359.5h0M460.9 362.0h0M461.0 357.2h0M461.1 362.0h0M461.2 368.1h0M461.4 355.1h0M461.5 355.1h0M461.6 357.2h0M461.7 362.0h0M461.8 362.0h0M461.9 359.5h0M462.0 359.5h0M462.1 368.1h0M462.2 364.9h0M462.3 368.1h0M462.4 355.1h0M462.6 368.1h0M462.7 368.1h0M462.8 368.1h0M462.9 362.0h0M463.0 368.1h0M463.1 351.5h0M463.2 357.2h0M463.3 376.1h0M463.4 362.0h0M463.5 359.5h0M463.7 368.1h0M463.8 362.0h0M463.9 362.0h0M464.0 364.9h0M464.1 362.0h0M464.2 359.5h0M464.3 364.9h0M464.4 362.0h0M464.5 368.1h0M464.6 359.5h0M464.7 368.1h0M464.9 355.1h0M465.0 351.5h0M465.1 353.2h0M465.2 364.9h0M465.3 359.5h0M465.4 364.9h0M465.5 359.5h0M465.6 368.1h0M465.7 368.1h0M465.8 364.9h0M465.9 368.1h0M466.1 357.2h0M466.2 359.5h0M466.3 362.0h0M466.4 364.9h0M466.5 364.9h0M466.6 357.2h0M466.7 362.0h0M466.8 364.9h0M466.9 353.2h0M467.0 362.0h0M467.1 364.9h0M467.3 364.9h0M467.4 357.2h0M467.5 368.1h0M467.6 368.1h0M467.7 357.2h0M467.8 357.2h0M467.9 355.1h0M468.0 368.1h0M468.1 362.0h0M468.2 368.1h0M468.4 362.0h0M468.5 376.1h0M468.6 364.9h0M468.7 357.2h0M468.8 364.9h0M468.9 381.5h0M469.0 359.5h0M469.1 362.0h0M469.2 368.1h0M469.3 364.9h0M469.4 368.1h0M469.6 357.2h0M469.7 364.9h0M469.8 376.1h0M469.9 371.7h0M470.0 355.1h0M470.1 359.5h0M470.2 359.5h0M470.3 371.7h0M470.4 362.0h0M470.5 359.5h0M470.6 364.9h0M470.8 362.0h0M470.9 359.5h0M471.0 359.5h0M471.1 362.0h0M471.2 362.0h0M471.3 371.7h0M471.4 368.1h0M471.5 362.0h0M471.6 355.1h0M471.7 364.9h0M471.8 359.5h0M472.0 364.9h0M472.1 371.7h0M472.2 364.9h0M472.3 364.9h0M472.4 371.7h0M472.5 371.7h0M472.6 364.9h0M472.7 368.1h0M472.8 364.9h0M472.9 376.1h0M473.1 362.0h0M473.2 371.7h0M473.3 364.9h0M473.4 376.1h0M473.5 362.0h0M473.6 364.9h0M473.7 353.2h0M473.8 376.1h0M473.9 381.5h0M474.0 362.0h0M474.1 362.0h0M474.3 376.1h0M474.4 364.9h0M474.5 362.0h0M474.6 359.5h0M474.7 368.1h0M474.8 376.1h0M474.9 381.5h0M475.0 355.1h0M475.1 364.9h0M475.2 362.0h0M475.3 368.1h0M475.5 368.1h0M475.6 368.1h0M475.7 376.1h0M475.8 368.1h0M475.9 376.1h0M476.0 371.7h0M476.1 362.0h0M476.2 368.1h0M476.3 371.7h0M476.4 357.2h0M476.6 359.5h0M476.7 368.1h0M476.8 381.5h0M476.9 359.5h0M477.0 359.5h0M477.1 371.7h0M477.2 359.5h0M477.3 376.1h0M477.4 371.7h0M477.5 371.7h0M477.6 368.1h0M477.8 368.1h0M477.9 359.5h0M478.0 371.7h0M478.1 364.9h0M478.2 368.1h0M478.3 368.1h0M478.4 376.1h0M478.5 368.1h0M478.6 359.5h0M478.7 364.9h0M478.8 376.1h0M479.0 371.7h0M479.1 376.1h0M479.2 376.1h0M479.3 376.1h0M479.4 376.1h0M479.5 368.1h0M479.6 364.9h0M479.7 368.1h0M479.8 371.7h0M479.9 368.1h0M480.0 376.1h0M480.2 362.0h0M480.3 355.1h0M480.4 388.4h0M480.5 368.1h0M480.6 368.1h0M480.7 368.1h0M480.8 371.7h0M480.9 381.5h0M481.0 371.7h0M481.1 371.7h0M481.3 371.7h0M481.4 371.7h0M481.5 376.1h0M481.6 355.1h0M481.7 381.5h0M481.8 371.7h0M481.9 381.5h0M482.0 371.7h0M482.1 359.5h0M482.2 371.7h0M482.3 376.1h0M482.5 381.5h0M482.6 368.1h0M482.7 376.1h0M482.8 368.1h0M482.9 376.1h0M483.0 376.1h0M483.1 371.7h0M483.2 381.5h0M483.3 362.0h0M483.4 381.5h0M483.5 371.7h0M483.7 368.1h0M483.8 355.1h0M483.9 368.1h0M484.0 364.9h0M484.1 376.1h0M484.2 371.7h0M484.3 371.7h0M484.4 364.9h0M484.5 381.5h0M484.6 368.1h0M484.7 351.5h0M484.9 381.5h0M485.0 388.4h0M485.1 376.1h0M485.2 371.7h0M485.3 359.5h0M485.4 368.1h0M485.5 364.9h0M485.6 376.1h0M485.7 371.7h0M485.8 371.7h0M486.0 376.1h0M486.1 371.7h0M486.2 376.1h0M486.3 371.7h0M486.4 381.5h0M486.5 388.4h0M486.6 362.0h0M486.7 371.7h0M486.8 371.7h0M486.9 355.1h0M487.0 364.9h0M487.2 368.1h0M487.3 376.1h0M487.4 371.7h0M487.5 371.7h0M487.6 376.1h0M487.7 362.0h0M487.8 368.1h0M487.9 368.1h0M488.0 381.5h0M488.1 376.1h0M488.2 364.9h0M488.4 371.7h0M488.5 376.1h0M488.6 371.7h0M488.7 371.7h0M488.8 376.1h0M488.9 376.1h0M489.0 368.1h0M489.1 371.7h0M489.2 381.5h0M489.3 381.5h0M489.5 371.7h0M489.6 381.5h0M489.7 371.7h0M489.8 376.1h0M489.9 381.5h0M490.0 388.4h0M490.1 381.5h0M490.2 376.1h0M490.3 376.1h0M490.4 364.9h0M490.5 376.1h0M490.7 376.1h0M490.8 371.7h0M490.9 376.1h0M491.0 362.0h0M491.1 381.5h0M491.2 381.5h0M491.3 376.1h0M491.4 364.9h0M491.5 381.5h0M491.6 381.5h0M491.7 371.7h0M491.9 364.9h0M492.0 376.1h0M492.1 371.7h0M492.2 381.5h0M492.3 364.9h0M492.4 381.5h0M492.5 376.1h0M492.6 376.1h0M492.7 381.5h0M492.8 376.1h0M492.9 371.7h0M493.1 381.5h0M493.2 362.0h0M493.3 371.7h0M493.4 371.7h0M493.5 381.5h0M493.6 376.1h0M493.7 368.1h0M493.8 381.5h0M493.9 381.5h0M494.0 381.5h0M494.2 388.4h0M494.3 371.7h0M494.4 381.5h0M494.5 364.9h0M494.6 388.4h0M494.7 381.5h0M494.8 376.1h0M494.9 381.5h0M495.1 381.5h0M495.2 376.1h0M495.4 381.5h0M495.5 376.1h0M495.6 388.4h0M495.7 376.1h0M495.8 362.0h0M495.9 368.1h0M496.0 368.1h0M496.1 381.5h0M496.2 381.5h0M496.3 368.1h0M496.4 381.5h0M496.6 371.7h0M496.7 388.4h0M496.8 376.1h0M496.9 376.1h0M497.1 376.1h0M497.2 371.7h0M497.3 371.7h0M497.4 376.1h0M497.5 368.1h0M497.6 376.1h0M497.8 381.5h0M497.9 371.7h0M498.0 362.0h0M498.1 381.5h0M498.2 364.9h0M498.3 381.5h0M498.4 388.4h0M498.5 388.4h0M498.6 388.4h0M498.7 368.1h0M498.9 376.1h0M499.0 381.5h0M499.1 376.1h0M499.2 368.1h0M499.3 381.5h0M499.4 381.5h0M499.5 376.1h0M499.6 388.4h0M499.7 376.1h0M499.8 371.7h0M499.9 376.1h0M500.1 381.5h0M500.2 376.1h0M500.3 388.4h0M500.4 364.9h0M500.5 359.5h0M500.6 381.5h0M500.8 381.5h0M500.9 388.4h0M501.1 381.5h0M501.3 381.5h0M501.4 381.5h0M501.5 371.7h0M501.6 381.5h0M501.7 388.4h0M501.8 376.1h0M501.9 388.4h0M502.0 381.5h0M502.1 388.4h0M502.2 376.1h0M502.4 381.5h0M502.5 381.5h0M502.6 376.1h0M502.7 376.1h0M502.8 376.1h0M502.9 371.7h0M503.0 388.4h0M503.1 376.1h0M503.2 364.9h0M503.3 381.5h0M503.6 371.7h0M503.7 381.5h0M503.8 376.1h0M503.9 376.1h0M504.0 376.1h0M504.1 371.7h0M504.2 381.5h0M504.3 376.1h0M504.4 388.4h0M504.5 388.4h0M504.6 381.5h0M504.8 368.1h0M504.9 388.4h0M505.0 381.5h0M505.1 376.1h0M505.2 388.4h0M505.3 388.4h0M505.5 376.1h0M505.6 388.4h0M505.7 376.1h0M505.8 376.1h0M506.0 388.4h0M506.1 376.1h0M506.3 381.5h0M506.4 388.4h0M506.5 381.5h0M506.6 381.5h0M506.7 381.5h0M506.8 376.1h0M506.9 388.4h0M507.2 388.4h0M507.3 371.7h0M507.4 388.4h0M507.5 388.4h0M507.6 381.5h0M507.7 381.5h0M507.8 388.4h0M508.0 376.1h0M508.1 388.4h0M508.4 388.4h0M508.5 381.5h0M508.7 381.5h0M508.8 381.5h0M508.9 376.1h0M509.0 381.5h0M509.1 388.4h0M509.3 381.5h0M509.5 388.4h0M509.6 368.1h0M509.7 388.4h0M509.8 381.5h0M509.9 381.5h0M510.1 376.1h0M510.2 388.4h0M510.4 381.5h0M510.5 371.7h0M510.7 381.5h0M510.8 388.4h0M510.9 388.4h0M511.0 388.4h0M511.1 371.7h0M511.2 381.5h0M511.3 381.5h0M511.4 376.1h0M511.6 381.5h0M511.8 381.5h0M511.9 381.5h0M512.1 388.4h0M512.2 376.1h0M512.3 381.5h0M512.4 381.5h0M512.6 381.5h0M512.7 371.7h0M512.8 381.5h0M513.0 371.7h0M513.1 376.1h0M513.2 376.1h0M513.3 388.4h0M513.4 388.4h0M513.5 388.4h0M513.6 376.1h0M513.7 371.7h0M514.0 381.5h0M514.2 371.7h0M514.3 381.5h0M514.4 381.5h0M514.5 381.5h0M514.6 381.5h0M514.7 388.4h0M514.8 381.5h0M514.9 381.5h0M515.0 388.4h0M515.1 371.7h0M515.4 388.4h0M515.6 376.1h0M515.7 376.1h0M515.8 388.4h0M515.9 388.4h0M516.0 388.4h0M516.3 381.5h0M516.5 381.5h0M516.6 388.4h0M516.7 388.4h0M516.8 376.1h0M516.9 371.7h0M517.0 381.5h0M517.3 388.4h0M517.4 388.4h0M517.5 388.4h0M517.7 388.4h0M517.8 388.4h0M517.9 388.4h0M518.0 381.5h0M518.2 368.1h0M518.3 371.7h0M518.4 388.4h0M518.5 381.5h0M518.6 371.7h0M518.9 388.4h0M519.0 388.4h0M519.2 381.5h0M519.3 388.4h0M519.4 388.4h0M519.5 388.4h0M519.6 388.4h0M519.7 371.7h0M519.8 388.4h0M520.3 388.4h0M520.4 388.4h0M520.5 381.5h0M520.6 388.4h0M520.7 381.5h0M520.8 381.5h0M521.0 381.5h0M521.2 381.5h0M521.3 388.4h0M521.4 376.1h0M521.5 388.4h0M521.7 381.5h0M521.8 371.7h0M522.0 388.4h0M522.1 381.5h0M522.2 381.5h0M522.4 376.1h0M522.5 376.1h0M522.7 381.5h0M523.1 381.5h0M523.3 388.4h0M523.6 368.1h0M523.8 388.4h0M524.1 376.1h0M524.2 388.4h0M524.5 388.4h0M524.7 371.7h0M524.8 388.4h0M524.9 388.4h0M525.0 381.5h0M525.1 364.9h0M525.2 381.5h0M525.5 371.7h0M525.6 388.4h0M526.2 381.5h0M526.3 381.5h0M526.4 376.1h0M526.6 388.4h0M526.7 388.4h0M526.9 381.5h0M527.3 371.7h0M527.4 388.4h0M527.5 381.5h0M527.6 376.1h0M527.8 376.1h0M527.9 388.4h0M528.0 388.4h0M528.2 381.5h0M528.3 381.5h0M528.5 388.4h0M528.6 388.4h0M528.7 381.5h0M528.9 376.1h0M529.1 368.1h0M529.2 388.4h0M529.4 371.7h0M529.6 371.7h0M529.7 388.4h0M529.8 388.4h0M529.9 388.4h0M530.3 388.4h0M530.6 381.5h0M530.7 388.4h0M530.8 376.1h0M531.0 388.4h0M532.0 362.0h0M532.1 388.4h0M532.4 388.4h0M532.6 381.5h0M532.9 388.4h0M533.2 357.2h0M533.7 381.5h0M533.8 388.4h0M534.1 376.1h0M534.4 381.5h0M534.5 388.4h0" stroke="#8a8a8a" stroke-width="2.4" stroke-linecap="round" fill="none"/>
</g>
<circle cx="471.6" cy="230.50" r="1.4" fill="#22e622"/>
<text x="487.3" y="234.40" font-size="10.5" fill="#111">R-CdS</text>
<circle cx="471.6" cy="243.85" r="1.4" fill="#1aa6ee"/>
<text x="487.3" y="247.75" font-size="10.5" fill="#111">R-ZnCdS</text>
<circle cx="471.6" cy="257.20" r="1.4" fill="#f2461c"/>
<text x="487.3" y="261.10" font-size="10.5" fill="#111">T-ZnSe</text>
<circle cx="471.6" cy="270.55" r="1.4" fill="#8a8a8a"/>
<text x="487.3" y="274.45" font-size="10.5" fill="#111">t-ZnSe</text>
<rect x="327.0" y="206.5" width="207.5" height="181.89999999999998" fill="none" stroke="#000" stroke-width="2"/>
<line x1="327.00" y1="388.4" x2="327.00" y2="392.4" stroke="#000" stroke-width="1.6"/>
<text x="327.00" y="407.5" font-size="14.5" text-anchor="middle" fill="#000">0</text>
<line x1="352.95" y1="388.4" x2="352.95" y2="390.79999999999995" stroke="#000" stroke-width="1.6"/>
<line x1="378.90" y1="388.4" x2="378.90" y2="392.4" stroke="#000" stroke-width="1.6"/>
<text x="378.90" y="407.5" font-size="14.5" text-anchor="middle" fill="#000">50</text>
<line x1="404.85" y1="388.4" x2="404.85" y2="390.79999999999995" stroke="#000" stroke-width="1.6"/>
<line x1="430.80" y1="388.4" x2="430.80" y2="392.4" stroke="#000" stroke-width="1.6"/>
<text x="430.80" y="407.5" font-size="14.5" text-anchor="middle" fill="#000">100</text>
<line x1="456.75" y1="388.4" x2="456.75" y2="390.79999999999995" stroke="#000" stroke-width="1.6"/>
<line x1="482.70" y1="388.4" x2="482.70" y2="392.4" stroke="#000" stroke-width="1.6"/>
<text x="482.70" y="407.5" font-size="14.5" text-anchor="middle" fill="#000">150</text>
<line x1="508.65" y1="388.4" x2="508.65" y2="390.79999999999995" stroke="#000" stroke-width="1.6"/>
<line x1="534.60" y1="388.4" x2="534.60" y2="392.4" stroke="#000" stroke-width="1.6"/>
<text x="534.60" y="407.5" font-size="14.5" text-anchor="middle" fill="#000">200</text>
<line x1="323.5" y1="222.90" x2="327.0" y2="222.90" stroke="#000" stroke-width="1.6"/>
<text x="319.8" y="227.90" font-size="13.5" text-anchor="end" fill="#000">10<tspan font-size="9.8" dy="-6.3">0</tspan></text>
<line x1="324.6" y1="261.45" x2="327.0" y2="261.45" stroke="#000" stroke-width="1.4"/>
<line x1="324.6" y1="251.74" x2="327.0" y2="251.74" stroke="#000" stroke-width="1.4"/>
<line x1="324.6" y1="244.85" x2="327.0" y2="244.85" stroke="#000" stroke-width="1.4"/>
<line x1="324.6" y1="239.50" x2="327.0" y2="239.50" stroke="#000" stroke-width="1.4"/>
<line x1="324.6" y1="235.13" x2="327.0" y2="235.13" stroke="#000" stroke-width="1.4"/>
<line x1="324.6" y1="231.44" x2="327.0" y2="231.44" stroke="#000" stroke-width="1.4"/>
<line x1="324.6" y1="228.24" x2="327.0" y2="228.24" stroke="#000" stroke-width="1.4"/>
<line x1="324.6" y1="225.42" x2="327.0" y2="225.42" stroke="#000" stroke-width="1.4"/>
<line x1="323.5" y1="278.05" x2="327.0" y2="278.05" stroke="#000" stroke-width="1.6"/>
<text x="319.8" y="283.05" font-size="13.5" text-anchor="end" fill="#000">10<tspan font-size="9.8" dy="-6.3">-1</tspan></text>
<line x1="324.6" y1="316.60" x2="327.0" y2="316.60" stroke="#000" stroke-width="1.4"/>
<line x1="324.6" y1="306.89" x2="327.0" y2="306.89" stroke="#000" stroke-width="1.4"/>
<line x1="324.6" y1="300.00" x2="327.0" y2="300.00" stroke="#000" stroke-width="1.4"/>
<line x1="324.6" y1="294.65" x2="327.0" y2="294.65" stroke="#000" stroke-width="1.4"/>
<line x1="324.6" y1="290.28" x2="327.0" y2="290.28" stroke="#000" stroke-width="1.4"/>
<line x1="324.6" y1="286.59" x2="327.0" y2="286.59" stroke="#000" stroke-width="1.4"/>
<line x1="324.6" y1="283.39" x2="327.0" y2="283.39" stroke="#000" stroke-width="1.4"/>
<line x1="324.6" y1="280.57" x2="327.0" y2="280.57" stroke="#000" stroke-width="1.4"/>
<line x1="323.5" y1="333.20" x2="327.0" y2="333.20" stroke="#000" stroke-width="1.6"/>
<text x="319.8" y="338.20" font-size="13.5" text-anchor="end" fill="#000">10<tspan font-size="9.8" dy="-6.3">-2</tspan></text>
<line x1="324.6" y1="371.75" x2="327.0" y2="371.75" stroke="#000" stroke-width="1.4"/>
<line x1="324.6" y1="362.04" x2="327.0" y2="362.04" stroke="#000" stroke-width="1.4"/>
<line x1="324.6" y1="355.15" x2="327.0" y2="355.15" stroke="#000" stroke-width="1.4"/>
<line x1="324.6" y1="349.80" x2="327.0" y2="349.80" stroke="#000" stroke-width="1.4"/>
<line x1="324.6" y1="345.43" x2="327.0" y2="345.43" stroke="#000" stroke-width="1.4"/>
<line x1="324.6" y1="341.74" x2="327.0" y2="341.74" stroke="#000" stroke-width="1.4"/>
<line x1="324.6" y1="338.54" x2="327.0" y2="338.54" stroke="#000" stroke-width="1.4"/>
<line x1="324.6" y1="335.72" x2="327.0" y2="335.72" stroke="#000" stroke-width="1.4"/>
<line x1="323.5" y1="388.35" x2="327.0" y2="388.35" stroke="#000" stroke-width="1.6"/>
<text x="319.8" y="393.35" font-size="13.5" text-anchor="end" fill="#000">10<tspan font-size="9.8" dy="-6.3">-3</tspan></text>
<text x="430.5" y="424" font-size="19.5" text-anchor="middle" fill="#000">Wavelength (nm)</text>
<text transform="translate(291.0,296.5) rotate(-90)" font-size="19.4" text-anchor="middle" fill="#000">PL intensity (a.u.)</text>
</svg>
</body></html>
